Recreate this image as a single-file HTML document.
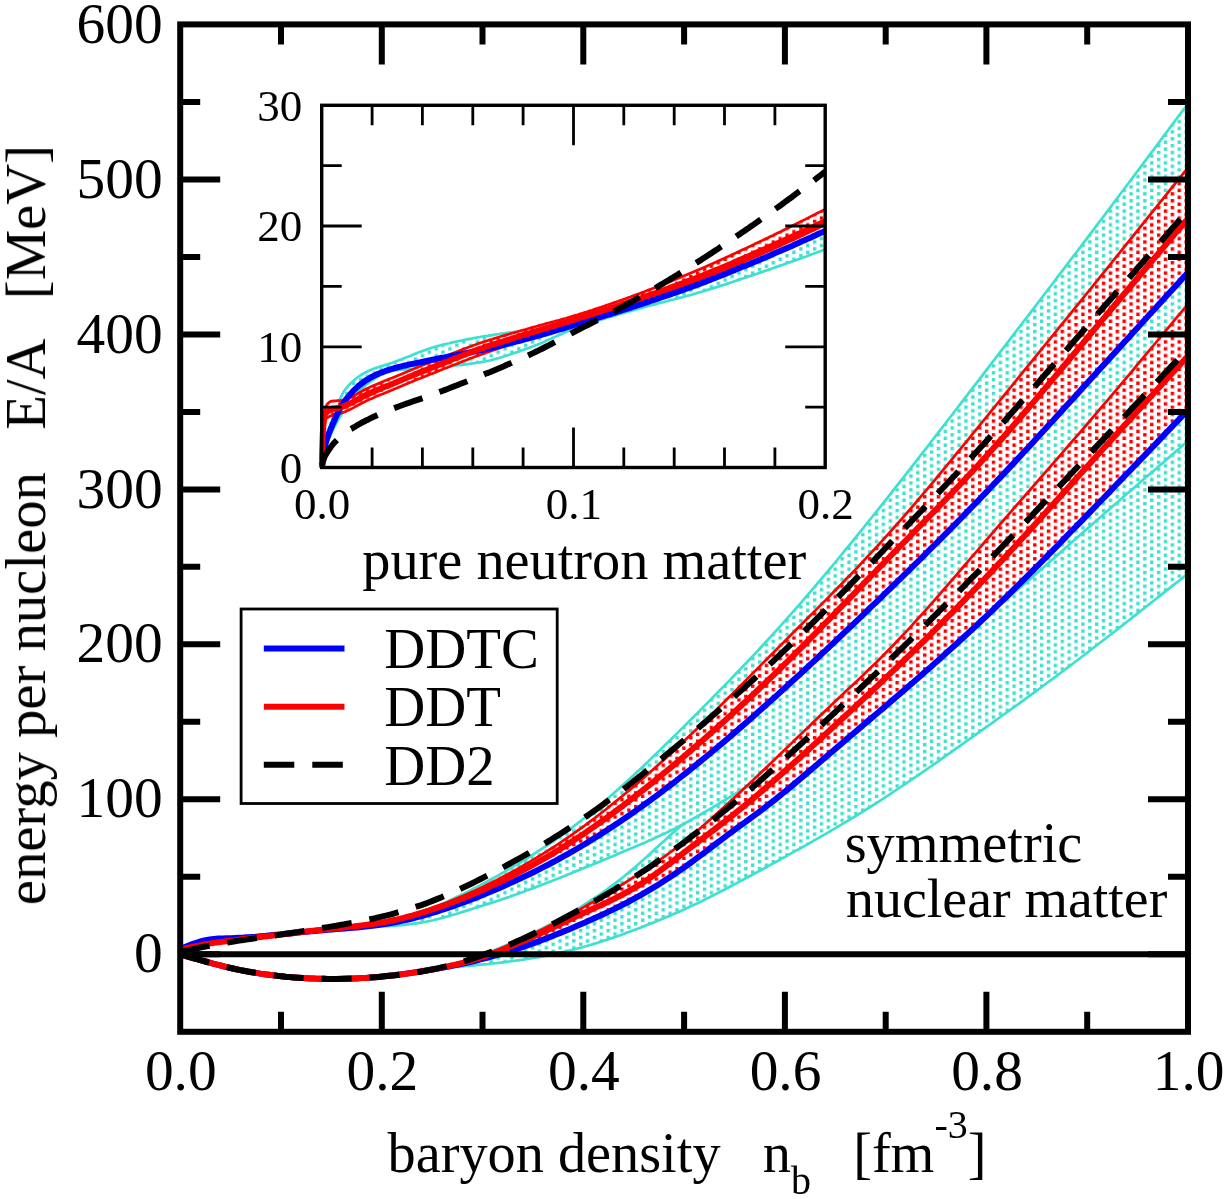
<!DOCTYPE html>
<html><head><meta charset="utf-8"><title>E/A vs baryon density</title>
<style>html,body{margin:0;padding:0;background:#fff}svg{display:block}text{white-space:pre}</style>
</head><body>
<svg width="1226" height="1199" viewBox="0 0 1226 1199">
<defs>
<pattern id="pt" patternUnits="userSpaceOnUse" x="1101.88" y="226.58" width="13.76" height="6.885"><rect x="0" y="0" width="3.44" height="3.44" fill="#40e0d0"/><rect x="6.88" y="3.44" width="3.44" height="3.44" fill="#40e0d0"/></pattern>
<pattern id="pr" patternUnits="userSpaceOnUse" x="1101.88" y="226.58" width="13.76" height="6.885"><rect x="0" y="0" width="3.44" height="3.44" fill="#ff0000"/><rect x="6.88" y="3.44" width="3.44" height="3.44" fill="#ff0000"/></pattern>
<clipPath id="cm"><rect x="180.2" y="24.4" width="1007.8" height="1007.4"/></clipPath>
<clipPath id="ci"><rect x="318.7" y="105.3" width="506.50000000000006" height="363.2"/></clipPath>
</defs>
<rect width="1226" height="1199" fill="#fff"/>
<g clip-path="url(#cm)" fill="none" stroke-linejoin="round">
<path d="M180.2,954.4 L184.4,955.6 L188.6,956.8 L192.9,958.0 L197.1,959.2 L201.3,960.4 L205.5,961.5 L209.7,962.7 L213.9,963.8 L218.2,964.9 L222.4,966.0 L226.6,967.1 L230.8,968.0 L235.0,969.0 L239.2,969.9 L243.5,970.7 L247.7,971.5 L251.9,972.2 L256.1,972.9 L260.3,973.6 L264.5,974.2 L268.8,974.8 L273.0,975.3 L277.2,975.8 L281.4,976.2 L285.6,976.7 L289.8,977.0 L294.1,977.4 L298.3,977.7 L302.5,978.0 L306.7,978.2 L310.9,978.4 L315.1,978.6 L319.4,978.7 L323.6,978.8 L327.8,978.9 L332.0,978.9 L336.2,978.9 L340.4,978.8 L344.7,978.7 L348.9,978.6 L353.1,978.5 L357.3,978.3 L361.5,978.0 L365.7,977.8 L370.0,977.5 L374.2,977.2 L378.4,976.9 L382.6,976.5 L386.8,976.1 L391.0,975.7 L395.3,975.3 L399.5,974.8 L403.7,974.3 L407.9,973.7 L412.1,973.1 L416.3,972.5 L420.6,971.8 L424.8,971.0 L429.0,970.2 L433.2,969.3 L437.4,968.3 L441.6,967.3 L445.9,966.2 L450.1,965.1 L454.3,963.8 L458.5,962.6 L462.7,961.3 L466.9,959.9 L471.2,958.5 L475.4,957.1 L479.6,955.6 L483.8,954.0 L488.0,952.5 L492.2,950.9 L496.5,949.2 L500.7,947.5 L504.9,945.8 L509.1,944.0 L513.3,942.2 L517.5,940.3 L521.8,938.4 L526.0,936.5 L530.2,934.5 L534.4,932.4 L538.6,930.3 L542.8,928.2 L547.1,926.0 L551.3,923.8 L555.5,921.5 L559.7,919.2 L563.9,916.8 L568.1,914.4 L572.4,911.9 L576.6,909.4 L580.8,906.8 L585.0,904.1 L589.2,901.4 L593.4,898.7 L597.7,895.9 L601.9,893.0 L606.1,890.0 L610.3,886.9 L614.5,883.8 L618.7,880.6 L623.0,877.3 L627.2,873.9 L631.4,870.4 L635.6,866.8 L639.8,863.0 L644.0,859.3 L648.3,855.4 L652.5,851.5 L656.7,847.6 L660.9,843.8 L665.1,839.9 L669.3,836.1 L673.6,832.3 L677.8,828.7 L682.0,825.1 L686.2,821.7 L690.4,818.3 L694.6,815.0 L698.9,811.7 L703.1,808.4 L707.3,805.2 L711.5,801.9 L715.7,798.6 L719.9,795.3 L724.2,791.9 L728.4,788.4 L732.6,784.9 L736.8,781.3 L741.0,777.7 L745.2,774.0 L749.5,770.3 L753.7,766.5 L757.9,762.7 L762.1,758.8 L766.3,754.9 L770.5,751.0 L774.8,747.0 L779.0,743.0 L783.2,739.0 L787.4,735.0 L791.6,731.0 L795.8,726.9 L800.1,722.8 L804.3,718.8 L808.5,714.7 L812.7,710.6 L816.9,706.5 L821.1,702.4 L825.4,698.3 L829.6,694.3 L833.8,690.2 L838.0,686.2 L842.2,682.1 L846.4,678.1 L850.7,674.1 L854.9,670.0 L859.1,666.0 L863.3,661.9 L867.5,657.9 L871.7,653.8 L876.0,649.6 L880.2,645.5 L884.4,641.3 L888.6,637.0 L892.8,632.7 L897.0,628.4 L901.3,624.0 L905.5,619.6 L909.7,615.2 L913.9,610.7 L918.1,606.2 L922.3,601.6 L926.6,597.0 L930.8,592.4 L935.0,587.8 L939.2,583.2 L943.4,578.5 L947.6,573.8 L951.9,569.1 L956.1,564.3 L960.3,559.6 L964.5,554.8 L968.7,550.1 L972.9,545.3 L977.2,540.5 L981.4,535.7 L985.6,531.0 L989.8,526.2 L994.0,521.4 L998.2,516.6 L1002.5,511.8 L1006.7,507.0 L1010.9,502.2 L1015.1,497.4 L1019.3,492.6 L1023.5,487.8 L1027.8,483.0 L1032.0,478.2 L1036.2,473.4 L1040.4,468.6 L1044.6,463.8 L1048.8,459.0 L1053.1,454.2 L1057.3,449.3 L1061.5,444.5 L1065.7,439.7 L1069.9,434.9 L1074.1,430.0 L1078.4,425.2 L1082.6,420.3 L1086.8,415.5 L1091.0,410.6 L1095.2,405.8 L1099.4,400.9 L1103.7,396.0 L1107.9,391.2 L1112.1,386.3 L1116.3,381.4 L1120.5,376.5 L1124.7,371.6 L1129.0,366.7 L1133.2,361.8 L1137.4,356.9 L1141.6,352.0 L1145.8,347.1 L1150.0,342.2 L1154.3,337.3 L1158.5,332.4 L1162.7,327.5 L1166.9,322.6 L1171.1,317.7 L1175.3,312.7 L1179.6,307.8 L1183.8,302.9 L1188.0,298.0 L1188.0,573.5 L1183.8,576.9 L1179.6,580.2 L1175.3,583.6 L1171.1,586.9 L1166.9,590.3 L1162.7,593.6 L1158.5,596.9 L1154.3,600.3 L1150.0,603.6 L1145.8,607.0 L1141.6,610.3 L1137.4,613.6 L1133.2,616.9 L1129.0,620.3 L1124.7,623.6 L1120.5,626.9 L1116.3,630.2 L1112.1,633.5 L1107.9,636.7 L1103.7,640.0 L1099.4,643.3 L1095.2,646.5 L1091.0,649.8 L1086.8,653.0 L1082.6,656.3 L1078.4,659.5 L1074.1,662.7 L1069.9,665.9 L1065.7,669.1 L1061.5,672.2 L1057.3,675.4 L1053.1,678.6 L1048.8,681.7 L1044.6,684.8 L1040.4,688.0 L1036.2,691.1 L1032.0,694.2 L1027.8,697.2 L1023.5,700.3 L1019.3,703.4 L1015.1,706.4 L1010.9,709.5 L1006.7,712.5 L1002.5,715.5 L998.2,718.5 L994.0,721.6 L989.8,724.6 L985.6,727.6 L981.4,730.6 L977.2,733.6 L972.9,736.7 L968.7,739.7 L964.5,742.7 L960.3,745.7 L956.1,748.7 L951.9,751.7 L947.6,754.7 L943.4,757.6 L939.2,760.6 L935.0,763.6 L930.8,766.5 L926.6,769.4 L922.3,772.4 L918.1,775.3 L913.9,778.2 L909.7,781.0 L905.5,783.9 L901.3,786.7 L897.0,789.5 L892.8,792.3 L888.6,795.1 L884.4,797.9 L880.2,800.6 L876.0,803.3 L871.7,806.0 L867.5,808.6 L863.3,811.3 L859.1,813.9 L854.9,816.5 L850.7,819.0 L846.4,821.6 L842.2,824.1 L838.0,826.6 L833.8,829.1 L829.6,831.6 L825.4,834.1 L821.1,836.5 L816.9,838.9 L812.7,841.4 L808.5,843.8 L804.3,846.1 L800.1,848.5 L795.8,850.9 L791.6,853.2 L787.4,855.6 L783.2,857.9 L779.0,860.3 L774.8,862.6 L770.5,864.9 L766.3,867.2 L762.1,869.5 L757.9,871.8 L753.7,874.1 L749.5,876.3 L745.2,878.6 L741.0,880.8 L736.8,883.1 L732.6,885.3 L728.4,887.5 L724.2,889.8 L719.9,892.0 L715.7,894.1 L711.5,896.3 L707.3,898.4 L703.1,900.5 L698.9,902.6 L694.6,904.6 L690.4,906.5 L686.2,908.5 L682.0,910.4 L677.8,912.3 L673.6,914.1 L669.3,915.9 L665.1,917.7 L660.9,919.5 L656.7,921.2 L652.5,922.9 L648.3,924.6 L644.0,926.2 L639.8,927.9 L635.6,929.5 L631.4,931.1 L627.2,932.6 L623.0,934.2 L618.7,935.7 L614.5,937.2 L610.3,938.6 L606.1,940.0 L601.9,941.4 L597.7,942.8 L593.4,944.1 L589.2,945.3 L585.0,946.5 L580.8,947.7 L576.6,948.8 L572.4,949.9 L568.1,950.9 L563.9,951.9 L559.7,952.9 L555.5,953.8 L551.3,954.7 L547.1,955.5 L542.8,956.3 L538.6,957.1 L534.4,957.8 L530.2,958.5 L526.0,959.2 L521.8,959.8 L517.5,960.4 L513.3,961.0 L509.1,961.5 L504.9,962.1 L500.7,962.6 L496.5,963.1 L492.2,963.5 L488.0,964.0 L483.8,964.4 L479.6,964.8 L475.4,965.2 L471.2,965.6 L466.9,965.9 L462.7,966.3 L458.5,966.7 L454.3,967.1 L450.1,967.5 L445.9,967.9 L441.6,968.4 L437.4,968.9 L433.2,969.4 L429.0,969.9 L424.8,970.5 L420.6,971.1 L416.3,971.7 L412.1,972.4 L407.9,973.0 L403.7,973.7 L399.5,974.3 L395.3,974.9 L391.0,975.5 L386.8,976.0 L382.6,976.5 L378.4,977.0 L374.2,977.3 L370.0,977.7 L365.7,978.0 L361.5,978.2 L357.3,978.5 L353.1,978.6 L348.9,978.8 L344.7,978.8 L340.4,978.9 L336.2,978.9 L332.0,978.9 L327.8,978.9 L323.6,978.8 L319.4,978.7 L315.1,978.5 L310.9,978.4 L306.7,978.2 L302.5,977.9 L298.3,977.7 L294.1,977.4 L289.8,977.0 L285.6,976.7 L281.4,976.2 L277.2,975.8 L273.0,975.3 L268.8,974.8 L264.5,974.2 L260.3,973.6 L256.1,973.0 L251.9,972.3 L247.7,971.5 L243.5,970.7 L239.2,969.9 L235.0,969.0 L230.8,968.0 L226.6,967.1 L222.4,966.0 L218.2,964.9 L213.9,963.8 L209.7,962.7 L205.5,961.5 L201.3,960.4 L197.1,959.2 L192.9,958.0 L188.6,956.8 L184.4,955.6 L180.2,954.4 Z" fill="url(#pt)"/>
<path d="M180.2,954.4 L184.4,955.6 L188.6,956.8 L192.9,958.0 L197.1,959.2 L201.3,960.4 L205.5,961.5 L209.7,962.7 L213.9,963.8 L218.2,964.9 L222.4,966.0 L226.6,967.1 L230.8,968.0 L235.0,969.0 L239.2,969.9 L243.5,970.7 L247.7,971.5 L251.9,972.2 L256.1,972.9 L260.3,973.6 L264.5,974.2 L268.8,974.8 L273.0,975.3 L277.2,975.8 L281.4,976.2 L285.6,976.7 L289.8,977.0 L294.1,977.4 L298.3,977.7 L302.5,978.0 L306.7,978.2 L310.9,978.4 L315.1,978.6 L319.4,978.7 L323.6,978.8 L327.8,978.9 L332.0,978.9 L336.2,978.9 L340.4,978.8 L344.7,978.7 L348.9,978.6 L353.1,978.5 L357.3,978.3 L361.5,978.0 L365.7,977.8 L370.0,977.5 L374.2,977.2 L378.4,976.9 L382.6,976.5 L386.8,976.1 L391.0,975.7 L395.3,975.3 L399.5,974.8 L403.7,974.3 L407.9,973.7 L412.1,973.1 L416.3,972.5 L420.6,971.8 L424.8,971.0 L429.0,970.2 L433.2,969.3 L437.4,968.3 L441.6,967.3 L445.9,966.2 L450.1,965.1 L454.3,963.8 L458.5,962.6 L462.7,961.3 L466.9,959.9 L471.2,958.5 L475.4,957.1 L479.6,955.6 L483.8,954.0 L488.0,952.5 L492.2,950.9 L496.5,949.2 L500.7,947.5 L504.9,945.8 L509.1,944.0 L513.3,942.2 L517.5,940.3 L521.8,938.4 L526.0,936.5 L530.2,934.5 L534.4,932.4 L538.6,930.3 L542.8,928.2 L547.1,926.0 L551.3,923.8 L555.5,921.5 L559.7,919.2 L563.9,916.8 L568.1,914.4 L572.4,911.9 L576.6,909.4 L580.8,906.8 L585.0,904.1 L589.2,901.4 L593.4,898.7 L597.7,895.9 L601.9,893.0 L606.1,890.0 L610.3,886.9 L614.5,883.8 L618.7,880.6 L623.0,877.3 L627.2,873.9 L631.4,870.4 L635.6,866.8 L639.8,863.0 L644.0,859.3 L648.3,855.4 L652.5,851.5 L656.7,847.6 L660.9,843.8 L665.1,839.9 L669.3,836.1 L673.6,832.3 L677.8,828.7 L682.0,825.1 L686.2,821.7 L690.4,818.3 L694.6,815.0 L698.9,811.7 L703.1,808.4 L707.3,805.2 L711.5,801.9 L715.7,798.6 L719.9,795.3 L724.2,791.9 L728.4,788.4 L732.6,784.9 L736.8,781.3 L741.0,777.7 L745.2,774.0 L749.5,770.3 L753.7,766.5 L757.9,762.7 L762.1,758.8 L766.3,754.9 L770.5,751.0 L774.8,747.0 L779.0,743.0 L783.2,739.0 L787.4,735.0 L791.6,731.0 L795.8,726.9 L800.1,722.8 L804.3,718.8 L808.5,714.7 L812.7,710.6 L816.9,706.5 L821.1,702.4 L825.4,698.3 L829.6,694.3 L833.8,690.2 L838.0,686.2 L842.2,682.1 L846.4,678.1 L850.7,674.1 L854.9,670.0 L859.1,666.0 L863.3,661.9 L867.5,657.9 L871.7,653.8 L876.0,649.6 L880.2,645.5 L884.4,641.3 L888.6,637.0 L892.8,632.7 L897.0,628.4 L901.3,624.0 L905.5,619.6 L909.7,615.2 L913.9,610.7 L918.1,606.2 L922.3,601.6 L926.6,597.0 L930.8,592.4 L935.0,587.8 L939.2,583.2 L943.4,578.5 L947.6,573.8 L951.9,569.1 L956.1,564.3 L960.3,559.6 L964.5,554.8 L968.7,550.1 L972.9,545.3 L977.2,540.5 L981.4,535.7 L985.6,531.0 L989.8,526.2 L994.0,521.4 L998.2,516.6 L1002.5,511.8 L1006.7,507.0 L1010.9,502.2 L1015.1,497.4 L1019.3,492.6 L1023.5,487.8 L1027.8,483.0 L1032.0,478.2 L1036.2,473.4 L1040.4,468.6 L1044.6,463.8 L1048.8,459.0 L1053.1,454.2 L1057.3,449.3 L1061.5,444.5 L1065.7,439.7 L1069.9,434.9 L1074.1,430.0 L1078.4,425.2 L1082.6,420.3 L1086.8,415.5 L1091.0,410.6 L1095.2,405.8 L1099.4,400.9 L1103.7,396.0 L1107.9,391.2 L1112.1,386.3 L1116.3,381.4 L1120.5,376.5 L1124.7,371.6 L1129.0,366.7 L1133.2,361.8 L1137.4,356.9 L1141.6,352.0 L1145.8,347.1 L1150.0,342.2 L1154.3,337.3 L1158.5,332.4 L1162.7,327.5 L1166.9,322.6 L1171.1,317.7 L1175.3,312.7 L1179.6,307.8 L1183.8,302.9 L1188.0,298.0" stroke="#40e0d0" stroke-width="2.7"/>
<path d="M180.2,954.4 L184.4,955.6 L188.6,956.8 L192.9,958.0 L197.1,959.2 L201.3,960.4 L205.5,961.5 L209.7,962.7 L213.9,963.8 L218.2,964.9 L222.4,966.0 L226.6,967.1 L230.8,968.0 L235.0,969.0 L239.2,969.9 L243.5,970.7 L247.7,971.5 L251.9,972.3 L256.1,973.0 L260.3,973.6 L264.5,974.2 L268.8,974.8 L273.0,975.3 L277.2,975.8 L281.4,976.2 L285.6,976.7 L289.8,977.0 L294.1,977.4 L298.3,977.7 L302.5,977.9 L306.7,978.2 L310.9,978.4 L315.1,978.5 L319.4,978.7 L323.6,978.8 L327.8,978.9 L332.0,978.9 L336.2,978.9 L340.4,978.9 L344.7,978.8 L348.9,978.8 L353.1,978.6 L357.3,978.5 L361.5,978.2 L365.7,978.0 L370.0,977.7 L374.2,977.3 L378.4,977.0 L382.6,976.5 L386.8,976.0 L391.0,975.5 L395.3,974.9 L399.5,974.3 L403.7,973.7 L407.9,973.0 L412.1,972.4 L416.3,971.7 L420.6,971.1 L424.8,970.5 L429.0,969.9 L433.2,969.4 L437.4,968.9 L441.6,968.4 L445.9,967.9 L450.1,967.5 L454.3,967.1 L458.5,966.7 L462.7,966.3 L466.9,965.9 L471.2,965.6 L475.4,965.2 L479.6,964.8 L483.8,964.4 L488.0,964.0 L492.2,963.5 L496.5,963.1 L500.7,962.6 L504.9,962.1 L509.1,961.5 L513.3,961.0 L517.5,960.4 L521.8,959.8 L526.0,959.2 L530.2,958.5 L534.4,957.8 L538.6,957.1 L542.8,956.3 L547.1,955.5 L551.3,954.7 L555.5,953.8 L559.7,952.9 L563.9,951.9 L568.1,950.9 L572.4,949.9 L576.6,948.8 L580.8,947.7 L585.0,946.5 L589.2,945.3 L593.4,944.1 L597.7,942.8 L601.9,941.4 L606.1,940.0 L610.3,938.6 L614.5,937.2 L618.7,935.7 L623.0,934.2 L627.2,932.6 L631.4,931.1 L635.6,929.5 L639.8,927.9 L644.0,926.2 L648.3,924.6 L652.5,922.9 L656.7,921.2 L660.9,919.5 L665.1,917.7 L669.3,915.9 L673.6,914.1 L677.8,912.3 L682.0,910.4 L686.2,908.5 L690.4,906.5 L694.6,904.6 L698.9,902.6 L703.1,900.5 L707.3,898.4 L711.5,896.3 L715.7,894.1 L719.9,892.0 L724.2,889.8 L728.4,887.5 L732.6,885.3 L736.8,883.1 L741.0,880.8 L745.2,878.6 L749.5,876.3 L753.7,874.1 L757.9,871.8 L762.1,869.5 L766.3,867.2 L770.5,864.9 L774.8,862.6 L779.0,860.3 L783.2,857.9 L787.4,855.6 L791.6,853.2 L795.8,850.9 L800.1,848.5 L804.3,846.1 L808.5,843.8 L812.7,841.4 L816.9,838.9 L821.1,836.5 L825.4,834.1 L829.6,831.6 L833.8,829.1 L838.0,826.6 L842.2,824.1 L846.4,821.6 L850.7,819.0 L854.9,816.5 L859.1,813.9 L863.3,811.3 L867.5,808.6 L871.7,806.0 L876.0,803.3 L880.2,800.6 L884.4,797.9 L888.6,795.1 L892.8,792.3 L897.0,789.5 L901.3,786.7 L905.5,783.9 L909.7,781.0 L913.9,778.2 L918.1,775.3 L922.3,772.4 L926.6,769.4 L930.8,766.5 L935.0,763.6 L939.2,760.6 L943.4,757.6 L947.6,754.7 L951.9,751.7 L956.1,748.7 L960.3,745.7 L964.5,742.7 L968.7,739.7 L972.9,736.7 L977.2,733.6 L981.4,730.6 L985.6,727.6 L989.8,724.6 L994.0,721.6 L998.2,718.5 L1002.5,715.5 L1006.7,712.5 L1010.9,709.5 L1015.1,706.4 L1019.3,703.4 L1023.5,700.3 L1027.8,697.2 L1032.0,694.2 L1036.2,691.1 L1040.4,688.0 L1044.6,684.8 L1048.8,681.7 L1053.1,678.6 L1057.3,675.4 L1061.5,672.2 L1065.7,669.1 L1069.9,665.9 L1074.1,662.7 L1078.4,659.5 L1082.6,656.3 L1086.8,653.0 L1091.0,649.8 L1095.2,646.5 L1099.4,643.3 L1103.7,640.0 L1107.9,636.7 L1112.1,633.5 L1116.3,630.2 L1120.5,626.9 L1124.7,623.6 L1129.0,620.3 L1133.2,616.9 L1137.4,613.6 L1141.6,610.3 L1145.8,607.0 L1150.0,603.6 L1154.3,600.3 L1158.5,596.9 L1162.7,593.6 L1166.9,590.3 L1171.1,586.9 L1175.3,583.6 L1179.6,580.2 L1183.8,576.9 L1188.0,573.5" stroke="#40e0d0" stroke-width="2.7"/>
<path d="M180.2,949.0 L184.4,947.2 L188.6,945.5 L192.9,943.9 L197.1,942.5 L201.3,941.2 L205.5,940.2 L209.7,939.4 L213.9,939.0 L218.2,938.6 L222.4,938.4 L226.6,938.3 L230.8,938.2 L235.0,938.0 L239.2,937.8 L243.5,937.6 L247.7,937.3 L251.9,937.0 L256.1,936.6 L260.3,936.3 L264.5,935.9 L268.8,935.5 L273.0,935.1 L277.2,934.7 L281.4,934.3 L285.6,933.8 L289.8,933.4 L294.1,933.0 L298.3,932.6 L302.5,932.2 L306.7,931.8 L310.9,931.4 L315.1,931.0 L319.4,930.6 L323.6,930.2 L327.8,929.8 L332.0,929.4 L336.2,929.0 L340.4,928.6 L344.7,928.2 L348.9,927.8 L353.1,927.3 L357.3,926.8 L361.5,926.3 L365.7,925.7 L370.0,925.1 L374.2,924.4 L378.4,923.6 L382.6,922.8 L386.8,922.0 L391.0,921.0 L395.3,920.0 L399.5,918.9 L403.7,917.7 L407.9,916.5 L412.1,915.2 L416.3,913.8 L420.6,912.3 L424.8,910.8 L429.0,909.2 L433.2,907.6 L437.4,905.9 L441.6,904.1 L445.9,902.2 L450.1,900.3 L454.3,898.3 L458.5,896.3 L462.7,894.2 L466.9,892.1 L471.2,890.0 L475.4,887.8 L479.6,885.6 L483.8,883.3 L488.0,881.0 L492.2,878.7 L496.5,876.4 L500.7,874.0 L504.9,871.6 L509.1,869.2 L513.3,866.7 L517.5,864.2 L521.8,861.6 L526.0,859.0 L530.2,856.4 L534.4,853.7 L538.6,850.9 L542.8,848.2 L547.1,845.3 L551.3,842.5 L555.5,839.5 L559.7,836.5 L563.9,833.5 L568.1,830.4 L572.4,827.3 L576.6,824.1 L580.8,820.8 L585.0,817.5 L589.2,814.1 L593.4,810.6 L597.7,807.1 L601.9,803.5 L606.1,799.9 L610.3,796.3 L614.5,792.6 L618.7,788.8 L623.0,785.0 L627.2,781.1 L631.4,777.3 L635.6,773.3 L639.8,769.4 L644.0,765.4 L648.3,761.4 L652.5,757.3 L656.7,753.3 L660.9,749.2 L665.1,745.0 L669.3,740.9 L673.6,736.7 L677.8,732.6 L682.0,728.4 L686.2,724.2 L690.4,720.0 L694.6,715.8 L698.9,711.6 L703.1,707.3 L707.3,703.1 L711.5,698.8 L715.7,694.5 L719.9,690.2 L724.2,685.9 L728.4,681.6 L732.6,677.2 L736.8,672.8 L741.0,668.4 L745.2,664.0 L749.5,659.5 L753.7,655.1 L757.9,650.6 L762.1,646.0 L766.3,641.5 L770.5,636.9 L774.8,632.2 L779.0,627.6 L783.2,622.9 L787.4,618.2 L791.6,613.4 L795.8,608.6 L800.1,603.8 L804.3,598.9 L808.5,594.0 L812.7,589.1 L816.9,584.2 L821.1,579.2 L825.4,574.2 L829.6,569.1 L833.8,564.1 L838.0,559.0 L842.2,553.9 L846.4,548.7 L850.7,543.6 L854.9,538.4 L859.1,533.2 L863.3,528.0 L867.5,522.7 L871.7,517.5 L876.0,512.2 L880.2,506.9 L884.4,501.6 L888.6,496.3 L892.8,490.9 L897.0,485.6 L901.3,480.2 L905.5,474.8 L909.7,469.4 L913.9,464.0 L918.1,458.6 L922.3,453.2 L926.6,447.8 L930.8,442.3 L935.0,436.9 L939.2,431.4 L943.4,426.0 L947.6,420.5 L951.9,415.0 L956.1,409.5 L960.3,404.1 L964.5,398.6 L968.7,393.1 L972.9,387.6 L977.2,382.1 L981.4,376.6 L985.6,371.1 L989.8,365.6 L994.0,360.1 L998.2,354.6 L1002.5,349.1 L1006.7,343.6 L1010.9,338.1 L1015.1,332.6 L1019.3,327.1 L1023.5,321.6 L1027.8,316.1 L1032.0,310.6 L1036.2,305.1 L1040.4,299.5 L1044.6,294.0 L1048.8,288.5 L1053.1,283.0 L1057.3,277.4 L1061.5,271.9 L1065.7,266.4 L1069.9,260.8 L1074.1,255.3 L1078.4,249.7 L1082.6,244.1 L1086.8,238.6 L1091.0,233.0 L1095.2,227.4 L1099.4,221.8 L1103.7,216.2 L1107.9,210.6 L1112.1,205.0 L1116.3,199.4 L1120.5,193.8 L1124.7,188.2 L1129.0,182.5 L1133.2,176.9 L1137.4,171.3 L1141.6,165.6 L1145.8,160.0 L1150.0,154.4 L1154.3,148.7 L1158.5,143.1 L1162.7,137.4 L1166.9,131.8 L1171.1,126.1 L1175.3,120.5 L1179.6,114.8 L1183.8,109.2 L1188.0,103.5 L1188.0,441.0 L1183.8,444.6 L1179.6,448.3 L1175.3,451.9 L1171.1,455.6 L1166.9,459.2 L1162.7,462.9 L1158.5,466.5 L1154.3,470.2 L1150.0,473.8 L1145.8,477.5 L1141.6,481.1 L1137.4,484.8 L1133.2,488.5 L1129.0,492.1 L1124.7,495.8 L1120.5,499.5 L1116.3,503.2 L1112.1,506.8 L1107.9,510.5 L1103.7,514.2 L1099.4,517.9 L1095.2,521.7 L1091.0,525.4 L1086.8,529.1 L1082.6,532.8 L1078.4,536.6 L1074.1,540.3 L1069.9,544.0 L1065.7,547.8 L1061.5,551.5 L1057.3,555.2 L1053.1,559.0 L1048.8,562.7 L1044.6,566.4 L1040.4,570.0 L1036.2,573.7 L1032.0,577.4 L1027.8,581.0 L1023.5,584.6 L1019.3,588.2 L1015.1,591.8 L1010.9,595.3 L1006.7,598.9 L1002.5,602.4 L998.2,605.9 L994.0,609.4 L989.8,612.9 L985.6,616.3 L981.4,619.8 L977.2,623.2 L972.9,626.6 L968.7,630.0 L964.5,633.3 L960.3,636.7 L956.1,640.0 L951.9,643.3 L947.6,646.6 L943.4,649.9 L939.2,653.2 L935.0,656.5 L930.8,659.7 L926.6,662.9 L922.3,666.1 L918.1,669.3 L913.9,672.5 L909.7,675.7 L905.5,678.8 L901.3,681.9 L897.0,685.0 L892.8,688.1 L888.6,691.2 L884.4,694.3 L880.2,697.4 L876.0,700.4 L871.7,703.4 L867.5,706.4 L863.3,709.4 L859.1,712.4 L854.9,715.4 L850.7,718.3 L846.4,721.2 L842.2,724.2 L838.0,727.1 L833.8,730.0 L829.6,732.8 L825.4,735.7 L821.1,738.6 L816.9,741.4 L812.7,744.2 L808.5,747.0 L804.3,749.8 L800.1,752.6 L795.8,755.4 L791.6,758.1 L787.4,760.9 L783.2,763.6 L779.0,766.3 L774.8,769.0 L770.5,771.7 L766.3,774.4 L762.1,777.1 L757.9,779.7 L753.7,782.4 L749.5,785.0 L745.2,787.6 L741.0,790.2 L736.8,792.8 L732.6,795.4 L728.4,797.9 L724.2,800.5 L719.9,803.0 L715.7,805.6 L711.5,808.1 L707.3,810.6 L703.1,813.0 L698.9,815.5 L694.6,817.9 L690.4,820.2 L686.2,822.6 L682.0,824.8 L677.8,827.1 L673.6,829.2 L669.3,831.3 L665.1,833.4 L660.9,835.3 L656.7,837.3 L652.5,839.2 L648.3,841.1 L644.0,842.9 L639.8,844.7 L635.6,846.5 L631.4,848.3 L627.2,850.1 L623.0,851.8 L618.7,853.6 L614.5,855.4 L610.3,857.2 L606.1,858.9 L601.9,860.7 L597.7,862.4 L593.4,864.2 L589.2,865.9 L585.0,867.6 L580.8,869.4 L576.6,871.1 L572.4,872.8 L568.1,874.5 L563.9,876.2 L559.7,877.9 L555.5,879.5 L551.3,881.2 L547.1,882.8 L542.8,884.5 L538.6,886.1 L534.4,887.7 L530.2,889.3 L526.0,890.8 L521.8,892.4 L517.5,893.9 L513.3,895.4 L509.1,896.9 L504.9,898.4 L500.7,899.8 L496.5,901.2 L492.2,902.6 L488.0,903.9 L483.8,905.3 L479.6,906.6 L475.4,907.9 L471.2,909.3 L466.9,910.6 L462.7,911.9 L458.5,913.2 L454.3,914.5 L450.1,915.7 L445.9,917.0 L441.6,918.1 L437.4,919.2 L433.2,920.3 L429.0,921.2 L424.8,922.0 L420.6,922.7 L416.3,923.4 L412.1,923.9 L407.9,924.4 L403.7,924.9 L399.5,925.3 L395.3,925.6 L391.0,925.9 L386.8,926.2 L382.6,926.5 L378.4,926.7 L374.2,926.9 L370.0,927.2 L365.7,927.4 L361.5,927.6 L357.3,927.9 L353.1,928.1 L348.9,928.3 L344.7,928.6 L340.4,928.9 L336.2,929.1 L332.0,929.5 L327.8,929.8 L323.6,930.1 L319.4,930.5 L315.1,930.9 L310.9,931.3 L306.7,931.7 L302.5,932.1 L298.3,932.5 L294.1,933.0 L289.8,933.4 L285.6,933.8 L281.4,934.3 L277.2,934.7 L273.0,935.1 L268.8,935.5 L264.5,935.9 L260.3,936.3 L256.1,936.7 L251.9,937.0 L247.7,937.3 L243.5,937.6 L239.2,937.8 L235.0,938.0 L230.8,938.2 L226.6,938.3 L222.4,938.4 L218.2,938.6 L213.9,938.9 L209.7,939.4 L205.5,940.2 L201.3,941.2 L197.1,942.5 L192.9,943.9 L188.6,945.5 L184.4,947.2 L180.2,949.0 Z" fill="#fff"/>
<path d="M180.2,949.0 L184.4,947.2 L188.6,945.5 L192.9,943.9 L197.1,942.5 L201.3,941.2 L205.5,940.2 L209.7,939.4 L213.9,939.0 L218.2,938.6 L222.4,938.4 L226.6,938.3 L230.8,938.2 L235.0,938.0 L239.2,937.8 L243.5,937.6 L247.7,937.3 L251.9,937.0 L256.1,936.6 L260.3,936.3 L264.5,935.9 L268.8,935.5 L273.0,935.1 L277.2,934.7 L281.4,934.3 L285.6,933.8 L289.8,933.4 L294.1,933.0 L298.3,932.6 L302.5,932.2 L306.7,931.8 L310.9,931.4 L315.1,931.0 L319.4,930.6 L323.6,930.2 L327.8,929.8 L332.0,929.4 L336.2,929.0 L340.4,928.6 L344.7,928.2 L348.9,927.8 L353.1,927.3 L357.3,926.8 L361.5,926.3 L365.7,925.7 L370.0,925.1 L374.2,924.4 L378.4,923.6 L382.6,922.8 L386.8,922.0 L391.0,921.0 L395.3,920.0 L399.5,918.9 L403.7,917.7 L407.9,916.5 L412.1,915.2 L416.3,913.8 L420.6,912.3 L424.8,910.8 L429.0,909.2 L433.2,907.6 L437.4,905.9 L441.6,904.1 L445.9,902.2 L450.1,900.3 L454.3,898.3 L458.5,896.3 L462.7,894.2 L466.9,892.1 L471.2,890.0 L475.4,887.8 L479.6,885.6 L483.8,883.3 L488.0,881.0 L492.2,878.7 L496.5,876.4 L500.7,874.0 L504.9,871.6 L509.1,869.2 L513.3,866.7 L517.5,864.2 L521.8,861.6 L526.0,859.0 L530.2,856.4 L534.4,853.7 L538.6,850.9 L542.8,848.2 L547.1,845.3 L551.3,842.5 L555.5,839.5 L559.7,836.5 L563.9,833.5 L568.1,830.4 L572.4,827.3 L576.6,824.1 L580.8,820.8 L585.0,817.5 L589.2,814.1 L593.4,810.6 L597.7,807.1 L601.9,803.5 L606.1,799.9 L610.3,796.3 L614.5,792.6 L618.7,788.8 L623.0,785.0 L627.2,781.1 L631.4,777.3 L635.6,773.3 L639.8,769.4 L644.0,765.4 L648.3,761.4 L652.5,757.3 L656.7,753.3 L660.9,749.2 L665.1,745.0 L669.3,740.9 L673.6,736.7 L677.8,732.6 L682.0,728.4 L686.2,724.2 L690.4,720.0 L694.6,715.8 L698.9,711.6 L703.1,707.3 L707.3,703.1 L711.5,698.8 L715.7,694.5 L719.9,690.2 L724.2,685.9 L728.4,681.6 L732.6,677.2 L736.8,672.8 L741.0,668.4 L745.2,664.0 L749.5,659.5 L753.7,655.1 L757.9,650.6 L762.1,646.0 L766.3,641.5 L770.5,636.9 L774.8,632.2 L779.0,627.6 L783.2,622.9 L787.4,618.2 L791.6,613.4 L795.8,608.6 L800.1,603.8 L804.3,598.9 L808.5,594.0 L812.7,589.1 L816.9,584.2 L821.1,579.2 L825.4,574.2 L829.6,569.1 L833.8,564.1 L838.0,559.0 L842.2,553.9 L846.4,548.7 L850.7,543.6 L854.9,538.4 L859.1,533.2 L863.3,528.0 L867.5,522.7 L871.7,517.5 L876.0,512.2 L880.2,506.9 L884.4,501.6 L888.6,496.3 L892.8,490.9 L897.0,485.6 L901.3,480.2 L905.5,474.8 L909.7,469.4 L913.9,464.0 L918.1,458.6 L922.3,453.2 L926.6,447.8 L930.8,442.3 L935.0,436.9 L939.2,431.4 L943.4,426.0 L947.6,420.5 L951.9,415.0 L956.1,409.5 L960.3,404.1 L964.5,398.6 L968.7,393.1 L972.9,387.6 L977.2,382.1 L981.4,376.6 L985.6,371.1 L989.8,365.6 L994.0,360.1 L998.2,354.6 L1002.5,349.1 L1006.7,343.6 L1010.9,338.1 L1015.1,332.6 L1019.3,327.1 L1023.5,321.6 L1027.8,316.1 L1032.0,310.6 L1036.2,305.1 L1040.4,299.5 L1044.6,294.0 L1048.8,288.5 L1053.1,283.0 L1057.3,277.4 L1061.5,271.9 L1065.7,266.4 L1069.9,260.8 L1074.1,255.3 L1078.4,249.7 L1082.6,244.1 L1086.8,238.6 L1091.0,233.0 L1095.2,227.4 L1099.4,221.8 L1103.7,216.2 L1107.9,210.6 L1112.1,205.0 L1116.3,199.4 L1120.5,193.8 L1124.7,188.2 L1129.0,182.5 L1133.2,176.9 L1137.4,171.3 L1141.6,165.6 L1145.8,160.0 L1150.0,154.4 L1154.3,148.7 L1158.5,143.1 L1162.7,137.4 L1166.9,131.8 L1171.1,126.1 L1175.3,120.5 L1179.6,114.8 L1183.8,109.2 L1188.0,103.5 L1188.0,441.0 L1183.8,444.6 L1179.6,448.3 L1175.3,451.9 L1171.1,455.6 L1166.9,459.2 L1162.7,462.9 L1158.5,466.5 L1154.3,470.2 L1150.0,473.8 L1145.8,477.5 L1141.6,481.1 L1137.4,484.8 L1133.2,488.5 L1129.0,492.1 L1124.7,495.8 L1120.5,499.5 L1116.3,503.2 L1112.1,506.8 L1107.9,510.5 L1103.7,514.2 L1099.4,517.9 L1095.2,521.7 L1091.0,525.4 L1086.8,529.1 L1082.6,532.8 L1078.4,536.6 L1074.1,540.3 L1069.9,544.0 L1065.7,547.8 L1061.5,551.5 L1057.3,555.2 L1053.1,559.0 L1048.8,562.7 L1044.6,566.4 L1040.4,570.0 L1036.2,573.7 L1032.0,577.4 L1027.8,581.0 L1023.5,584.6 L1019.3,588.2 L1015.1,591.8 L1010.9,595.3 L1006.7,598.9 L1002.5,602.4 L998.2,605.9 L994.0,609.4 L989.8,612.9 L985.6,616.3 L981.4,619.8 L977.2,623.2 L972.9,626.6 L968.7,630.0 L964.5,633.3 L960.3,636.7 L956.1,640.0 L951.9,643.3 L947.6,646.6 L943.4,649.9 L939.2,653.2 L935.0,656.5 L930.8,659.7 L926.6,662.9 L922.3,666.1 L918.1,669.3 L913.9,672.5 L909.7,675.7 L905.5,678.8 L901.3,681.9 L897.0,685.0 L892.8,688.1 L888.6,691.2 L884.4,694.3 L880.2,697.4 L876.0,700.4 L871.7,703.4 L867.5,706.4 L863.3,709.4 L859.1,712.4 L854.9,715.4 L850.7,718.3 L846.4,721.2 L842.2,724.2 L838.0,727.1 L833.8,730.0 L829.6,732.8 L825.4,735.7 L821.1,738.6 L816.9,741.4 L812.7,744.2 L808.5,747.0 L804.3,749.8 L800.1,752.6 L795.8,755.4 L791.6,758.1 L787.4,760.9 L783.2,763.6 L779.0,766.3 L774.8,769.0 L770.5,771.7 L766.3,774.4 L762.1,777.1 L757.9,779.7 L753.7,782.4 L749.5,785.0 L745.2,787.6 L741.0,790.2 L736.8,792.8 L732.6,795.4 L728.4,797.9 L724.2,800.5 L719.9,803.0 L715.7,805.6 L711.5,808.1 L707.3,810.6 L703.1,813.0 L698.9,815.5 L694.6,817.9 L690.4,820.2 L686.2,822.6 L682.0,824.8 L677.8,827.1 L673.6,829.2 L669.3,831.3 L665.1,833.4 L660.9,835.3 L656.7,837.3 L652.5,839.2 L648.3,841.1 L644.0,842.9 L639.8,844.7 L635.6,846.5 L631.4,848.3 L627.2,850.1 L623.0,851.8 L618.7,853.6 L614.5,855.4 L610.3,857.2 L606.1,858.9 L601.9,860.7 L597.7,862.4 L593.4,864.2 L589.2,865.9 L585.0,867.6 L580.8,869.4 L576.6,871.1 L572.4,872.8 L568.1,874.5 L563.9,876.2 L559.7,877.9 L555.5,879.5 L551.3,881.2 L547.1,882.8 L542.8,884.5 L538.6,886.1 L534.4,887.7 L530.2,889.3 L526.0,890.8 L521.8,892.4 L517.5,893.9 L513.3,895.4 L509.1,896.9 L504.9,898.4 L500.7,899.8 L496.5,901.2 L492.2,902.6 L488.0,903.9 L483.8,905.3 L479.6,906.6 L475.4,907.9 L471.2,909.3 L466.9,910.6 L462.7,911.9 L458.5,913.2 L454.3,914.5 L450.1,915.7 L445.9,917.0 L441.6,918.1 L437.4,919.2 L433.2,920.3 L429.0,921.2 L424.8,922.0 L420.6,922.7 L416.3,923.4 L412.1,923.9 L407.9,924.4 L403.7,924.9 L399.5,925.3 L395.3,925.6 L391.0,925.9 L386.8,926.2 L382.6,926.5 L378.4,926.7 L374.2,926.9 L370.0,927.2 L365.7,927.4 L361.5,927.6 L357.3,927.9 L353.1,928.1 L348.9,928.3 L344.7,928.6 L340.4,928.9 L336.2,929.1 L332.0,929.5 L327.8,929.8 L323.6,930.1 L319.4,930.5 L315.1,930.9 L310.9,931.3 L306.7,931.7 L302.5,932.1 L298.3,932.5 L294.1,933.0 L289.8,933.4 L285.6,933.8 L281.4,934.3 L277.2,934.7 L273.0,935.1 L268.8,935.5 L264.5,935.9 L260.3,936.3 L256.1,936.7 L251.9,937.0 L247.7,937.3 L243.5,937.6 L239.2,937.8 L235.0,938.0 L230.8,938.2 L226.6,938.3 L222.4,938.4 L218.2,938.6 L213.9,938.9 L209.7,939.4 L205.5,940.2 L201.3,941.2 L197.1,942.5 L192.9,943.9 L188.6,945.5 L184.4,947.2 L180.2,949.0 Z" fill="url(#pt)"/>
<path d="M180.2,949.0 L184.4,947.2 L188.6,945.5 L192.9,943.9 L197.1,942.5 L201.3,941.2 L205.5,940.2 L209.7,939.4 L213.9,939.0 L218.2,938.6 L222.4,938.4 L226.6,938.3 L230.8,938.2 L235.0,938.0 L239.2,937.8 L243.5,937.6 L247.7,937.3 L251.9,937.0 L256.1,936.6 L260.3,936.3 L264.5,935.9 L268.8,935.5 L273.0,935.1 L277.2,934.7 L281.4,934.3 L285.6,933.8 L289.8,933.4 L294.1,933.0 L298.3,932.6 L302.5,932.2 L306.7,931.8 L310.9,931.4 L315.1,931.0 L319.4,930.6 L323.6,930.2 L327.8,929.8 L332.0,929.4 L336.2,929.0 L340.4,928.6 L344.7,928.2 L348.9,927.8 L353.1,927.3 L357.3,926.8 L361.5,926.3 L365.7,925.7 L370.0,925.1 L374.2,924.4 L378.4,923.6 L382.6,922.8 L386.8,922.0 L391.0,921.0 L395.3,920.0 L399.5,918.9 L403.7,917.7 L407.9,916.5 L412.1,915.2 L416.3,913.8 L420.6,912.3 L424.8,910.8 L429.0,909.2 L433.2,907.6 L437.4,905.9 L441.6,904.1 L445.9,902.2 L450.1,900.3 L454.3,898.3 L458.5,896.3 L462.7,894.2 L466.9,892.1 L471.2,890.0 L475.4,887.8 L479.6,885.6 L483.8,883.3 L488.0,881.0 L492.2,878.7 L496.5,876.4 L500.7,874.0 L504.9,871.6 L509.1,869.2 L513.3,866.7 L517.5,864.2 L521.8,861.6 L526.0,859.0 L530.2,856.4 L534.4,853.7 L538.6,850.9 L542.8,848.2 L547.1,845.3 L551.3,842.5 L555.5,839.5 L559.7,836.5 L563.9,833.5 L568.1,830.4 L572.4,827.3 L576.6,824.1 L580.8,820.8 L585.0,817.5 L589.2,814.1 L593.4,810.6 L597.7,807.1 L601.9,803.5 L606.1,799.9 L610.3,796.3 L614.5,792.6 L618.7,788.8 L623.0,785.0 L627.2,781.1 L631.4,777.3 L635.6,773.3 L639.8,769.4 L644.0,765.4 L648.3,761.4 L652.5,757.3 L656.7,753.3 L660.9,749.2 L665.1,745.0 L669.3,740.9 L673.6,736.7 L677.8,732.6 L682.0,728.4 L686.2,724.2 L690.4,720.0 L694.6,715.8 L698.9,711.6 L703.1,707.3 L707.3,703.1 L711.5,698.8 L715.7,694.5 L719.9,690.2 L724.2,685.9 L728.4,681.6 L732.6,677.2 L736.8,672.8 L741.0,668.4 L745.2,664.0 L749.5,659.5 L753.7,655.1 L757.9,650.6 L762.1,646.0 L766.3,641.5 L770.5,636.9 L774.8,632.2 L779.0,627.6 L783.2,622.9 L787.4,618.2 L791.6,613.4 L795.8,608.6 L800.1,603.8 L804.3,598.9 L808.5,594.0 L812.7,589.1 L816.9,584.2 L821.1,579.2 L825.4,574.2 L829.6,569.1 L833.8,564.1 L838.0,559.0 L842.2,553.9 L846.4,548.7 L850.7,543.6 L854.9,538.4 L859.1,533.2 L863.3,528.0 L867.5,522.7 L871.7,517.5 L876.0,512.2 L880.2,506.9 L884.4,501.6 L888.6,496.3 L892.8,490.9 L897.0,485.6 L901.3,480.2 L905.5,474.8 L909.7,469.4 L913.9,464.0 L918.1,458.6 L922.3,453.2 L926.6,447.8 L930.8,442.3 L935.0,436.9 L939.2,431.4 L943.4,426.0 L947.6,420.5 L951.9,415.0 L956.1,409.5 L960.3,404.1 L964.5,398.6 L968.7,393.1 L972.9,387.6 L977.2,382.1 L981.4,376.6 L985.6,371.1 L989.8,365.6 L994.0,360.1 L998.2,354.6 L1002.5,349.1 L1006.7,343.6 L1010.9,338.1 L1015.1,332.6 L1019.3,327.1 L1023.5,321.6 L1027.8,316.1 L1032.0,310.6 L1036.2,305.1 L1040.4,299.5 L1044.6,294.0 L1048.8,288.5 L1053.1,283.0 L1057.3,277.4 L1061.5,271.9 L1065.7,266.4 L1069.9,260.8 L1074.1,255.3 L1078.4,249.7 L1082.6,244.1 L1086.8,238.6 L1091.0,233.0 L1095.2,227.4 L1099.4,221.8 L1103.7,216.2 L1107.9,210.6 L1112.1,205.0 L1116.3,199.4 L1120.5,193.8 L1124.7,188.2 L1129.0,182.5 L1133.2,176.9 L1137.4,171.3 L1141.6,165.6 L1145.8,160.0 L1150.0,154.4 L1154.3,148.7 L1158.5,143.1 L1162.7,137.4 L1166.9,131.8 L1171.1,126.1 L1175.3,120.5 L1179.6,114.8 L1183.8,109.2 L1188.0,103.5" stroke="#40e0d0" stroke-width="2.7"/>
<path d="M180.2,949.0 L184.4,947.2 L188.6,945.5 L192.9,943.9 L197.1,942.5 L201.3,941.2 L205.5,940.2 L209.7,939.4 L213.9,938.9 L218.2,938.6 L222.4,938.4 L226.6,938.3 L230.8,938.2 L235.0,938.0 L239.2,937.8 L243.5,937.6 L247.7,937.3 L251.9,937.0 L256.1,936.7 L260.3,936.3 L264.5,935.9 L268.8,935.5 L273.0,935.1 L277.2,934.7 L281.4,934.3 L285.6,933.8 L289.8,933.4 L294.1,933.0 L298.3,932.5 L302.5,932.1 L306.7,931.7 L310.9,931.3 L315.1,930.9 L319.4,930.5 L323.6,930.1 L327.8,929.8 L332.0,929.5 L336.2,929.1 L340.4,928.9 L344.7,928.6 L348.9,928.3 L353.1,928.1 L357.3,927.9 L361.5,927.6 L365.7,927.4 L370.0,927.2 L374.2,926.9 L378.4,926.7 L382.6,926.5 L386.8,926.2 L391.0,925.9 L395.3,925.6 L399.5,925.3 L403.7,924.9 L407.9,924.4 L412.1,923.9 L416.3,923.4 L420.6,922.7 L424.8,922.0 L429.0,921.2 L433.2,920.3 L437.4,919.2 L441.6,918.1 L445.9,917.0 L450.1,915.7 L454.3,914.5 L458.5,913.2 L462.7,911.9 L466.9,910.6 L471.2,909.3 L475.4,907.9 L479.6,906.6 L483.8,905.3 L488.0,903.9 L492.2,902.6 L496.5,901.2 L500.7,899.8 L504.9,898.4 L509.1,896.9 L513.3,895.4 L517.5,893.9 L521.8,892.4 L526.0,890.8 L530.2,889.3 L534.4,887.7 L538.6,886.1 L542.8,884.5 L547.1,882.8 L551.3,881.2 L555.5,879.5 L559.7,877.9 L563.9,876.2 L568.1,874.5 L572.4,872.8 L576.6,871.1 L580.8,869.4 L585.0,867.6 L589.2,865.9 L593.4,864.2 L597.7,862.4 L601.9,860.7 L606.1,858.9 L610.3,857.2 L614.5,855.4 L618.7,853.6 L623.0,851.8 L627.2,850.1 L631.4,848.3 L635.6,846.5 L639.8,844.7 L644.0,842.9 L648.3,841.1 L652.5,839.2 L656.7,837.3 L660.9,835.3 L665.1,833.4 L669.3,831.3 L673.6,829.2 L677.8,827.1 L682.0,824.8 L686.2,822.6 L690.4,820.2 L694.6,817.9 L698.9,815.5 L703.1,813.0 L707.3,810.6 L711.5,808.1 L715.7,805.6 L719.9,803.0 L724.2,800.5 L728.4,797.9 L732.6,795.4 L736.8,792.8 L741.0,790.2 L745.2,787.6 L749.5,785.0 L753.7,782.4 L757.9,779.7 L762.1,777.1 L766.3,774.4 L770.5,771.7 L774.8,769.0 L779.0,766.3 L783.2,763.6 L787.4,760.9 L791.6,758.1 L795.8,755.4 L800.1,752.6 L804.3,749.8 L808.5,747.0 L812.7,744.2 L816.9,741.4 L821.1,738.6 L825.4,735.7 L829.6,732.8 L833.8,730.0 L838.0,727.1 L842.2,724.2 L846.4,721.2 L850.7,718.3 L854.9,715.4 L859.1,712.4 L863.3,709.4 L867.5,706.4 L871.7,703.4 L876.0,700.4 L880.2,697.4 L884.4,694.3 L888.6,691.2 L892.8,688.1 L897.0,685.0 L901.3,681.9 L905.5,678.8 L909.7,675.7 L913.9,672.5 L918.1,669.3 L922.3,666.1 L926.6,662.9 L930.8,659.7 L935.0,656.5 L939.2,653.2 L943.4,649.9 L947.6,646.6 L951.9,643.3 L956.1,640.0 L960.3,636.7 L964.5,633.3 L968.7,630.0 L972.9,626.6 L977.2,623.2 L981.4,619.8 L985.6,616.3 L989.8,612.9 L994.0,609.4 L998.2,605.9 L1002.5,602.4 L1006.7,598.9 L1010.9,595.3 L1015.1,591.8 L1019.3,588.2 L1023.5,584.6 L1027.8,581.0 L1032.0,577.4 L1036.2,573.7 L1040.4,570.0 L1044.6,566.4 L1048.8,562.7 L1053.1,559.0 L1057.3,555.2 L1061.5,551.5 L1065.7,547.8 L1069.9,544.0 L1074.1,540.3 L1078.4,536.6 L1082.6,532.8 L1086.8,529.1 L1091.0,525.4 L1095.2,521.7 L1099.4,517.9 L1103.7,514.2 L1107.9,510.5 L1112.1,506.8 L1116.3,503.2 L1120.5,499.5 L1124.7,495.8 L1129.0,492.1 L1133.2,488.5 L1137.4,484.8 L1141.6,481.1 L1145.8,477.5 L1150.0,473.8 L1154.3,470.2 L1158.5,466.5 L1162.7,462.9 L1166.9,459.2 L1171.1,455.6 L1175.3,451.9 L1179.6,448.3 L1183.8,444.6 L1188.0,441.0" stroke="#40e0d0" stroke-width="2.7"/>
<path d="M180.2,949.5 L184.4,948.6 L188.6,947.6 L192.9,946.7 L197.1,945.9 L201.3,945.1 L205.5,944.3 L209.7,943.6 L213.9,942.9 L218.2,942.3 L222.4,941.7 L226.6,941.2 L230.8,940.7 L235.0,940.2 L239.2,939.6 L243.5,939.1 L247.7,938.6 L251.9,938.1 L256.1,937.6 L260.3,937.1 L264.5,936.6 L268.8,936.1 L273.0,935.6 L277.2,935.1 L281.4,934.5 L285.6,934.0 L289.8,933.5 L294.1,933.0 L298.3,932.5 L302.5,932.0 L306.7,931.5 L310.9,931.0 L315.1,930.5 L319.4,930.0 L323.6,929.5 L327.8,929.0 L332.0,928.5 L336.2,928.1 L340.4,927.6 L344.7,927.2 L348.9,926.7 L353.1,926.2 L357.3,925.7 L361.5,925.2 L365.7,924.6 L370.0,924.0 L374.2,923.3 L378.4,922.6 L382.6,921.8 L386.8,921.0 L391.0,920.1 L395.3,919.1 L399.5,918.0 L403.7,916.9 L407.9,915.8 L412.1,914.5 L416.3,913.3 L420.6,911.9 L424.8,910.5 L429.0,909.1 L433.2,907.6 L437.4,906.1 L441.6,904.5 L445.9,902.9 L450.1,901.2 L454.3,899.5 L458.5,897.8 L462.7,896.0 L466.9,894.2 L471.2,892.3 L475.4,890.4 L479.6,888.4 L483.8,886.4 L488.0,884.3 L492.2,882.3 L496.5,880.1 L500.7,878.0 L504.9,875.8 L509.1,873.5 L513.3,871.2 L517.5,868.9 L521.8,866.5 L526.0,864.0 L530.2,861.6 L534.4,859.1 L538.6,856.5 L542.8,853.9 L547.1,851.2 L551.3,848.5 L555.5,845.8 L559.7,843.0 L563.9,840.2 L568.1,837.3 L572.4,834.3 L576.6,831.4 L580.8,828.3 L585.0,825.3 L589.2,822.1 L593.4,819.0 L597.7,815.8 L601.9,812.5 L606.1,809.2 L610.3,805.8 L614.5,802.4 L618.7,799.0 L623.0,795.5 L627.2,792.0 L631.4,788.4 L635.6,784.9 L639.8,781.2 L644.0,777.5 L648.3,773.8 L652.5,770.1 L656.7,766.3 L660.9,762.5 L665.1,758.7 L669.3,754.8 L673.6,750.9 L677.8,747.0 L682.0,743.0 L686.2,739.0 L690.4,735.0 L694.6,730.9 L698.9,726.9 L703.1,722.8 L707.3,718.7 L711.5,714.5 L715.7,710.4 L719.9,706.2 L724.2,702.0 L728.4,697.8 L732.6,693.6 L736.8,689.4 L741.0,685.2 L745.2,680.9 L749.5,676.7 L753.7,672.4 L757.9,668.2 L762.1,663.9 L766.3,659.7 L770.5,655.4 L774.8,651.2 L779.0,646.9 L783.2,642.7 L787.4,638.5 L791.6,634.2 L795.8,630.0 L800.1,625.8 L804.3,621.6 L808.5,617.3 L812.7,613.1 L816.9,608.9 L821.1,604.6 L825.4,600.4 L829.6,596.1 L833.8,591.8 L838.0,587.5 L842.2,583.2 L846.4,578.8 L850.7,574.5 L854.9,570.1 L859.1,565.7 L863.3,561.2 L867.5,556.7 L871.7,552.2 L876.0,547.6 L880.2,543.0 L884.4,538.4 L888.6,533.7 L892.8,529.0 L897.0,524.2 L901.3,519.4 L905.5,514.6 L909.7,509.7 L913.9,504.8 L918.1,499.8 L922.3,494.9 L926.6,489.9 L930.8,484.8 L935.0,479.8 L939.2,474.7 L943.4,469.6 L947.6,464.5 L951.9,459.4 L956.1,454.2 L960.3,449.1 L964.5,443.9 L968.7,438.8 L972.9,433.6 L977.2,428.4 L981.4,423.2 L985.6,418.0 L989.8,412.9 L994.0,407.7 L998.2,402.5 L1002.5,397.3 L1006.7,392.1 L1010.9,387.0 L1015.1,381.8 L1019.3,376.6 L1023.5,371.4 L1027.8,366.2 L1032.0,361.1 L1036.2,355.9 L1040.4,350.7 L1044.6,345.5 L1048.8,340.3 L1053.1,335.1 L1057.3,329.9 L1061.5,324.7 L1065.7,319.6 L1069.9,314.4 L1074.1,309.2 L1078.4,303.9 L1082.6,298.7 L1086.8,293.5 L1091.0,288.3 L1095.2,283.1 L1099.4,277.9 L1103.7,272.6 L1107.9,267.4 L1112.1,262.2 L1116.3,256.9 L1120.5,251.7 L1124.7,246.4 L1129.0,241.2 L1133.2,235.9 L1137.4,230.7 L1141.6,225.4 L1145.8,220.2 L1150.0,214.9 L1154.3,209.6 L1158.5,204.4 L1162.7,199.1 L1166.9,193.8 L1171.1,188.6 L1175.3,183.3 L1179.6,178.0 L1183.8,172.8 L1188.0,167.5 L1188.0,272.5 L1183.8,277.1 L1179.6,281.7 L1175.3,286.4 L1171.1,291.0 L1166.9,295.6 L1162.7,300.2 L1158.5,304.8 L1154.3,309.5 L1150.0,314.1 L1145.8,318.7 L1141.6,323.3 L1137.4,327.9 L1133.2,332.6 L1129.0,337.2 L1124.7,341.8 L1120.5,346.4 L1116.3,351.1 L1112.1,355.7 L1107.9,360.3 L1103.7,364.9 L1099.4,369.6 L1095.2,374.2 L1091.0,378.8 L1086.8,383.5 L1082.6,388.1 L1078.4,392.7 L1074.1,397.4 L1069.9,402.0 L1065.7,406.6 L1061.5,411.2 L1057.3,415.8 L1053.1,420.5 L1048.8,425.1 L1044.6,429.7 L1040.4,434.3 L1036.2,438.8 L1032.0,443.4 L1027.8,448.0 L1023.5,452.5 L1019.3,457.1 L1015.1,461.6 L1010.9,466.1 L1006.7,470.6 L1002.5,475.1 L998.2,479.6 L994.0,484.0 L989.8,488.5 L985.6,492.9 L981.4,497.3 L977.2,501.7 L972.9,506.0 L968.7,510.4 L964.5,514.7 L960.3,519.0 L956.1,523.3 L951.9,527.6 L947.6,531.8 L943.4,536.1 L939.2,540.3 L935.0,544.5 L930.8,548.7 L926.6,552.9 L922.3,557.1 L918.1,561.3 L913.9,565.4 L909.7,569.6 L905.5,573.7 L901.3,577.8 L897.0,581.9 L892.8,586.0 L888.6,590.1 L884.4,594.2 L880.2,598.3 L876.0,602.4 L871.7,606.4 L867.5,610.5 L863.3,614.6 L859.1,618.6 L854.9,622.6 L850.7,626.6 L846.4,630.7 L842.2,634.7 L838.0,638.7 L833.8,642.6 L829.6,646.6 L825.4,650.6 L821.1,654.5 L816.9,658.5 L812.7,662.4 L808.5,666.3 L804.3,670.2 L800.1,674.1 L795.8,678.0 L791.6,681.8 L787.4,685.7 L783.2,689.5 L779.0,693.4 L774.8,697.2 L770.5,701.0 L766.3,704.8 L762.1,708.5 L757.9,712.3 L753.7,716.0 L749.5,719.7 L745.2,723.4 L741.0,727.1 L736.8,730.7 L732.6,734.4 L728.4,738.0 L724.2,741.6 L719.9,745.2 L715.7,748.7 L711.5,752.2 L707.3,755.7 L703.1,759.2 L698.9,762.6 L694.6,766.1 L690.4,769.5 L686.2,772.8 L682.0,776.2 L677.8,779.5 L673.6,782.8 L669.3,786.0 L665.1,789.2 L660.9,792.4 L656.7,795.6 L652.5,798.7 L648.3,801.8 L644.0,804.8 L639.8,807.9 L635.6,810.9 L631.4,813.8 L627.2,816.7 L623.0,819.6 L618.7,822.5 L614.5,825.3 L610.3,828.1 L606.1,830.8 L601.9,833.5 L597.7,836.2 L593.4,838.8 L589.2,841.4 L585.0,844.0 L580.8,846.5 L576.6,849.0 L572.4,851.4 L568.1,853.8 L563.9,856.2 L559.7,858.5 L555.5,860.8 L551.3,863.0 L547.1,865.3 L542.8,867.4 L538.6,869.6 L534.4,871.7 L530.2,873.8 L526.0,875.8 L521.8,877.8 L517.5,879.8 L513.3,881.7 L509.1,883.6 L504.9,885.5 L500.7,887.4 L496.5,889.2 L492.2,891.0 L488.0,892.8 L483.8,894.5 L479.6,896.2 L475.4,897.9 L471.2,899.5 L466.9,901.1 L462.7,902.7 L458.5,904.2 L454.3,905.8 L450.1,907.2 L445.9,908.6 L441.6,910.0 L437.4,911.4 L433.2,912.7 L429.0,913.9 L424.8,915.1 L420.6,916.3 L416.3,917.4 L412.1,918.5 L407.9,919.5 L403.7,920.4 L399.5,921.3 L395.3,922.2 L391.0,923.0 L386.8,923.7 L382.6,924.4 L378.4,925.0 L374.2,925.5 L370.0,926.1 L365.7,926.5 L361.5,927.0 L357.3,927.4 L353.1,927.7 L348.9,928.1 L344.7,928.4 L340.4,928.8 L336.2,929.1 L332.0,929.4 L327.8,929.8 L323.6,930.2 L319.4,930.5 L315.1,930.9 L310.9,931.3 L306.7,931.7 L302.5,932.1 L298.3,932.6 L294.1,933.0 L289.8,933.4 L285.6,933.8 L281.4,934.3 L277.2,934.7 L273.0,935.1 L268.8,935.5 L264.5,935.9 L260.3,936.3 L256.1,936.7 L251.9,937.0 L247.7,937.3 L243.5,937.6 L239.2,937.8 L235.0,938.0 L230.8,938.2 L226.6,938.3 L222.4,938.4 L218.2,938.6 L213.9,938.9 L209.7,939.4 L205.5,940.2 L201.3,941.2 L197.1,942.5 L192.9,943.9 L188.6,945.5 L184.4,947.2 L180.2,949.0 Z" fill="#fff"/>
<path d="M180.2,949.5 L184.4,948.6 L188.6,947.6 L192.9,946.7 L197.1,945.9 L201.3,945.1 L205.5,944.3 L209.7,943.6 L213.9,942.9 L218.2,942.3 L222.4,941.7 L226.6,941.2 L230.8,940.7 L235.0,940.2 L239.2,939.6 L243.5,939.1 L247.7,938.6 L251.9,938.1 L256.1,937.6 L260.3,937.1 L264.5,936.6 L268.8,936.1 L273.0,935.6 L277.2,935.1 L281.4,934.5 L285.6,934.0 L289.8,933.5 L294.1,933.0 L298.3,932.5 L302.5,932.0 L306.7,931.5 L310.9,931.0 L315.1,930.5 L319.4,930.0 L323.6,929.5 L327.8,929.0 L332.0,928.5 L336.2,928.1 L340.4,927.6 L344.7,927.2 L348.9,926.7 L353.1,926.2 L357.3,925.7 L361.5,925.2 L365.7,924.6 L370.0,924.0 L374.2,923.3 L378.4,922.6 L382.6,921.8 L386.8,921.0 L391.0,920.1 L395.3,919.1 L399.5,918.0 L403.7,916.9 L407.9,915.8 L412.1,914.5 L416.3,913.3 L420.6,911.9 L424.8,910.5 L429.0,909.1 L433.2,907.6 L437.4,906.1 L441.6,904.5 L445.9,902.9 L450.1,901.2 L454.3,899.5 L458.5,897.8 L462.7,896.0 L466.9,894.2 L471.2,892.3 L475.4,890.4 L479.6,888.4 L483.8,886.4 L488.0,884.3 L492.2,882.3 L496.5,880.1 L500.7,878.0 L504.9,875.8 L509.1,873.5 L513.3,871.2 L517.5,868.9 L521.8,866.5 L526.0,864.0 L530.2,861.6 L534.4,859.1 L538.6,856.5 L542.8,853.9 L547.1,851.2 L551.3,848.5 L555.5,845.8 L559.7,843.0 L563.9,840.2 L568.1,837.3 L572.4,834.3 L576.6,831.4 L580.8,828.3 L585.0,825.3 L589.2,822.1 L593.4,819.0 L597.7,815.8 L601.9,812.5 L606.1,809.2 L610.3,805.8 L614.5,802.4 L618.7,799.0 L623.0,795.5 L627.2,792.0 L631.4,788.4 L635.6,784.9 L639.8,781.2 L644.0,777.5 L648.3,773.8 L652.5,770.1 L656.7,766.3 L660.9,762.5 L665.1,758.7 L669.3,754.8 L673.6,750.9 L677.8,747.0 L682.0,743.0 L686.2,739.0 L690.4,735.0 L694.6,730.9 L698.9,726.9 L703.1,722.8 L707.3,718.7 L711.5,714.5 L715.7,710.4 L719.9,706.2 L724.2,702.0 L728.4,697.8 L732.6,693.6 L736.8,689.4 L741.0,685.2 L745.2,680.9 L749.5,676.7 L753.7,672.4 L757.9,668.2 L762.1,663.9 L766.3,659.7 L770.5,655.4 L774.8,651.2 L779.0,646.9 L783.2,642.7 L787.4,638.5 L791.6,634.2 L795.8,630.0 L800.1,625.8 L804.3,621.6 L808.5,617.3 L812.7,613.1 L816.9,608.9 L821.1,604.6 L825.4,600.4 L829.6,596.1 L833.8,591.8 L838.0,587.5 L842.2,583.2 L846.4,578.8 L850.7,574.5 L854.9,570.1 L859.1,565.7 L863.3,561.2 L867.5,556.7 L871.7,552.2 L876.0,547.6 L880.2,543.0 L884.4,538.4 L888.6,533.7 L892.8,529.0 L897.0,524.2 L901.3,519.4 L905.5,514.6 L909.7,509.7 L913.9,504.8 L918.1,499.8 L922.3,494.9 L926.6,489.9 L930.8,484.8 L935.0,479.8 L939.2,474.7 L943.4,469.6 L947.6,464.5 L951.9,459.4 L956.1,454.2 L960.3,449.1 L964.5,443.9 L968.7,438.8 L972.9,433.6 L977.2,428.4 L981.4,423.2 L985.6,418.0 L989.8,412.9 L994.0,407.7 L998.2,402.5 L1002.5,397.3 L1006.7,392.1 L1010.9,387.0 L1015.1,381.8 L1019.3,376.6 L1023.5,371.4 L1027.8,366.2 L1032.0,361.1 L1036.2,355.9 L1040.4,350.7 L1044.6,345.5 L1048.8,340.3 L1053.1,335.1 L1057.3,329.9 L1061.5,324.7 L1065.7,319.6 L1069.9,314.4 L1074.1,309.2 L1078.4,303.9 L1082.6,298.7 L1086.8,293.5 L1091.0,288.3 L1095.2,283.1 L1099.4,277.9 L1103.7,272.6 L1107.9,267.4 L1112.1,262.2 L1116.3,256.9 L1120.5,251.7 L1124.7,246.4 L1129.0,241.2 L1133.2,235.9 L1137.4,230.7 L1141.6,225.4 L1145.8,220.2 L1150.0,214.9 L1154.3,209.6 L1158.5,204.4 L1162.7,199.1 L1166.9,193.8 L1171.1,188.6 L1175.3,183.3 L1179.6,178.0 L1183.8,172.8 L1188.0,167.5 L1188.0,272.5 L1183.8,277.1 L1179.6,281.7 L1175.3,286.4 L1171.1,291.0 L1166.9,295.6 L1162.7,300.2 L1158.5,304.8 L1154.3,309.5 L1150.0,314.1 L1145.8,318.7 L1141.6,323.3 L1137.4,327.9 L1133.2,332.6 L1129.0,337.2 L1124.7,341.8 L1120.5,346.4 L1116.3,351.1 L1112.1,355.7 L1107.9,360.3 L1103.7,364.9 L1099.4,369.6 L1095.2,374.2 L1091.0,378.8 L1086.8,383.5 L1082.6,388.1 L1078.4,392.7 L1074.1,397.4 L1069.9,402.0 L1065.7,406.6 L1061.5,411.2 L1057.3,415.8 L1053.1,420.5 L1048.8,425.1 L1044.6,429.7 L1040.4,434.3 L1036.2,438.8 L1032.0,443.4 L1027.8,448.0 L1023.5,452.5 L1019.3,457.1 L1015.1,461.6 L1010.9,466.1 L1006.7,470.6 L1002.5,475.1 L998.2,479.6 L994.0,484.0 L989.8,488.5 L985.6,492.9 L981.4,497.3 L977.2,501.7 L972.9,506.0 L968.7,510.4 L964.5,514.7 L960.3,519.0 L956.1,523.3 L951.9,527.6 L947.6,531.8 L943.4,536.1 L939.2,540.3 L935.0,544.5 L930.8,548.7 L926.6,552.9 L922.3,557.1 L918.1,561.3 L913.9,565.4 L909.7,569.6 L905.5,573.7 L901.3,577.8 L897.0,581.9 L892.8,586.0 L888.6,590.1 L884.4,594.2 L880.2,598.3 L876.0,602.4 L871.7,606.4 L867.5,610.5 L863.3,614.6 L859.1,618.6 L854.9,622.6 L850.7,626.6 L846.4,630.7 L842.2,634.7 L838.0,638.7 L833.8,642.6 L829.6,646.6 L825.4,650.6 L821.1,654.5 L816.9,658.5 L812.7,662.4 L808.5,666.3 L804.3,670.2 L800.1,674.1 L795.8,678.0 L791.6,681.8 L787.4,685.7 L783.2,689.5 L779.0,693.4 L774.8,697.2 L770.5,701.0 L766.3,704.8 L762.1,708.5 L757.9,712.3 L753.7,716.0 L749.5,719.7 L745.2,723.4 L741.0,727.1 L736.8,730.7 L732.6,734.4 L728.4,738.0 L724.2,741.6 L719.9,745.2 L715.7,748.7 L711.5,752.2 L707.3,755.7 L703.1,759.2 L698.9,762.6 L694.6,766.1 L690.4,769.5 L686.2,772.8 L682.0,776.2 L677.8,779.5 L673.6,782.8 L669.3,786.0 L665.1,789.2 L660.9,792.4 L656.7,795.6 L652.5,798.7 L648.3,801.8 L644.0,804.8 L639.8,807.9 L635.6,810.9 L631.4,813.8 L627.2,816.7 L623.0,819.6 L618.7,822.5 L614.5,825.3 L610.3,828.1 L606.1,830.8 L601.9,833.5 L597.7,836.2 L593.4,838.8 L589.2,841.4 L585.0,844.0 L580.8,846.5 L576.6,849.0 L572.4,851.4 L568.1,853.8 L563.9,856.2 L559.7,858.5 L555.5,860.8 L551.3,863.0 L547.1,865.3 L542.8,867.4 L538.6,869.6 L534.4,871.7 L530.2,873.8 L526.0,875.8 L521.8,877.8 L517.5,879.8 L513.3,881.7 L509.1,883.6 L504.9,885.5 L500.7,887.4 L496.5,889.2 L492.2,891.0 L488.0,892.8 L483.8,894.5 L479.6,896.2 L475.4,897.9 L471.2,899.5 L466.9,901.1 L462.7,902.7 L458.5,904.2 L454.3,905.8 L450.1,907.2 L445.9,908.6 L441.6,910.0 L437.4,911.4 L433.2,912.7 L429.0,913.9 L424.8,915.1 L420.6,916.3 L416.3,917.4 L412.1,918.5 L407.9,919.5 L403.7,920.4 L399.5,921.3 L395.3,922.2 L391.0,923.0 L386.8,923.7 L382.6,924.4 L378.4,925.0 L374.2,925.5 L370.0,926.1 L365.7,926.5 L361.5,927.0 L357.3,927.4 L353.1,927.7 L348.9,928.1 L344.7,928.4 L340.4,928.8 L336.2,929.1 L332.0,929.4 L327.8,929.8 L323.6,930.2 L319.4,930.5 L315.1,930.9 L310.9,931.3 L306.7,931.7 L302.5,932.1 L298.3,932.6 L294.1,933.0 L289.8,933.4 L285.6,933.8 L281.4,934.3 L277.2,934.7 L273.0,935.1 L268.8,935.5 L264.5,935.9 L260.3,936.3 L256.1,936.7 L251.9,937.0 L247.7,937.3 L243.5,937.6 L239.2,937.8 L235.0,938.0 L230.8,938.2 L226.6,938.3 L222.4,938.4 L218.2,938.6 L213.9,938.9 L209.7,939.4 L205.5,940.2 L201.3,941.2 L197.1,942.5 L192.9,943.9 L188.6,945.5 L184.4,947.2 L180.2,949.0 Z" fill="url(#pr)"/>
<path d="M180.2,954.4 L184.4,955.6 L188.6,956.8 L192.9,958.0 L197.1,959.2 L201.3,960.4 L205.5,961.5 L209.7,962.7 L213.9,963.8 L218.2,964.9 L222.4,966.0 L226.6,967.1 L230.8,968.0 L235.0,969.0 L239.2,969.9 L243.5,970.7 L247.7,971.5 L251.9,972.2 L256.1,972.9 L260.3,973.6 L264.5,974.2 L268.8,974.8 L273.0,975.3 L277.2,975.8 L281.4,976.2 L285.6,976.7 L289.8,977.0 L294.1,977.4 L298.3,977.7 L302.5,978.0 L306.7,978.2 L310.9,978.4 L315.1,978.6 L319.4,978.7 L323.6,978.8 L327.8,978.9 L332.0,978.9 L336.2,978.9 L340.4,978.8 L344.7,978.8 L348.9,978.6 L353.1,978.5 L357.3,978.3 L361.5,978.1 L365.7,977.8 L370.0,977.5 L374.2,977.2 L378.4,976.9 L382.6,976.5 L386.8,976.1 L391.0,975.7 L395.3,975.2 L399.5,974.7 L403.7,974.2 L407.9,973.6 L412.1,973.0 L416.3,972.4 L420.6,971.7 L424.8,970.9 L429.0,970.1 L433.2,969.3 L437.4,968.4 L441.6,967.4 L445.9,966.4 L450.1,965.4 L454.3,964.3 L458.5,963.1 L462.7,961.9 L466.9,960.7 L471.2,959.3 L475.4,958.0 L479.6,956.5 L483.8,955.0 L488.0,953.5 L492.2,951.9 L496.5,950.3 L500.7,948.6 L504.9,946.8 L509.1,945.0 L513.3,943.2 L517.5,941.3 L521.8,939.4 L526.0,937.4 L530.2,935.4 L534.4,933.4 L538.6,931.3 L542.8,929.2 L547.1,927.0 L551.3,924.9 L555.5,922.6 L559.7,920.4 L563.9,918.1 L568.1,915.8 L572.4,913.5 L576.6,911.2 L580.8,908.8 L585.0,906.4 L589.2,904.0 L593.4,901.6 L597.7,899.2 L601.9,896.7 L606.1,894.2 L610.3,891.7 L614.5,889.2 L618.7,886.6 L623.0,884.0 L627.2,881.4 L631.4,878.7 L635.6,876.0 L639.8,873.3 L644.0,870.6 L648.3,867.8 L652.5,864.9 L656.7,862.0 L660.9,859.1 L665.1,856.1 L669.3,853.0 L673.6,849.8 L677.8,846.6 L682.0,843.3 L686.2,839.9 L690.4,836.4 L694.6,832.9 L698.9,829.4 L703.1,825.7 L707.3,822.1 L711.5,818.4 L715.7,814.6 L719.9,810.8 L724.2,807.0 L728.4,803.2 L732.6,799.3 L736.8,795.4 L741.0,791.4 L745.2,787.5 L749.5,783.5 L753.7,779.5 L757.9,775.5 L762.1,771.5 L766.3,767.5 L770.5,763.4 L774.8,759.4 L779.0,755.3 L783.2,751.3 L787.4,747.2 L791.6,743.1 L795.8,739.1 L800.1,735.0 L804.3,730.9 L808.5,726.9 L812.7,722.8 L816.9,718.8 L821.1,714.7 L825.4,710.7 L829.6,706.7 L833.8,702.7 L838.0,698.7 L842.2,694.8 L846.4,690.8 L850.7,686.8 L854.9,682.9 L859.1,678.9 L863.3,674.9 L867.5,670.8 L871.7,666.8 L876.0,662.7 L880.2,658.5 L884.4,654.3 L888.6,650.0 L892.8,645.7 L897.0,641.3 L901.3,636.8 L905.5,632.3 L909.7,627.8 L913.9,623.2 L918.1,618.5 L922.3,613.8 L926.6,609.1 L930.8,604.4 L935.0,599.6 L939.2,594.8 L943.4,589.9 L947.6,585.1 L951.9,580.2 L956.1,575.3 L960.3,570.4 L964.5,565.5 L968.7,560.6 L972.9,555.7 L977.2,550.8 L981.4,545.9 L985.6,541.0 L989.8,536.1 L994.0,531.2 L998.2,526.3 L1002.5,521.5 L1006.7,516.6 L1010.9,511.8 L1015.1,506.9 L1019.3,502.1 L1023.5,497.3 L1027.8,492.5 L1032.0,487.6 L1036.2,482.8 L1040.4,478.0 L1044.6,473.1 L1048.8,468.3 L1053.1,463.5 L1057.3,458.6 L1061.5,453.8 L1065.7,448.9 L1069.9,444.0 L1074.1,439.2 L1078.4,434.3 L1082.6,429.4 L1086.8,424.5 L1091.0,419.6 L1095.2,414.6 L1099.4,409.7 L1103.7,404.7 L1107.9,399.8 L1112.1,394.8 L1116.3,389.8 L1120.5,384.8 L1124.7,379.8 L1129.0,374.8 L1133.2,369.8 L1137.4,364.7 L1141.6,359.7 L1145.8,354.6 L1150.0,349.6 L1154.3,344.5 L1158.5,339.5 L1162.7,334.4 L1166.9,329.4 L1171.1,324.3 L1175.3,319.2 L1179.6,314.1 L1183.8,309.1 L1188.0,304.0 L1188.0,410.0 L1183.8,414.4 L1179.6,418.8 L1175.3,423.2 L1171.1,427.6 L1166.9,432.0 L1162.7,436.4 L1158.5,440.9 L1154.3,445.3 L1150.0,449.7 L1145.8,454.1 L1141.6,458.5 L1137.4,462.9 L1133.2,467.3 L1129.0,471.7 L1124.7,476.0 L1120.5,480.4 L1116.3,484.8 L1112.1,489.2 L1107.9,493.6 L1103.7,498.0 L1099.4,502.3 L1095.2,506.7 L1091.0,511.1 L1086.8,515.4 L1082.6,519.8 L1078.4,524.1 L1074.1,528.5 L1069.9,532.8 L1065.7,537.2 L1061.5,541.5 L1057.3,545.8 L1053.1,550.1 L1048.8,554.4 L1044.6,558.7 L1040.4,563.0 L1036.2,567.2 L1032.0,571.4 L1027.8,575.7 L1023.5,579.9 L1019.3,584.1 L1015.1,588.2 L1010.9,592.4 L1006.7,596.5 L1002.5,600.6 L998.2,604.7 L994.0,608.8 L989.8,612.8 L985.6,616.8 L981.4,620.8 L977.2,624.7 L972.9,628.7 L968.7,632.6 L964.5,636.5 L960.3,640.3 L956.1,644.2 L951.9,648.0 L947.6,651.8 L943.4,655.6 L939.2,659.4 L935.0,663.1 L930.8,666.9 L926.6,670.6 L922.3,674.3 L918.1,678.0 L913.9,681.7 L909.7,685.3 L905.5,689.0 L901.3,692.6 L897.0,696.2 L892.8,699.9 L888.6,703.5 L884.4,707.1 L880.2,710.7 L876.0,714.3 L871.7,717.9 L867.5,721.4 L863.3,725.0 L859.1,728.6 L854.9,732.2 L850.7,735.8 L846.4,739.4 L842.2,743.0 L838.0,746.6 L833.8,750.2 L829.6,753.8 L825.4,757.4 L821.1,761.0 L816.9,764.7 L812.7,768.3 L808.5,771.9 L804.3,775.4 L800.1,779.0 L795.8,782.6 L791.6,786.1 L787.4,789.6 L783.2,793.0 L779.0,796.4 L774.8,799.8 L770.5,803.1 L766.3,806.4 L762.1,809.6 L757.9,812.8 L753.7,815.9 L749.5,819.0 L745.2,822.1 L741.0,825.1 L736.8,828.2 L732.6,831.3 L728.4,834.4 L724.2,837.6 L719.9,840.8 L715.7,844.0 L711.5,847.2 L707.3,850.4 L703.1,853.6 L698.9,856.7 L694.6,859.9 L690.4,863.0 L686.2,866.0 L682.0,869.0 L677.8,871.9 L673.6,874.8 L669.3,877.6 L665.1,880.3 L660.9,883.0 L656.7,885.7 L652.5,888.2 L648.3,890.7 L644.0,893.2 L639.8,895.6 L635.6,897.9 L631.4,900.2 L627.2,902.5 L623.0,904.6 L618.7,906.8 L614.5,908.9 L610.3,910.9 L606.1,912.9 L601.9,914.9 L597.7,916.8 L593.4,918.7 L589.2,920.6 L585.0,922.5 L580.8,924.3 L576.6,926.1 L572.4,927.9 L568.1,929.7 L563.9,931.4 L559.7,933.1 L555.5,934.8 L551.3,936.5 L547.1,938.1 L542.8,939.7 L538.6,941.3 L534.4,942.8 L530.2,944.3 L526.0,945.8 L521.8,947.3 L517.5,948.7 L513.3,950.1 L509.1,951.4 L504.9,952.7 L500.7,954.0 L496.5,955.2 L492.2,956.4 L488.0,957.6 L483.8,958.7 L479.6,959.7 L475.4,960.8 L471.2,961.8 L466.9,962.7 L462.7,963.6 L458.5,964.5 L454.3,965.4 L450.1,966.2 L445.9,967.0 L441.6,967.8 L437.4,968.6 L433.2,969.3 L429.0,970.0 L424.8,970.8 L420.6,971.4 L416.3,972.1 L412.1,972.8 L407.9,973.4 L403.7,974.0 L399.5,974.6 L395.3,975.1 L391.0,975.6 L386.8,976.1 L382.6,976.5 L378.4,976.9 L374.2,977.3 L370.0,977.6 L365.7,977.9 L361.5,978.1 L357.3,978.4 L353.1,978.5 L348.9,978.7 L344.7,978.8 L340.4,978.9 L336.2,978.9 L332.0,978.9 L327.8,978.9 L323.6,978.8 L319.4,978.7 L315.1,978.6 L310.9,978.4 L306.7,978.2 L302.5,978.0 L298.3,977.7 L294.1,977.4 L289.8,977.0 L285.6,976.7 L281.4,976.2 L277.2,975.8 L273.0,975.3 L268.8,974.8 L264.5,974.2 L260.3,973.6 L256.1,972.9 L251.9,972.3 L247.7,971.5 L243.5,970.7 L239.2,969.9 L235.0,969.0 L230.8,968.0 L226.6,967.1 L222.4,966.0 L218.2,964.9 L213.9,963.8 L209.7,962.7 L205.5,961.5 L201.3,960.4 L197.1,959.2 L192.9,958.0 L188.6,956.8 L184.4,955.6 L180.2,954.4 Z" fill="#fff"/>
<path d="M180.2,954.4 L184.4,955.6 L188.6,956.8 L192.9,958.0 L197.1,959.2 L201.3,960.4 L205.5,961.5 L209.7,962.7 L213.9,963.8 L218.2,964.9 L222.4,966.0 L226.6,967.1 L230.8,968.0 L235.0,969.0 L239.2,969.9 L243.5,970.7 L247.7,971.5 L251.9,972.2 L256.1,972.9 L260.3,973.6 L264.5,974.2 L268.8,974.8 L273.0,975.3 L277.2,975.8 L281.4,976.2 L285.6,976.7 L289.8,977.0 L294.1,977.4 L298.3,977.7 L302.5,978.0 L306.7,978.2 L310.9,978.4 L315.1,978.6 L319.4,978.7 L323.6,978.8 L327.8,978.9 L332.0,978.9 L336.2,978.9 L340.4,978.8 L344.7,978.8 L348.9,978.6 L353.1,978.5 L357.3,978.3 L361.5,978.1 L365.7,977.8 L370.0,977.5 L374.2,977.2 L378.4,976.9 L382.6,976.5 L386.8,976.1 L391.0,975.7 L395.3,975.2 L399.5,974.7 L403.7,974.2 L407.9,973.6 L412.1,973.0 L416.3,972.4 L420.6,971.7 L424.8,970.9 L429.0,970.1 L433.2,969.3 L437.4,968.4 L441.6,967.4 L445.9,966.4 L450.1,965.4 L454.3,964.3 L458.5,963.1 L462.7,961.9 L466.9,960.7 L471.2,959.3 L475.4,958.0 L479.6,956.5 L483.8,955.0 L488.0,953.5 L492.2,951.9 L496.5,950.3 L500.7,948.6 L504.9,946.8 L509.1,945.0 L513.3,943.2 L517.5,941.3 L521.8,939.4 L526.0,937.4 L530.2,935.4 L534.4,933.4 L538.6,931.3 L542.8,929.2 L547.1,927.0 L551.3,924.9 L555.5,922.6 L559.7,920.4 L563.9,918.1 L568.1,915.8 L572.4,913.5 L576.6,911.2 L580.8,908.8 L585.0,906.4 L589.2,904.0 L593.4,901.6 L597.7,899.2 L601.9,896.7 L606.1,894.2 L610.3,891.7 L614.5,889.2 L618.7,886.6 L623.0,884.0 L627.2,881.4 L631.4,878.7 L635.6,876.0 L639.8,873.3 L644.0,870.6 L648.3,867.8 L652.5,864.9 L656.7,862.0 L660.9,859.1 L665.1,856.1 L669.3,853.0 L673.6,849.8 L677.8,846.6 L682.0,843.3 L686.2,839.9 L690.4,836.4 L694.6,832.9 L698.9,829.4 L703.1,825.7 L707.3,822.1 L711.5,818.4 L715.7,814.6 L719.9,810.8 L724.2,807.0 L728.4,803.2 L732.6,799.3 L736.8,795.4 L741.0,791.4 L745.2,787.5 L749.5,783.5 L753.7,779.5 L757.9,775.5 L762.1,771.5 L766.3,767.5 L770.5,763.4 L774.8,759.4 L779.0,755.3 L783.2,751.3 L787.4,747.2 L791.6,743.1 L795.8,739.1 L800.1,735.0 L804.3,730.9 L808.5,726.9 L812.7,722.8 L816.9,718.8 L821.1,714.7 L825.4,710.7 L829.6,706.7 L833.8,702.7 L838.0,698.7 L842.2,694.8 L846.4,690.8 L850.7,686.8 L854.9,682.9 L859.1,678.9 L863.3,674.9 L867.5,670.8 L871.7,666.8 L876.0,662.7 L880.2,658.5 L884.4,654.3 L888.6,650.0 L892.8,645.7 L897.0,641.3 L901.3,636.8 L905.5,632.3 L909.7,627.8 L913.9,623.2 L918.1,618.5 L922.3,613.8 L926.6,609.1 L930.8,604.4 L935.0,599.6 L939.2,594.8 L943.4,589.9 L947.6,585.1 L951.9,580.2 L956.1,575.3 L960.3,570.4 L964.5,565.5 L968.7,560.6 L972.9,555.7 L977.2,550.8 L981.4,545.9 L985.6,541.0 L989.8,536.1 L994.0,531.2 L998.2,526.3 L1002.5,521.5 L1006.7,516.6 L1010.9,511.8 L1015.1,506.9 L1019.3,502.1 L1023.5,497.3 L1027.8,492.5 L1032.0,487.6 L1036.2,482.8 L1040.4,478.0 L1044.6,473.1 L1048.8,468.3 L1053.1,463.5 L1057.3,458.6 L1061.5,453.8 L1065.7,448.9 L1069.9,444.0 L1074.1,439.2 L1078.4,434.3 L1082.6,429.4 L1086.8,424.5 L1091.0,419.6 L1095.2,414.6 L1099.4,409.7 L1103.7,404.7 L1107.9,399.8 L1112.1,394.8 L1116.3,389.8 L1120.5,384.8 L1124.7,379.8 L1129.0,374.8 L1133.2,369.8 L1137.4,364.7 L1141.6,359.7 L1145.8,354.6 L1150.0,349.6 L1154.3,344.5 L1158.5,339.5 L1162.7,334.4 L1166.9,329.4 L1171.1,324.3 L1175.3,319.2 L1179.6,314.1 L1183.8,309.1 L1188.0,304.0 L1188.0,410.0 L1183.8,414.4 L1179.6,418.8 L1175.3,423.2 L1171.1,427.6 L1166.9,432.0 L1162.7,436.4 L1158.5,440.9 L1154.3,445.3 L1150.0,449.7 L1145.8,454.1 L1141.6,458.5 L1137.4,462.9 L1133.2,467.3 L1129.0,471.7 L1124.7,476.0 L1120.5,480.4 L1116.3,484.8 L1112.1,489.2 L1107.9,493.6 L1103.7,498.0 L1099.4,502.3 L1095.2,506.7 L1091.0,511.1 L1086.8,515.4 L1082.6,519.8 L1078.4,524.1 L1074.1,528.5 L1069.9,532.8 L1065.7,537.2 L1061.5,541.5 L1057.3,545.8 L1053.1,550.1 L1048.8,554.4 L1044.6,558.7 L1040.4,563.0 L1036.2,567.2 L1032.0,571.4 L1027.8,575.7 L1023.5,579.9 L1019.3,584.1 L1015.1,588.2 L1010.9,592.4 L1006.7,596.5 L1002.5,600.6 L998.2,604.7 L994.0,608.8 L989.8,612.8 L985.6,616.8 L981.4,620.8 L977.2,624.7 L972.9,628.7 L968.7,632.6 L964.5,636.5 L960.3,640.3 L956.1,644.2 L951.9,648.0 L947.6,651.8 L943.4,655.6 L939.2,659.4 L935.0,663.1 L930.8,666.9 L926.6,670.6 L922.3,674.3 L918.1,678.0 L913.9,681.7 L909.7,685.3 L905.5,689.0 L901.3,692.6 L897.0,696.2 L892.8,699.9 L888.6,703.5 L884.4,707.1 L880.2,710.7 L876.0,714.3 L871.7,717.9 L867.5,721.4 L863.3,725.0 L859.1,728.6 L854.9,732.2 L850.7,735.8 L846.4,739.4 L842.2,743.0 L838.0,746.6 L833.8,750.2 L829.6,753.8 L825.4,757.4 L821.1,761.0 L816.9,764.7 L812.7,768.3 L808.5,771.9 L804.3,775.4 L800.1,779.0 L795.8,782.6 L791.6,786.1 L787.4,789.6 L783.2,793.0 L779.0,796.4 L774.8,799.8 L770.5,803.1 L766.3,806.4 L762.1,809.6 L757.9,812.8 L753.7,815.9 L749.5,819.0 L745.2,822.1 L741.0,825.1 L736.8,828.2 L732.6,831.3 L728.4,834.4 L724.2,837.6 L719.9,840.8 L715.7,844.0 L711.5,847.2 L707.3,850.4 L703.1,853.6 L698.9,856.7 L694.6,859.9 L690.4,863.0 L686.2,866.0 L682.0,869.0 L677.8,871.9 L673.6,874.8 L669.3,877.6 L665.1,880.3 L660.9,883.0 L656.7,885.7 L652.5,888.2 L648.3,890.7 L644.0,893.2 L639.8,895.6 L635.6,897.9 L631.4,900.2 L627.2,902.5 L623.0,904.6 L618.7,906.8 L614.5,908.9 L610.3,910.9 L606.1,912.9 L601.9,914.9 L597.7,916.8 L593.4,918.7 L589.2,920.6 L585.0,922.5 L580.8,924.3 L576.6,926.1 L572.4,927.9 L568.1,929.7 L563.9,931.4 L559.7,933.1 L555.5,934.8 L551.3,936.5 L547.1,938.1 L542.8,939.7 L538.6,941.3 L534.4,942.8 L530.2,944.3 L526.0,945.8 L521.8,947.3 L517.5,948.7 L513.3,950.1 L509.1,951.4 L504.9,952.7 L500.7,954.0 L496.5,955.2 L492.2,956.4 L488.0,957.6 L483.8,958.7 L479.6,959.7 L475.4,960.8 L471.2,961.8 L466.9,962.7 L462.7,963.6 L458.5,964.5 L454.3,965.4 L450.1,966.2 L445.9,967.0 L441.6,967.8 L437.4,968.6 L433.2,969.3 L429.0,970.0 L424.8,970.8 L420.6,971.4 L416.3,972.1 L412.1,972.8 L407.9,973.4 L403.7,974.0 L399.5,974.6 L395.3,975.1 L391.0,975.6 L386.8,976.1 L382.6,976.5 L378.4,976.9 L374.2,977.3 L370.0,977.6 L365.7,977.9 L361.5,978.1 L357.3,978.4 L353.1,978.5 L348.9,978.7 L344.7,978.8 L340.4,978.9 L336.2,978.9 L332.0,978.9 L327.8,978.9 L323.6,978.8 L319.4,978.7 L315.1,978.6 L310.9,978.4 L306.7,978.2 L302.5,978.0 L298.3,977.7 L294.1,977.4 L289.8,977.0 L285.6,976.7 L281.4,976.2 L277.2,975.8 L273.0,975.3 L268.8,974.8 L264.5,974.2 L260.3,973.6 L256.1,972.9 L251.9,972.3 L247.7,971.5 L243.5,970.7 L239.2,969.9 L235.0,969.0 L230.8,968.0 L226.6,967.1 L222.4,966.0 L218.2,964.9 L213.9,963.8 L209.7,962.7 L205.5,961.5 L201.3,960.4 L197.1,959.2 L192.9,958.0 L188.6,956.8 L184.4,955.6 L180.2,954.4 Z" fill="url(#pr)"/>
<path d="M180.2,949.5 L184.4,948.6 L188.6,947.6 L192.9,946.7 L197.1,945.9 L201.3,945.1 L205.5,944.3 L209.7,943.6 L213.9,942.9 L218.2,942.3 L222.4,941.7 L226.6,941.2 L230.8,940.7 L235.0,940.2 L239.2,939.6 L243.5,939.1 L247.7,938.6 L251.9,938.1 L256.1,937.6 L260.3,937.1 L264.5,936.6 L268.8,936.1 L273.0,935.6 L277.2,935.1 L281.4,934.5 L285.6,934.0 L289.8,933.5 L294.1,933.0 L298.3,932.5 L302.5,932.0 L306.7,931.5 L310.9,931.0 L315.1,930.5 L319.4,930.0 L323.6,929.5 L327.8,929.0 L332.0,928.5 L336.2,928.1 L340.4,927.6 L344.7,927.2 L348.9,926.7 L353.1,926.2 L357.3,925.7 L361.5,925.2 L365.7,924.6 L370.0,924.0 L374.2,923.3 L378.4,922.6 L382.6,921.8 L386.8,921.0 L391.0,920.1 L395.3,919.1 L399.5,918.0 L403.7,916.9 L407.9,915.8 L412.1,914.5 L416.3,913.3 L420.6,911.9 L424.8,910.5 L429.0,909.1 L433.2,907.6 L437.4,906.1 L441.6,904.5 L445.9,902.9 L450.1,901.2 L454.3,899.5 L458.5,897.8 L462.7,896.0 L466.9,894.2 L471.2,892.3 L475.4,890.4 L479.6,888.4 L483.8,886.4 L488.0,884.3 L492.2,882.3 L496.5,880.1 L500.7,878.0 L504.9,875.8 L509.1,873.5 L513.3,871.2 L517.5,868.9 L521.8,866.5 L526.0,864.0 L530.2,861.6 L534.4,859.1 L538.6,856.5 L542.8,853.9 L547.1,851.2 L551.3,848.5 L555.5,845.8 L559.7,843.0 L563.9,840.2 L568.1,837.3 L572.4,834.3 L576.6,831.4 L580.8,828.3 L585.0,825.3 L589.2,822.1 L593.4,819.0 L597.7,815.8 L601.9,812.5 L606.1,809.2 L610.3,805.8 L614.5,802.4 L618.7,799.0 L623.0,795.5 L627.2,792.0 L631.4,788.4 L635.6,784.9 L639.8,781.2 L644.0,777.5 L648.3,773.8 L652.5,770.1 L656.7,766.3 L660.9,762.5 L665.1,758.7 L669.3,754.8 L673.6,750.9 L677.8,747.0 L682.0,743.0 L686.2,739.0 L690.4,735.0 L694.6,730.9 L698.9,726.9 L703.1,722.8 L707.3,718.7 L711.5,714.5 L715.7,710.4 L719.9,706.2 L724.2,702.0 L728.4,697.8 L732.6,693.6 L736.8,689.4 L741.0,685.2 L745.2,680.9 L749.5,676.7 L753.7,672.4 L757.9,668.2 L762.1,663.9 L766.3,659.7 L770.5,655.4 L774.8,651.2 L779.0,646.9 L783.2,642.7 L787.4,638.5 L791.6,634.2 L795.8,630.0 L800.1,625.8 L804.3,621.6 L808.5,617.3 L812.7,613.1 L816.9,608.9 L821.1,604.6 L825.4,600.4 L829.6,596.1 L833.8,591.8 L838.0,587.5 L842.2,583.2 L846.4,578.8 L850.7,574.5 L854.9,570.1 L859.1,565.7 L863.3,561.2 L867.5,556.7 L871.7,552.2 L876.0,547.6 L880.2,543.0 L884.4,538.4 L888.6,533.7 L892.8,529.0 L897.0,524.2 L901.3,519.4 L905.5,514.6 L909.7,509.7 L913.9,504.8 L918.1,499.8 L922.3,494.9 L926.6,489.9 L930.8,484.8 L935.0,479.8 L939.2,474.7 L943.4,469.6 L947.6,464.5 L951.9,459.4 L956.1,454.2 L960.3,449.1 L964.5,443.9 L968.7,438.8 L972.9,433.6 L977.2,428.4 L981.4,423.2 L985.6,418.0 L989.8,412.9 L994.0,407.7 L998.2,402.5 L1002.5,397.3 L1006.7,392.1 L1010.9,387.0 L1015.1,381.8 L1019.3,376.6 L1023.5,371.4 L1027.8,366.2 L1032.0,361.1 L1036.2,355.9 L1040.4,350.7 L1044.6,345.5 L1048.8,340.3 L1053.1,335.1 L1057.3,329.9 L1061.5,324.7 L1065.7,319.6 L1069.9,314.4 L1074.1,309.2 L1078.4,303.9 L1082.6,298.7 L1086.8,293.5 L1091.0,288.3 L1095.2,283.1 L1099.4,277.9 L1103.7,272.6 L1107.9,267.4 L1112.1,262.2 L1116.3,256.9 L1120.5,251.7 L1124.7,246.4 L1129.0,241.2 L1133.2,235.9 L1137.4,230.7 L1141.6,225.4 L1145.8,220.2 L1150.0,214.9 L1154.3,209.6 L1158.5,204.4 L1162.7,199.1 L1166.9,193.8 L1171.1,188.6 L1175.3,183.3 L1179.6,178.0 L1183.8,172.8 L1188.0,167.5" stroke="#ff0000" stroke-width="2.7"/>
<path d="M180.2,954.4 L184.4,955.6 L188.6,956.8 L192.9,958.0 L197.1,959.2 L201.3,960.4 L205.5,961.5 L209.7,962.7 L213.9,963.8 L218.2,964.9 L222.4,966.0 L226.6,967.1 L230.8,968.0 L235.0,969.0 L239.2,969.9 L243.5,970.7 L247.7,971.5 L251.9,972.2 L256.1,972.9 L260.3,973.6 L264.5,974.2 L268.8,974.8 L273.0,975.3 L277.2,975.8 L281.4,976.2 L285.6,976.7 L289.8,977.0 L294.1,977.4 L298.3,977.7 L302.5,978.0 L306.7,978.2 L310.9,978.4 L315.1,978.6 L319.4,978.7 L323.6,978.8 L327.8,978.9 L332.0,978.9 L336.2,978.9 L340.4,978.8 L344.7,978.8 L348.9,978.6 L353.1,978.5 L357.3,978.3 L361.5,978.1 L365.7,977.8 L370.0,977.5 L374.2,977.2 L378.4,976.9 L382.6,976.5 L386.8,976.1 L391.0,975.7 L395.3,975.2 L399.5,974.7 L403.7,974.2 L407.9,973.6 L412.1,973.0 L416.3,972.4 L420.6,971.7 L424.8,970.9 L429.0,970.1 L433.2,969.3 L437.4,968.4 L441.6,967.4 L445.9,966.4 L450.1,965.4 L454.3,964.3 L458.5,963.1 L462.7,961.9 L466.9,960.7 L471.2,959.3 L475.4,958.0 L479.6,956.5 L483.8,955.0 L488.0,953.5 L492.2,951.9 L496.5,950.3 L500.7,948.6 L504.9,946.8 L509.1,945.0 L513.3,943.2 L517.5,941.3 L521.8,939.4 L526.0,937.4 L530.2,935.4 L534.4,933.4 L538.6,931.3 L542.8,929.2 L547.1,927.0 L551.3,924.9 L555.5,922.6 L559.7,920.4 L563.9,918.1 L568.1,915.8 L572.4,913.5 L576.6,911.2 L580.8,908.8 L585.0,906.4 L589.2,904.0 L593.4,901.6 L597.7,899.2 L601.9,896.7 L606.1,894.2 L610.3,891.7 L614.5,889.2 L618.7,886.6 L623.0,884.0 L627.2,881.4 L631.4,878.7 L635.6,876.0 L639.8,873.3 L644.0,870.6 L648.3,867.8 L652.5,864.9 L656.7,862.0 L660.9,859.1 L665.1,856.1 L669.3,853.0 L673.6,849.8 L677.8,846.6 L682.0,843.3 L686.2,839.9 L690.4,836.4 L694.6,832.9 L698.9,829.4 L703.1,825.7 L707.3,822.1 L711.5,818.4 L715.7,814.6 L719.9,810.8 L724.2,807.0 L728.4,803.2 L732.6,799.3 L736.8,795.4 L741.0,791.4 L745.2,787.5 L749.5,783.5 L753.7,779.5 L757.9,775.5 L762.1,771.5 L766.3,767.5 L770.5,763.4 L774.8,759.4 L779.0,755.3 L783.2,751.3 L787.4,747.2 L791.6,743.1 L795.8,739.1 L800.1,735.0 L804.3,730.9 L808.5,726.9 L812.7,722.8 L816.9,718.8 L821.1,714.7 L825.4,710.7 L829.6,706.7 L833.8,702.7 L838.0,698.7 L842.2,694.8 L846.4,690.8 L850.7,686.8 L854.9,682.9 L859.1,678.9 L863.3,674.9 L867.5,670.8 L871.7,666.8 L876.0,662.7 L880.2,658.5 L884.4,654.3 L888.6,650.0 L892.8,645.7 L897.0,641.3 L901.3,636.8 L905.5,632.3 L909.7,627.8 L913.9,623.2 L918.1,618.5 L922.3,613.8 L926.6,609.1 L930.8,604.4 L935.0,599.6 L939.2,594.8 L943.4,589.9 L947.6,585.1 L951.9,580.2 L956.1,575.3 L960.3,570.4 L964.5,565.5 L968.7,560.6 L972.9,555.7 L977.2,550.8 L981.4,545.9 L985.6,541.0 L989.8,536.1 L994.0,531.2 L998.2,526.3 L1002.5,521.5 L1006.7,516.6 L1010.9,511.8 L1015.1,506.9 L1019.3,502.1 L1023.5,497.3 L1027.8,492.5 L1032.0,487.6 L1036.2,482.8 L1040.4,478.0 L1044.6,473.1 L1048.8,468.3 L1053.1,463.5 L1057.3,458.6 L1061.5,453.8 L1065.7,448.9 L1069.9,444.0 L1074.1,439.2 L1078.4,434.3 L1082.6,429.4 L1086.8,424.5 L1091.0,419.6 L1095.2,414.6 L1099.4,409.7 L1103.7,404.7 L1107.9,399.8 L1112.1,394.8 L1116.3,389.8 L1120.5,384.8 L1124.7,379.8 L1129.0,374.8 L1133.2,369.8 L1137.4,364.7 L1141.6,359.7 L1145.8,354.6 L1150.0,349.6 L1154.3,344.5 L1158.5,339.5 L1162.7,334.4 L1166.9,329.4 L1171.1,324.3 L1175.3,319.2 L1179.6,314.1 L1183.8,309.1 L1188.0,304.0" stroke="#ff0000" stroke-width="2.7"/>
<path d="M180.2,949.0 L184.4,947.2 L188.6,945.5 L192.9,943.9 L197.1,942.5 L201.3,941.2 L205.5,940.2 L209.7,939.4 L213.9,938.9 L218.2,938.6 L222.4,938.4 L226.6,938.3 L230.8,938.2 L235.0,938.0 L239.2,937.8 L243.5,937.6 L247.7,937.3 L251.9,937.0 L256.1,936.7 L260.3,936.3 L264.5,935.9 L268.8,935.5 L273.0,935.1 L277.2,934.7 L281.4,934.3 L285.6,933.8 L289.8,933.4 L294.1,933.0 L298.3,932.6 L302.5,932.1 L306.7,931.7 L310.9,931.3 L315.1,930.9 L319.4,930.5 L323.6,930.2 L327.8,929.8 L332.0,929.4 L336.2,929.1 L340.4,928.8 L344.7,928.4 L348.9,928.1 L353.1,927.7 L357.3,927.4 L361.5,927.0 L365.7,926.5 L370.0,926.1 L374.2,925.5 L378.4,925.0 L382.6,924.4 L386.8,923.7 L391.0,923.0 L395.3,922.2 L399.5,921.3 L403.7,920.4 L407.9,919.5 L412.1,918.5 L416.3,917.4 L420.6,916.3 L424.8,915.1 L429.0,913.9 L433.2,912.7 L437.4,911.4 L441.6,910.0 L445.9,908.6 L450.1,907.2 L454.3,905.8 L458.5,904.2 L462.7,902.7 L466.9,901.1 L471.2,899.5 L475.4,897.9 L479.6,896.2 L483.8,894.5 L488.0,892.8 L492.2,891.0 L496.5,889.2 L500.7,887.4 L504.9,885.5 L509.1,883.6 L513.3,881.7 L517.5,879.8 L521.8,877.8 L526.0,875.8 L530.2,873.8 L534.4,871.7 L538.6,869.6 L542.8,867.4 L547.1,865.3 L551.3,863.0 L555.5,860.8 L559.7,858.5 L563.9,856.2 L568.1,853.8 L572.4,851.4 L576.6,849.0 L580.8,846.5 L585.0,844.0 L589.2,841.4 L593.4,838.8 L597.7,836.2 L601.9,833.5 L606.1,830.8 L610.3,828.1 L614.5,825.3 L618.7,822.5 L623.0,819.6 L627.2,816.7 L631.4,813.8 L635.6,810.9 L639.8,807.9 L644.0,804.8 L648.3,801.8 L652.5,798.7 L656.7,795.6 L660.9,792.4 L665.1,789.2 L669.3,786.0 L673.6,782.8 L677.8,779.5 L682.0,776.2 L686.2,772.8 L690.4,769.5 L694.6,766.1 L698.9,762.6 L703.1,759.2 L707.3,755.7 L711.5,752.2 L715.7,748.7 L719.9,745.2 L724.2,741.6 L728.4,738.0 L732.6,734.4 L736.8,730.7 L741.0,727.1 L745.2,723.4 L749.5,719.7 L753.7,716.0 L757.9,712.3 L762.1,708.5 L766.3,704.8 L770.5,701.0 L774.8,697.2 L779.0,693.4 L783.2,689.5 L787.4,685.7 L791.6,681.8 L795.8,678.0 L800.1,674.1 L804.3,670.2 L808.5,666.3 L812.7,662.4 L816.9,658.5 L821.1,654.5 L825.4,650.6 L829.6,646.6 L833.8,642.6 L838.0,638.7 L842.2,634.7 L846.4,630.7 L850.7,626.6 L854.9,622.6 L859.1,618.6 L863.3,614.6 L867.5,610.5 L871.7,606.4 L876.0,602.4 L880.2,598.3 L884.4,594.2 L888.6,590.1 L892.8,586.0 L897.0,581.9 L901.3,577.8 L905.5,573.7 L909.7,569.6 L913.9,565.4 L918.1,561.3 L922.3,557.1 L926.6,552.9 L930.8,548.7 L935.0,544.5 L939.2,540.3 L943.4,536.1 L947.6,531.8 L951.9,527.6 L956.1,523.3 L960.3,519.0 L964.5,514.7 L968.7,510.4 L972.9,506.0 L977.2,501.7 L981.4,497.3 L985.6,492.9 L989.8,488.5 L994.0,484.0 L998.2,479.6 L1002.5,475.1 L1006.7,470.6 L1010.9,466.1 L1015.1,461.6 L1019.3,457.1 L1023.5,452.5 L1027.8,448.0 L1032.0,443.4 L1036.2,438.8 L1040.4,434.3 L1044.6,429.7 L1048.8,425.1 L1053.1,420.5 L1057.3,415.8 L1061.5,411.2 L1065.7,406.6 L1069.9,402.0 L1074.1,397.4 L1078.4,392.7 L1082.6,388.1 L1086.8,383.5 L1091.0,378.8 L1095.2,374.2 L1099.4,369.6 L1103.7,364.9 L1107.9,360.3 L1112.1,355.7 L1116.3,351.1 L1120.5,346.4 L1124.7,341.8 L1129.0,337.2 L1133.2,332.6 L1137.4,327.9 L1141.6,323.3 L1145.8,318.7 L1150.0,314.1 L1154.3,309.5 L1158.5,304.8 L1162.7,300.2 L1166.9,295.6 L1171.1,291.0 L1175.3,286.4 L1179.6,281.7 L1183.8,277.1 L1188.0,272.5" stroke="#0000ff" stroke-width="6"/>
<path d="M180.2,954.4 L184.4,955.6 L188.6,956.8 L192.9,958.0 L197.1,959.2 L201.3,960.4 L205.5,961.5 L209.7,962.7 L213.9,963.8 L218.2,964.9 L222.4,966.0 L226.6,967.1 L230.8,968.0 L235.0,969.0 L239.2,969.9 L243.5,970.7 L247.7,971.5 L251.9,972.3 L256.1,972.9 L260.3,973.6 L264.5,974.2 L268.8,974.8 L273.0,975.3 L277.2,975.8 L281.4,976.2 L285.6,976.7 L289.8,977.0 L294.1,977.4 L298.3,977.7 L302.5,978.0 L306.7,978.2 L310.9,978.4 L315.1,978.6 L319.4,978.7 L323.6,978.8 L327.8,978.9 L332.0,978.9 L336.2,978.9 L340.4,978.9 L344.7,978.8 L348.9,978.7 L353.1,978.5 L357.3,978.4 L361.5,978.1 L365.7,977.9 L370.0,977.6 L374.2,977.3 L378.4,976.9 L382.6,976.5 L386.8,976.1 L391.0,975.6 L395.3,975.1 L399.5,974.6 L403.7,974.0 L407.9,973.4 L412.1,972.8 L416.3,972.1 L420.6,971.4 L424.8,970.8 L429.0,970.0 L433.2,969.3 L437.4,968.6 L441.6,967.8 L445.9,967.0 L450.1,966.2 L454.3,965.4 L458.5,964.5 L462.7,963.6 L466.9,962.7 L471.2,961.8 L475.4,960.8 L479.6,959.7 L483.8,958.7 L488.0,957.6 L492.2,956.4 L496.5,955.2 L500.7,954.0 L504.9,952.7 L509.1,951.4 L513.3,950.1 L517.5,948.7 L521.8,947.3 L526.0,945.8 L530.2,944.3 L534.4,942.8 L538.6,941.3 L542.8,939.7 L547.1,938.1 L551.3,936.5 L555.5,934.8 L559.7,933.1 L563.9,931.4 L568.1,929.7 L572.4,927.9 L576.6,926.1 L580.8,924.3 L585.0,922.5 L589.2,920.6 L593.4,918.7 L597.7,916.8 L601.9,914.9 L606.1,912.9 L610.3,910.9 L614.5,908.9 L618.7,906.8 L623.0,904.6 L627.2,902.5 L631.4,900.2 L635.6,897.9 L639.8,895.6 L644.0,893.2 L648.3,890.7 L652.5,888.2 L656.7,885.7 L660.9,883.0 L665.1,880.3 L669.3,877.6 L673.6,874.8 L677.8,871.9 L682.0,869.0 L686.2,866.0 L690.4,863.0 L694.6,859.9 L698.9,856.7 L703.1,853.6 L707.3,850.4 L711.5,847.2 L715.7,844.0 L719.9,840.8 L724.2,837.6 L728.4,834.4 L732.6,831.3 L736.8,828.2 L741.0,825.1 L745.2,822.1 L749.5,819.0 L753.7,815.9 L757.9,812.8 L762.1,809.6 L766.3,806.4 L770.5,803.1 L774.8,799.8 L779.0,796.4 L783.2,793.0 L787.4,789.6 L791.6,786.1 L795.8,782.6 L800.1,779.0 L804.3,775.4 L808.5,771.9 L812.7,768.3 L816.9,764.7 L821.1,761.0 L825.4,757.4 L829.6,753.8 L833.8,750.2 L838.0,746.6 L842.2,743.0 L846.4,739.4 L850.7,735.8 L854.9,732.2 L859.1,728.6 L863.3,725.0 L867.5,721.4 L871.7,717.9 L876.0,714.3 L880.2,710.7 L884.4,707.1 L888.6,703.5 L892.8,699.9 L897.0,696.2 L901.3,692.6 L905.5,689.0 L909.7,685.3 L913.9,681.7 L918.1,678.0 L922.3,674.3 L926.6,670.6 L930.8,666.9 L935.0,663.1 L939.2,659.4 L943.4,655.6 L947.6,651.8 L951.9,648.0 L956.1,644.2 L960.3,640.3 L964.5,636.5 L968.7,632.6 L972.9,628.7 L977.2,624.7 L981.4,620.8 L985.6,616.8 L989.8,612.8 L994.0,608.8 L998.2,604.7 L1002.5,600.6 L1006.7,596.5 L1010.9,592.4 L1015.1,588.2 L1019.3,584.1 L1023.5,579.9 L1027.8,575.7 L1032.0,571.4 L1036.2,567.2 L1040.4,563.0 L1044.6,558.7 L1048.8,554.4 L1053.1,550.1 L1057.3,545.8 L1061.5,541.5 L1065.7,537.2 L1069.9,532.8 L1074.1,528.5 L1078.4,524.1 L1082.6,519.8 L1086.8,515.4 L1091.0,511.1 L1095.2,506.7 L1099.4,502.3 L1103.7,498.0 L1107.9,493.6 L1112.1,489.2 L1116.3,484.8 L1120.5,480.4 L1124.7,476.0 L1129.0,471.7 L1133.2,467.3 L1137.4,462.9 L1141.6,458.5 L1145.8,454.1 L1150.0,449.7 L1154.3,445.3 L1158.5,440.9 L1162.7,436.4 L1166.9,432.0 L1171.1,427.6 L1175.3,423.2 L1179.6,418.8 L1183.8,414.4 L1188.0,410.0" stroke="#0000ff" stroke-width="6"/>
<path d="M180.2,949.5 L184.4,948.6 L188.6,947.6 L192.9,946.7 L197.1,945.9 L201.3,945.1 L205.5,944.3 L209.7,943.6 L213.9,942.9 L218.2,942.3 L222.4,941.7 L226.6,941.2 L230.8,940.7 L235.0,940.2 L239.2,939.6 L243.5,939.1 L247.7,938.6 L251.9,938.1 L256.1,937.6 L260.3,937.1 L264.5,936.6 L268.8,936.1 L273.0,935.6 L277.2,935.1 L281.4,934.5 L285.6,934.0 L289.8,933.5 L294.1,933.0 L298.3,932.5 L302.5,931.9 L306.7,931.4 L310.9,930.9 L315.1,930.4 L319.4,929.9 L323.6,929.4 L327.8,929.0 L332.0,928.5 L336.2,928.1 L340.4,927.7 L344.7,927.2 L348.9,926.8 L353.1,926.4 L357.3,925.9 L361.5,925.4 L365.7,924.9 L370.0,924.3 L374.2,923.7 L378.4,923.1 L382.6,922.4 L386.8,921.6 L391.0,920.7 L395.3,919.8 L399.5,918.8 L403.7,917.8 L407.9,916.7 L412.1,915.6 L416.3,914.4 L420.6,913.1 L424.8,911.9 L429.0,910.5 L433.2,909.2 L437.4,907.7 L441.6,906.3 L445.9,904.8 L450.1,903.2 L454.3,901.6 L458.5,900.0 L462.7,898.4 L466.9,896.6 L471.2,894.9 L475.4,893.1 L479.6,891.3 L483.8,889.4 L488.0,887.5 L492.2,885.6 L496.5,883.6 L500.7,881.6 L504.9,879.5 L509.1,877.5 L513.3,875.3 L517.5,873.1 L521.8,870.9 L526.0,868.7 L530.2,866.4 L534.4,864.1 L538.6,861.7 L542.8,859.3 L547.1,856.8 L551.3,854.3 L555.5,851.8 L559.7,849.2 L563.9,846.6 L568.1,843.9 L572.4,841.2 L576.6,838.5 L580.8,835.7 L585.0,832.9 L589.2,830.0 L593.4,827.1 L597.7,824.1 L601.9,821.1 L606.1,818.1 L610.3,815.1 L614.5,812.0 L618.7,808.8 L623.0,805.7 L627.2,802.4 L631.4,799.2 L635.6,795.9 L639.8,792.6 L644.0,789.3 L648.3,785.9 L652.5,782.6 L656.7,779.1 L660.9,775.7 L665.1,772.2 L669.3,768.7 L673.6,765.2 L677.8,761.7 L682.0,758.1 L686.2,754.5 L690.4,750.9 L694.6,747.3 L698.9,743.6 L703.1,739.9 L707.3,736.2 L711.5,732.5 L715.7,728.8 L719.9,725.0 L724.2,721.2 L728.4,717.4 L732.6,713.6 L736.8,709.7 L741.0,705.8 L745.2,701.9 L749.5,698.0 L753.7,694.0 L757.9,690.0 L762.1,686.0 L766.3,682.0 L770.5,678.0 L774.8,673.9 L779.0,669.8 L783.2,665.7 L787.4,661.5 L791.6,657.3 L795.8,653.1 L800.1,648.9 L804.3,644.7 L808.5,640.4 L812.7,636.1 L816.9,631.8 L821.1,627.5 L825.4,623.2 L829.6,618.9 L833.8,614.5 L838.0,610.2 L842.2,605.8 L846.4,601.5 L850.7,597.1 L854.9,592.8 L859.1,588.4 L863.3,584.0 L867.5,579.7 L871.7,575.3 L876.0,571.0 L880.2,566.6 L884.4,562.3 L888.6,558.0 L892.8,553.7 L897.0,549.4 L901.3,545.0 L905.5,540.8 L909.7,536.5 L913.9,532.2 L918.1,527.9 L922.3,523.5 L926.6,519.2 L930.8,514.9 L935.0,510.6 L939.2,506.2 L943.4,501.9 L947.6,497.5 L951.9,493.1 L956.1,488.7 L960.3,484.2 L964.5,479.7 L968.7,475.2 L972.9,470.7 L977.2,466.2 L981.4,461.6 L985.6,456.9 L989.8,452.3 L994.0,447.6 L998.2,442.8 L1002.5,438.1 L1006.7,433.2 L1010.9,428.4 L1015.1,423.6 L1019.3,418.7 L1023.5,413.8 L1027.8,408.8 L1032.0,403.9 L1036.2,398.9 L1040.4,393.9 L1044.6,388.9 L1048.8,383.9 L1053.1,378.9 L1057.3,373.8 L1061.5,368.8 L1065.7,363.8 L1069.9,358.7 L1074.1,353.7 L1078.4,348.6 L1082.6,343.6 L1086.8,338.5 L1091.0,333.5 L1095.2,328.4 L1099.4,323.4 L1103.7,318.4 L1107.9,313.3 L1112.1,308.3 L1116.3,303.3 L1120.5,298.3 L1124.7,293.3 L1129.0,288.3 L1133.2,283.3 L1137.4,278.3 L1141.6,273.3 L1145.8,268.3 L1150.0,263.3 L1154.3,258.3 L1158.5,253.4 L1162.7,248.4 L1166.9,243.4 L1171.1,238.4 L1175.3,233.4 L1179.6,228.5 L1183.8,223.5 L1188.0,218.5" stroke="#ff0000" stroke-width="6"/>
<path d="M180.2,954.4 L184.4,955.6 L188.6,956.8 L192.9,958.0 L197.1,959.2 L201.3,960.4 L205.5,961.5 L209.7,962.7 L213.9,963.8 L218.2,964.9 L222.4,966.0 L226.6,967.1 L230.8,968.0 L235.0,969.0 L239.2,969.9 L243.5,970.7 L247.7,971.5 L251.9,972.2 L256.1,972.9 L260.3,973.6 L264.5,974.2 L268.8,974.8 L273.0,975.3 L277.2,975.8 L281.4,976.2 L285.6,976.7 L289.8,977.0 L294.1,977.4 L298.3,977.7 L302.5,978.0 L306.7,978.2 L310.9,978.4 L315.1,978.6 L319.4,978.7 L323.6,978.8 L327.8,978.9 L332.0,978.9 L336.2,978.9 L340.4,978.9 L344.7,978.8 L348.9,978.7 L353.1,978.5 L357.3,978.3 L361.5,978.1 L365.7,977.9 L370.0,977.6 L374.2,977.3 L378.4,976.9 L382.6,976.5 L386.8,976.1 L391.0,975.6 L395.3,975.2 L399.5,974.6 L403.7,974.1 L407.9,973.5 L412.1,972.9 L416.3,972.2 L420.6,971.5 L424.8,970.8 L429.0,970.1 L433.2,969.3 L437.4,968.5 L441.6,967.6 L445.9,966.8 L450.1,965.8 L454.3,964.9 L458.5,963.8 L462.7,962.8 L466.9,961.7 L471.2,960.5 L475.4,959.2 L479.6,957.9 L483.8,956.6 L488.0,955.2 L492.2,953.7 L496.5,952.1 L500.7,950.5 L504.9,948.9 L509.1,947.1 L513.3,945.4 L517.5,943.6 L521.8,941.8 L526.0,939.9 L530.2,938.0 L534.4,936.1 L538.6,934.2 L542.8,932.2 L547.1,930.3 L551.3,928.3 L555.5,926.3 L559.7,924.3 L563.9,922.3 L568.1,920.3 L572.4,918.3 L576.6,916.3 L580.8,914.4 L585.0,912.4 L589.2,910.5 L593.4,908.6 L597.7,906.6 L601.9,904.7 L606.1,902.7 L610.3,900.7 L614.5,898.6 L618.7,896.5 L623.0,894.3 L627.2,892.0 L631.4,889.7 L635.6,887.2 L639.8,884.6 L644.0,881.9 L648.3,879.1 L652.5,876.2 L656.7,873.2 L660.9,870.1 L665.1,867.0 L669.3,863.8 L673.6,860.6 L677.8,857.3 L682.0,854.1 L686.2,850.9 L690.4,847.7 L694.6,844.5 L698.9,841.3 L703.1,838.1 L707.3,834.9 L711.5,831.7 L715.7,828.5 L719.9,825.2 L724.2,822.0 L728.4,818.7 L732.6,815.3 L736.8,811.9 L741.0,808.5 L745.2,805.1 L749.5,801.6 L753.7,798.1 L757.9,794.5 L762.1,790.9 L766.3,787.3 L770.5,783.6 L774.8,780.0 L779.0,776.3 L783.2,772.5 L787.4,768.8 L791.6,765.0 L795.8,761.2 L800.1,757.4 L804.3,753.6 L808.5,749.7 L812.7,745.9 L816.9,742.0 L821.1,738.2 L825.4,734.3 L829.6,730.4 L833.8,726.5 L838.0,722.6 L842.2,718.7 L846.4,714.8 L850.7,710.9 L854.9,706.9 L859.1,703.0 L863.3,699.1 L867.5,695.1 L871.7,691.2 L876.0,687.2 L880.2,683.2 L884.4,679.2 L888.6,675.2 L892.8,671.2 L897.0,667.1 L901.3,663.0 L905.5,659.0 L909.7,654.9 L913.9,650.8 L918.1,646.6 L922.3,642.5 L926.6,638.3 L930.8,634.1 L935.0,629.9 L939.2,625.7 L943.4,621.4 L947.6,617.2 L951.9,612.9 L956.1,608.6 L960.3,604.3 L964.5,599.9 L968.7,595.6 L972.9,591.2 L977.2,586.8 L981.4,582.3 L985.6,577.9 L989.8,573.4 L994.0,568.9 L998.2,564.4 L1002.5,559.9 L1006.7,555.3 L1010.9,550.8 L1015.1,546.2 L1019.3,541.6 L1023.5,537.0 L1027.8,532.3 L1032.0,527.7 L1036.2,523.0 L1040.4,518.4 L1044.6,513.7 L1048.8,509.1 L1053.1,504.4 L1057.3,499.7 L1061.5,495.0 L1065.7,490.4 L1069.9,485.7 L1074.1,481.0 L1078.4,476.3 L1082.6,471.6 L1086.8,467.0 L1091.0,462.3 L1095.2,457.6 L1099.4,453.0 L1103.7,448.3 L1107.9,443.7 L1112.1,439.0 L1116.3,434.4 L1120.5,429.8 L1124.7,425.1 L1129.0,420.5 L1133.2,415.9 L1137.4,411.3 L1141.6,406.7 L1145.8,402.0 L1150.0,397.4 L1154.3,392.8 L1158.5,388.2 L1162.7,383.6 L1166.9,379.0 L1171.1,374.4 L1175.3,369.8 L1179.6,365.2 L1183.8,360.6 L1188.0,356.0" stroke="#ff0000" stroke-width="6"/>
<path d="M180.2,952.0 L184.4,951.0 L188.6,950.1 L192.9,949.2 L197.1,948.2 L201.3,947.3 L205.5,946.5 L209.7,945.7 L213.9,944.9 L218.2,944.1 L222.4,943.4 L226.6,942.7 L230.8,942.0 L235.0,941.3 L239.2,940.6 L243.5,940.0 L247.7,939.4 L251.9,938.7 L256.1,938.1 L260.3,937.5 L264.5,936.9 L268.8,936.3 L273.0,935.7 L277.2,935.1 L281.4,934.4 L285.6,933.8 L289.8,933.2 L294.1,932.5 L298.3,931.9 L302.5,931.2 L306.7,930.6 L310.9,929.9 L315.1,929.2 L319.4,928.5 L323.6,927.8 L327.8,927.1 L332.0,926.4 L336.2,925.7 L340.4,924.9 L344.7,924.2 L348.9,923.4 L353.1,922.7 L357.3,921.9 L361.5,921.0 L365.7,920.2 L370.0,919.3 L374.2,918.4 L378.4,917.4 L382.6,916.4 L386.8,915.4 L391.0,914.3 L395.3,913.1 L399.5,911.9 L403.7,910.7 L407.9,909.4 L412.1,908.1 L416.3,906.7 L420.6,905.3 L424.8,903.8 L429.0,902.2 L433.2,900.6 L437.4,898.9 L441.6,897.2 L445.9,895.4 L450.1,893.5 L454.3,891.7 L458.5,889.7 L462.7,887.7 L466.9,885.7 L471.2,883.7 L475.4,881.6 L479.6,879.5 L483.8,877.4 L488.0,875.2 L492.2,873.0 L496.5,870.8 L500.7,868.6 L504.9,866.3 L509.1,864.0 L513.3,861.7 L517.5,859.4 L521.8,857.0 L526.0,854.6 L530.2,852.1 L534.4,849.7 L538.6,847.2 L542.8,844.6 L547.1,842.1 L551.3,839.5 L555.5,836.8 L559.7,834.2 L563.9,831.5 L568.1,828.7 L572.4,825.9 L576.6,823.1 L580.8,820.2 L585.0,817.3 L589.2,814.4 L593.4,811.4 L597.7,808.4 L601.9,805.3 L606.1,802.2 L610.3,799.1 L614.5,795.9 L618.7,792.7 L623.0,789.5 L627.2,786.3 L631.4,783.0 L635.6,779.7 L639.8,776.3 L644.0,773.0 L648.3,769.6 L652.5,766.2 L656.7,762.7 L660.9,759.3 L665.1,755.8 L669.3,752.3 L673.6,748.8 L677.8,745.3 L682.0,741.8 L686.2,738.2 L690.4,734.7 L694.6,731.1 L698.9,727.5 L703.1,723.9 L707.3,720.3 L711.5,716.6 L715.7,713.0 L719.9,709.3 L724.2,705.6 L728.4,701.9 L732.6,698.2 L736.8,694.4 L741.0,690.6 L745.2,686.8 L749.5,683.0 L753.7,679.2 L757.9,675.3 L762.1,671.4 L766.3,667.5 L770.5,663.6 L774.8,659.6 L779.0,655.6 L783.2,651.6 L787.4,647.6 L791.6,643.5 L795.8,639.4 L800.1,635.3 L804.3,631.1 L808.5,627.0 L812.7,622.8 L816.9,618.6 L821.1,614.3 L825.4,610.1 L829.6,605.8 L833.8,601.5 L838.0,597.2 L842.2,592.9 L846.4,588.6 L850.7,584.3 L854.9,579.9 L859.1,575.6 L863.3,571.2 L867.5,566.8 L871.7,562.5 L876.0,558.1 L880.2,553.7 L884.4,549.3 L888.6,544.9 L892.8,540.5 L897.0,536.2 L901.3,531.8 L905.5,527.4 L909.7,523.0 L913.9,518.6 L918.1,514.2 L922.3,509.7 L926.6,505.3 L930.8,500.9 L935.0,496.4 L939.2,492.0 L943.4,487.5 L947.6,483.0 L951.9,478.5 L956.1,474.0 L960.3,469.5 L964.5,464.9 L968.7,460.4 L972.9,455.8 L977.2,451.2 L981.4,446.6 L985.6,441.9 L989.8,437.3 L994.0,432.6 L998.2,427.9 L1002.5,423.2 L1006.7,418.4 L1010.9,413.7 L1015.1,408.9 L1019.3,404.1 L1023.5,399.3 L1027.8,394.5 L1032.0,389.7 L1036.2,384.9 L1040.4,380.0 L1044.6,375.2 L1048.8,370.3 L1053.1,365.5 L1057.3,360.6 L1061.5,355.7 L1065.7,350.8 L1069.9,346.0 L1074.1,341.1 L1078.4,336.2 L1082.6,331.4 L1086.8,326.5 L1091.0,321.6 L1095.2,316.8 L1099.4,311.9 L1103.7,307.1 L1107.9,302.2 L1112.1,297.4 L1116.3,292.5 L1120.5,287.7 L1124.7,282.8 L1129.0,278.0 L1133.2,273.2 L1137.4,268.3 L1141.6,263.5 L1145.8,258.7 L1150.0,253.9 L1154.3,249.0 L1158.5,244.2 L1162.7,239.4 L1166.9,234.6 L1171.1,229.8 L1175.3,224.9 L1179.6,220.1 L1183.8,215.3 L1188.0,210.5" stroke="#000" stroke-width="6" stroke-dasharray="30 18"/>
<path d="M180.2,954.4 L184.4,955.6 L188.6,956.8 L192.9,958.0 L197.1,959.2 L201.3,960.4 L205.5,961.5 L209.7,962.7 L213.9,963.8 L218.2,964.9 L222.4,966.0 L226.6,967.1 L230.8,968.0 L235.0,969.0 L239.2,969.9 L243.5,970.7 L247.7,971.5 L251.9,972.2 L256.1,972.9 L260.3,973.6 L264.5,974.2 L268.8,974.8 L273.0,975.3 L277.2,975.8 L281.4,976.2 L285.6,976.7 L289.8,977.0 L294.1,977.4 L298.3,977.7 L302.5,978.0 L306.7,978.2 L310.9,978.4 L315.1,978.6 L319.4,978.7 L323.6,978.8 L327.8,978.9 L332.0,978.9 L336.2,978.9 L340.4,978.8 L344.7,978.7 L348.9,978.6 L353.1,978.5 L357.3,978.3 L361.5,978.1 L365.7,977.8 L370.0,977.5 L374.2,977.2 L378.4,976.9 L382.6,976.5 L386.8,976.1 L391.0,975.7 L395.3,975.3 L399.5,974.8 L403.7,974.2 L407.9,973.7 L412.1,973.1 L416.3,972.4 L420.6,971.7 L424.8,970.9 L429.0,970.1 L433.2,969.3 L437.4,968.4 L441.6,967.4 L445.9,966.4 L450.1,965.3 L454.3,964.2 L458.5,963.0 L462.7,961.7 L466.9,960.4 L471.2,959.1 L475.4,957.7 L479.6,956.2 L483.8,954.7 L488.0,953.2 L492.2,951.6 L496.5,950.0 L500.7,948.3 L504.9,946.5 L509.1,944.7 L513.3,942.9 L517.5,941.1 L521.8,939.2 L526.0,937.2 L530.2,935.2 L534.4,933.2 L538.6,931.2 L542.8,929.1 L547.1,927.0 L551.3,924.8 L555.5,922.6 L559.7,920.4 L563.9,918.2 L568.1,915.9 L572.4,913.6 L576.6,911.3 L580.8,909.0 L585.0,906.7 L589.2,904.3 L593.4,901.9 L597.7,899.5 L601.9,897.0 L606.1,894.5 L610.3,892.0 L614.5,889.5 L618.7,886.9 L623.0,884.3 L627.2,881.7 L631.4,879.0 L635.6,876.3 L639.8,873.5 L644.0,870.7 L648.3,867.9 L652.5,865.0 L656.7,862.0 L660.9,859.1 L665.1,856.1 L669.3,853.1 L673.6,850.0 L677.8,846.9 L682.0,843.8 L686.2,840.6 L690.4,837.4 L694.6,834.2 L698.9,831.0 L703.1,827.8 L707.3,824.5 L711.5,821.2 L715.7,817.8 L719.9,814.5 L724.2,811.0 L728.4,807.6 L732.6,804.1 L736.8,800.6 L741.0,797.1 L745.2,793.5 L749.5,789.9 L753.7,786.3 L757.9,782.7 L762.1,779.0 L766.3,775.3 L770.5,771.5 L774.8,767.8 L779.0,764.0 L783.2,760.2 L787.4,756.4 L791.6,752.5 L795.8,748.7 L800.1,744.8 L804.3,740.9 L808.5,737.0 L812.7,733.1 L816.9,729.2 L821.1,725.3 L825.4,721.3 L829.6,717.4 L833.8,713.4 L838.0,709.4 L842.2,705.5 L846.4,701.5 L850.7,697.5 L854.9,693.5 L859.1,689.5 L863.3,685.5 L867.5,681.4 L871.7,677.4 L876.0,673.4 L880.2,669.3 L884.4,665.2 L888.6,661.1 L892.8,657.0 L897.0,652.9 L901.3,648.8 L905.5,644.7 L909.7,640.5 L913.9,636.4 L918.1,632.2 L922.3,628.0 L926.6,623.8 L930.8,619.6 L935.0,615.4 L939.2,611.2 L943.4,606.9 L947.6,602.7 L951.9,598.4 L956.1,594.1 L960.3,589.8 L964.5,585.5 L968.7,581.2 L972.9,576.9 L977.2,572.6 L981.4,568.2 L985.6,563.9 L989.8,559.5 L994.0,555.1 L998.2,550.7 L1002.5,546.3 L1006.7,541.9 L1010.9,537.5 L1015.1,533.1 L1019.3,528.7 L1023.5,524.2 L1027.8,519.8 L1032.0,515.3 L1036.2,510.9 L1040.4,506.4 L1044.6,501.9 L1048.8,497.4 L1053.1,492.9 L1057.3,488.5 L1061.5,484.0 L1065.7,479.5 L1069.9,475.0 L1074.1,470.5 L1078.4,466.0 L1082.6,461.5 L1086.8,457.0 L1091.0,452.4 L1095.2,447.9 L1099.4,443.4 L1103.7,438.9 L1107.9,434.4 L1112.1,429.9 L1116.3,425.4 L1120.5,420.8 L1124.7,416.3 L1129.0,411.8 L1133.2,407.3 L1137.4,402.8 L1141.6,398.2 L1145.8,393.7 L1150.0,389.2 L1154.3,384.7 L1158.5,380.2 L1162.7,375.6 L1166.9,371.1 L1171.1,366.6 L1175.3,362.1 L1179.6,357.5 L1183.8,353.0 L1188.0,348.5" stroke="#000" stroke-width="6" stroke-dasharray="30 18"/>
</g>
<line x1="180.2" y1="954.3" x2="1188.0" y2="954.3" stroke="#000" stroke-width="6"/>
<g stroke="#000" stroke-width="6" fill="none">
<rect x="180.2" y="24.4" width="1007.8" height="1007.4"/>
<path d="M281.0,1031.8 v-20 M281.0,24.4 v20"/>
<path d="M381.8,1031.8 v-40 M381.8,24.4 v40"/>
<path d="M482.5,1031.8 v-20 M482.5,24.4 v20"/>
<path d="M583.3,1031.8 v-40 M583.3,24.4 v40"/>
<path d="M684.1,1031.8 v-20 M684.1,24.4 v20"/>
<path d="M784.9,1031.8 v-40 M784.9,24.4 v40"/>
<path d="M885.7,1031.8 v-20 M885.7,24.4 v20"/>
<path d="M986.4,1031.8 v-40 M986.4,24.4 v40"/>
<path d="M1087.2,1031.8 v-20 M1087.2,24.4 v20"/>
<path d="M180.2,954.3 h40 M1188.0,954.3 h-40"/>
<path d="M180.2,876.8 h20 M1188.0,876.8 h-20"/>
<path d="M180.2,799.3 h40 M1188.0,799.3 h-40"/>
<path d="M180.2,721.8 h20 M1188.0,721.8 h-20"/>
<path d="M180.2,644.3 h40 M1188.0,644.3 h-40"/>
<path d="M180.2,566.8 h20 M1188.0,566.8 h-20"/>
<path d="M180.2,489.4 h40 M1188.0,489.4 h-40"/>
<path d="M180.2,411.9 h20 M1188.0,411.9 h-20"/>
<path d="M180.2,334.4 h40 M1188.0,334.4 h-40"/>
<path d="M180.2,256.9 h20 M1188.0,256.9 h-20"/>
<path d="M180.2,179.4 h40 M1188.0,179.4 h-40"/>
<path d="M180.2,101.9 h20 M1188.0,101.9 h-20"/>
</g>
<rect x="241.1" y="609" width="316.1" height="194.5" fill="#fff" stroke="#000" stroke-width="2.8"/>
<line x1="263.8" y1="648.5" x2="344.5" y2="648.5" stroke="#0000ff" stroke-width="6"/>
<line x1="263.8" y1="706.7" x2="344.5" y2="706.7" stroke="#ff0000" stroke-width="6"/>
<line x1="263.8" y1="764.7" x2="344.5" y2="764.7" stroke="#000" stroke-width="6" stroke-dasharray="30.5 18"/>
<rect x="321.7" y="105.3" width="503.5" height="362.2" fill="#fff"/>
<g clip-path="url(#ci)" fill="none" stroke-linejoin="round">
<path d="M321.7,467.5 L322.1,463.9 L322.5,460.4 L322.8,457.0 L323.2,453.8 L323.6,450.9 L324.0,448.3 L324.4,446.2 L324.7,444.3 L325.1,442.5 L325.5,440.8 L325.9,439.2 L326.3,437.6 L326.6,436.1 L327.0,434.7 L327.4,433.4 L327.8,432.1 L328.2,430.9 L328.5,429.7 L328.9,428.5 L329.3,427.4 L329.7,426.3 L330.1,425.2 L330.4,424.1 L330.8,423.1 L331.2,422.0 L331.6,421.0 L332.0,419.9 L332.3,418.8 L332.7,417.8 L333.1,416.7 L333.5,415.6 L333.9,414.6 L334.2,413.5 L334.6,412.5 L335.0,411.5 L335.4,410.4 L335.8,409.4 L336.1,408.4 L336.5,407.4 L336.9,406.4 L337.3,405.5 L337.6,404.5 L338.0,403.6 L338.4,402.6 L338.8,401.7 L339.2,400.8 L339.5,400.0 L339.9,399.1 L340.3,398.3 L340.7,397.4 L341.1,396.6 L341.4,395.9 L341.8,395.1 L342.2,394.4 L342.6,393.7 L343.0,393.0 L343.3,392.3 L343.7,391.7 L344.1,391.1 L344.5,390.5 L344.9,390.0 L345.2,389.5 L345.6,389.0 L346.0,388.6 L346.4,388.1 L346.8,387.7 L347.1,387.2 L347.5,386.8 L347.9,386.4 L348.3,385.9 L348.7,385.5 L349.0,385.1 L349.4,384.7 L349.8,384.3 L350.2,383.9 L350.6,383.5 L350.9,383.2 L351.3,382.8 L351.7,382.4 L354.1,380.3 L356.5,378.3 L358.8,376.5 L361.2,374.9 L363.6,373.5 L366.0,372.2 L368.4,371.0 L370.7,369.9 L373.1,369.0 L375.5,368.1 L377.9,367.3 L380.3,366.6 L382.6,365.8 L385.0,365.1 L387.4,364.4 L389.8,363.6 L392.1,362.8 L394.5,361.9 L396.9,361.1 L399.3,360.1 L401.7,359.2 L404.0,358.3 L406.4,357.3 L408.8,356.4 L411.2,355.4 L413.6,354.4 L415.9,353.5 L418.3,352.6 L420.7,351.7 L423.1,350.8 L425.5,349.9 L427.8,349.1 L430.2,348.3 L432.6,347.5 L435.0,346.8 L437.4,346.1 L439.7,345.5 L442.1,344.9 L444.5,344.3 L446.9,343.7 L449.3,343.2 L451.6,342.6 L454.0,342.1 L456.4,341.6 L458.8,341.0 L461.2,340.6 L463.5,340.1 L465.9,339.6 L468.3,339.1 L470.7,338.7 L473.0,338.2 L475.4,337.8 L477.8,337.4 L480.2,337.0 L482.6,336.5 L484.9,336.1 L487.3,335.8 L489.7,335.4 L492.1,335.0 L494.5,334.7 L496.8,334.3 L499.2,334.0 L501.6,333.6 L504.0,333.3 L506.4,333.0 L508.7,332.7 L511.1,332.3 L513.5,332.0 L515.9,331.7 L518.3,331.4 L520.6,331.0 L523.0,330.7 L525.4,330.4 L527.8,330.0 L530.2,329.6 L532.5,329.3 L534.9,328.9 L537.3,328.6 L539.7,328.2 L542.1,327.9 L544.4,327.5 L546.8,327.2 L549.2,326.8 L551.6,326.4 L553.9,326.1 L556.3,325.7 L558.7,325.3 L561.1,324.9 L563.5,324.6 L565.8,324.2 L568.2,323.7 L570.6,323.3 L573.0,322.9 L575.4,322.4 L577.7,322.0 L580.1,321.5 L582.5,321.0 L584.9,320.5 L587.3,319.9 L589.6,319.4 L592.0,318.8 L594.4,318.2 L596.8,317.6 L599.2,316.9 L601.5,316.3 L603.9,315.6 L606.3,314.9 L608.7,314.2 L611.1,313.5 L613.4,312.8 L615.8,312.1 L618.2,311.4 L620.6,310.6 L623.0,309.9 L625.3,309.2 L627.7,308.4 L630.1,307.7 L632.5,306.9 L634.8,306.2 L637.2,305.5 L639.6,304.7 L642.0,304.0 L644.4,303.2 L646.7,302.4 L649.1,301.7 L651.5,300.9 L653.9,300.1 L656.3,299.3 L658.6,298.5 L661.0,297.7 L663.4,296.9 L665.8,296.1 L668.2,295.2 L670.5,294.4 L672.9,293.6 L675.3,292.7 L677.7,291.9 L680.1,291.0 L682.4,290.2 L684.8,289.3 L687.2,288.5 L689.6,287.6 L692.0,286.7 L694.3,285.8 L696.7,285.0 L699.1,284.1 L701.5,283.2 L703.9,282.3 L706.2,281.4 L708.6,280.5 L711.0,279.6 L713.4,278.6 L715.7,277.7 L718.1,276.8 L720.5,275.8 L722.9,274.9 L725.3,273.9 L727.6,273.0 L730.0,272.0 L732.4,271.0 L734.8,270.1 L737.2,269.1 L739.5,268.1 L741.9,267.1 L744.3,266.1 L746.7,265.2 L749.1,264.2 L751.4,263.2 L753.8,262.2 L756.2,261.2 L758.6,260.2 L761.0,259.2 L763.3,258.2 L765.7,257.2 L768.1,256.2 L770.5,255.2 L772.9,254.1 L775.2,253.1 L777.6,252.1 L780.0,251.1 L782.4,250.0 L784.8,249.0 L787.1,248.0 L789.5,246.9 L791.9,245.9 L794.3,244.8 L796.6,243.8 L799.0,242.7 L801.4,241.6 L803.8,240.6 L806.2,239.5 L808.5,238.4 L810.9,237.4 L813.3,236.3 L815.7,235.2 L818.1,234.1 L820.4,233.0 L822.8,232.0 L825.2,230.9 L825.2,249.5 L822.8,250.3 L820.4,251.2 L818.1,252.1 L815.7,253.0 L813.3,253.8 L810.9,254.7 L808.5,255.6 L806.2,256.5 L803.8,257.3 L801.4,258.2 L799.0,259.0 L796.6,259.9 L794.3,260.7 L791.9,261.6 L789.5,262.4 L787.1,263.3 L784.8,264.1 L782.4,265.0 L780.0,265.8 L777.6,266.6 L775.2,267.4 L772.9,268.3 L770.5,269.1 L768.1,269.9 L765.7,270.7 L763.3,271.5 L761.0,272.4 L758.6,273.2 L756.2,274.0 L753.8,274.8 L751.4,275.6 L749.1,276.4 L746.7,277.2 L744.3,278.0 L741.9,278.8 L739.5,279.6 L737.2,280.4 L734.8,281.2 L732.4,282.0 L730.0,282.8 L727.6,283.6 L725.3,284.4 L722.9,285.1 L720.5,285.9 L718.1,286.7 L715.7,287.4 L713.4,288.2 L711.0,288.9 L708.6,289.6 L706.2,290.4 L703.9,291.1 L701.5,291.8 L699.1,292.5 L696.7,293.2 L694.3,293.9 L692.0,294.6 L689.6,295.2 L687.2,295.9 L684.8,296.5 L682.4,297.2 L680.1,297.8 L677.7,298.4 L675.3,299.0 L672.9,299.7 L670.5,300.3 L668.2,300.9 L665.8,301.5 L663.4,302.1 L661.0,302.7 L658.6,303.3 L656.3,304.0 L653.9,304.6 L651.5,305.2 L649.1,305.8 L646.7,306.5 L644.4,307.1 L642.0,307.8 L639.6,308.4 L637.2,309.1 L634.8,309.8 L632.5,310.5 L630.1,311.1 L627.7,311.8 L625.3,312.5 L623.0,313.1 L620.6,313.8 L618.2,314.5 L615.8,315.2 L613.4,315.9 L611.1,316.6 L608.7,317.3 L606.3,318.0 L603.9,318.7 L601.5,319.4 L599.2,320.1 L596.8,320.9 L594.4,321.6 L592.0,322.4 L589.6,323.1 L587.3,323.9 L584.9,324.7 L582.5,325.5 L580.1,326.4 L577.7,327.2 L575.4,328.1 L573.0,329.1 L570.6,330.1 L568.2,331.1 L565.8,332.1 L563.5,333.1 L561.1,334.2 L558.7,335.2 L556.3,336.3 L553.9,337.4 L551.6,338.5 L549.2,339.5 L546.8,340.6 L544.4,341.7 L542.1,342.7 L539.7,343.7 L537.3,344.7 L534.9,345.6 L532.5,346.6 L530.2,347.4 L527.8,348.3 L525.4,349.1 L523.0,350.0 L520.6,350.8 L518.3,351.7 L515.9,352.5 L513.5,353.3 L511.1,354.1 L508.7,355.0 L506.4,355.7 L504.0,356.5 L501.6,357.2 L499.2,358.0 L496.8,358.6 L494.5,359.3 L492.1,359.9 L489.7,360.5 L487.3,361.0 L484.9,361.5 L482.6,361.9 L480.2,362.3 L477.8,362.7 L475.4,363.0 L473.0,363.4 L470.7,363.7 L468.3,364.0 L465.9,364.3 L463.5,364.6 L461.2,364.9 L458.8,365.1 L456.4,365.4 L454.0,365.7 L451.6,365.9 L449.3,366.1 L446.9,366.4 L444.5,366.6 L442.1,366.8 L439.7,367.1 L437.4,367.3 L435.0,367.5 L432.6,367.7 L430.2,367.9 L427.8,368.0 L425.5,368.2 L423.1,368.3 L420.7,368.4 L418.3,368.6 L415.9,368.7 L413.6,368.8 L411.2,369.0 L408.8,369.1 L406.4,369.3 L404.0,369.5 L401.7,369.7 L399.3,369.9 L396.9,370.2 L394.5,370.5 L392.1,370.8 L389.8,371.2 L387.4,371.9 L385.0,372.8 L382.6,373.9 L380.3,375.2 L377.9,376.6 L375.5,378.1 L373.1,379.7 L370.7,381.4 L368.4,383.1 L366.0,384.9 L363.6,387.0 L361.2,389.3 L358.8,391.8 L356.5,394.5 L354.1,397.3 L351.7,400.2 L351.3,400.7 L350.9,401.2 L350.6,401.7 L350.2,402.2 L349.8,402.7 L349.4,403.2 L349.0,403.7 L348.7,404.2 L348.3,404.7 L347.9,405.2 L347.5,405.7 L347.1,406.3 L346.8,406.8 L346.4,407.3 L346.0,407.8 L345.6,408.3 L345.2,408.9 L344.9,409.4 L344.5,409.9 L344.1,410.5 L343.7,411.0 L343.3,411.6 L343.0,412.2 L342.6,412.7 L342.2,413.3 L341.8,413.9 L341.4,414.5 L341.1,415.1 L340.7,415.7 L340.3,416.3 L339.9,417.0 L339.5,417.6 L339.2,418.2 L338.8,418.9 L338.4,419.5 L338.0,420.2 L337.6,420.9 L337.3,421.6 L336.9,422.3 L336.5,423.0 L336.1,423.7 L335.8,424.4 L335.4,425.1 L335.0,425.9 L334.6,426.6 L334.2,427.4 L333.9,428.1 L333.5,428.9 L333.1,429.7 L332.7,430.5 L332.3,431.3 L332.0,432.1 L331.6,432.9 L331.2,433.7 L330.8,434.6 L330.4,435.4 L330.1,436.2 L329.7,437.1 L329.3,437.9 L328.9,438.8 L328.5,439.7 L328.2,440.7 L327.8,441.7 L327.4,442.7 L327.0,443.7 L326.6,444.8 L326.3,445.9 L325.9,447.1 L325.5,448.4 L325.1,449.7 L324.7,451.0 L324.4,452.5 L324.0,454.0 L323.6,455.8 L323.2,457.9 L322.8,460.2 L322.5,462.6 L322.1,465.0 L321.7,467.5 Z" fill="url(#pt)"/>
<path d="M321.7,467.5 L322.1,463.9 L322.5,460.4 L322.8,457.0 L323.2,453.8 L323.6,450.9 L324.0,448.3 L324.4,446.2 L324.7,444.3 L325.1,442.5 L325.5,440.8 L325.9,439.2 L326.3,437.6 L326.6,436.1 L327.0,434.7 L327.4,433.4 L327.8,432.1 L328.2,430.9 L328.5,429.7 L328.9,428.5 L329.3,427.4 L329.7,426.3 L330.1,425.2 L330.4,424.1 L330.8,423.1 L331.2,422.0 L331.6,421.0 L332.0,419.9 L332.3,418.8 L332.7,417.8 L333.1,416.7 L333.5,415.6 L333.9,414.6 L334.2,413.5 L334.6,412.5 L335.0,411.5 L335.4,410.4 L335.8,409.4 L336.1,408.4 L336.5,407.4 L336.9,406.4 L337.3,405.5 L337.6,404.5 L338.0,403.6 L338.4,402.6 L338.8,401.7 L339.2,400.8 L339.5,400.0 L339.9,399.1 L340.3,398.3 L340.7,397.4 L341.1,396.6 L341.4,395.9 L341.8,395.1 L342.2,394.4 L342.6,393.7 L343.0,393.0 L343.3,392.3 L343.7,391.7 L344.1,391.1 L344.5,390.5 L344.9,390.0 L345.2,389.5 L345.6,389.0 L346.0,388.6 L346.4,388.1 L346.8,387.7 L347.1,387.2 L347.5,386.8 L347.9,386.4 L348.3,385.9 L348.7,385.5 L349.0,385.1 L349.4,384.7 L349.8,384.3 L350.2,383.9 L350.6,383.5 L350.9,383.2 L351.3,382.8 L351.7,382.4 L354.1,380.3 L356.5,378.3 L358.8,376.5 L361.2,374.9 L363.6,373.5 L366.0,372.2 L368.4,371.0 L370.7,369.9 L373.1,369.0 L375.5,368.1 L377.9,367.3 L380.3,366.6 L382.6,365.8 L385.0,365.1 L387.4,364.4 L389.8,363.6 L392.1,362.8 L394.5,361.9 L396.9,361.1 L399.3,360.1 L401.7,359.2 L404.0,358.3 L406.4,357.3 L408.8,356.4 L411.2,355.4 L413.6,354.4 L415.9,353.5 L418.3,352.6 L420.7,351.7 L423.1,350.8 L425.5,349.9 L427.8,349.1 L430.2,348.3 L432.6,347.5 L435.0,346.8 L437.4,346.1 L439.7,345.5 L442.1,344.9 L444.5,344.3 L446.9,343.7 L449.3,343.2 L451.6,342.6 L454.0,342.1 L456.4,341.6 L458.8,341.0 L461.2,340.6 L463.5,340.1 L465.9,339.6 L468.3,339.1 L470.7,338.7 L473.0,338.2 L475.4,337.8 L477.8,337.4 L480.2,337.0 L482.6,336.5 L484.9,336.1 L487.3,335.8 L489.7,335.4 L492.1,335.0 L494.5,334.7 L496.8,334.3 L499.2,334.0 L501.6,333.6 L504.0,333.3 L506.4,333.0 L508.7,332.7 L511.1,332.3 L513.5,332.0 L515.9,331.7 L518.3,331.4 L520.6,331.0 L523.0,330.7 L525.4,330.4 L527.8,330.0 L530.2,329.6 L532.5,329.3 L534.9,328.9 L537.3,328.6 L539.7,328.2 L542.1,327.9 L544.4,327.5 L546.8,327.2 L549.2,326.8 L551.6,326.4 L553.9,326.1 L556.3,325.7 L558.7,325.3 L561.1,324.9 L563.5,324.6 L565.8,324.2 L568.2,323.7 L570.6,323.3 L573.0,322.9 L575.4,322.4 L577.7,322.0 L580.1,321.5 L582.5,321.0 L584.9,320.5 L587.3,319.9 L589.6,319.4 L592.0,318.8 L594.4,318.2 L596.8,317.6 L599.2,316.9 L601.5,316.3 L603.9,315.6 L606.3,314.9 L608.7,314.2 L611.1,313.5 L613.4,312.8 L615.8,312.1 L618.2,311.4 L620.6,310.6 L623.0,309.9 L625.3,309.2 L627.7,308.4 L630.1,307.7 L632.5,306.9 L634.8,306.2 L637.2,305.5 L639.6,304.7 L642.0,304.0 L644.4,303.2 L646.7,302.4 L649.1,301.7 L651.5,300.9 L653.9,300.1 L656.3,299.3 L658.6,298.5 L661.0,297.7 L663.4,296.9 L665.8,296.1 L668.2,295.2 L670.5,294.4 L672.9,293.6 L675.3,292.7 L677.7,291.9 L680.1,291.0 L682.4,290.2 L684.8,289.3 L687.2,288.5 L689.6,287.6 L692.0,286.7 L694.3,285.8 L696.7,285.0 L699.1,284.1 L701.5,283.2 L703.9,282.3 L706.2,281.4 L708.6,280.5 L711.0,279.6 L713.4,278.6 L715.7,277.7 L718.1,276.8 L720.5,275.8 L722.9,274.9 L725.3,273.9 L727.6,273.0 L730.0,272.0 L732.4,271.0 L734.8,270.1 L737.2,269.1 L739.5,268.1 L741.9,267.1 L744.3,266.1 L746.7,265.2 L749.1,264.2 L751.4,263.2 L753.8,262.2 L756.2,261.2 L758.6,260.2 L761.0,259.2 L763.3,258.2 L765.7,257.2 L768.1,256.2 L770.5,255.2 L772.9,254.1 L775.2,253.1 L777.6,252.1 L780.0,251.1 L782.4,250.0 L784.8,249.0 L787.1,248.0 L789.5,246.9 L791.9,245.9 L794.3,244.8 L796.6,243.8 L799.0,242.7 L801.4,241.6 L803.8,240.6 L806.2,239.5 L808.5,238.4 L810.9,237.4 L813.3,236.3 L815.7,235.2 L818.1,234.1 L820.4,233.0 L822.8,232.0 L825.2,230.9" stroke="#40e0d0" stroke-width="2.7"/>
<path d="M321.7,467.5 L322.1,465.0 L322.5,462.6 L322.8,460.2 L323.2,457.9 L323.6,455.8 L324.0,454.0 L324.4,452.5 L324.7,451.0 L325.1,449.7 L325.5,448.4 L325.9,447.1 L326.3,445.9 L326.6,444.8 L327.0,443.7 L327.4,442.7 L327.8,441.7 L328.2,440.7 L328.5,439.7 L328.9,438.8 L329.3,437.9 L329.7,437.1 L330.1,436.2 L330.4,435.4 L330.8,434.6 L331.2,433.7 L331.6,432.9 L332.0,432.1 L332.3,431.3 L332.7,430.5 L333.1,429.7 L333.5,428.9 L333.9,428.1 L334.2,427.4 L334.6,426.6 L335.0,425.9 L335.4,425.1 L335.8,424.4 L336.1,423.7 L336.5,423.0 L336.9,422.3 L337.3,421.6 L337.6,420.9 L338.0,420.2 L338.4,419.5 L338.8,418.9 L339.2,418.2 L339.5,417.6 L339.9,417.0 L340.3,416.3 L340.7,415.7 L341.1,415.1 L341.4,414.5 L341.8,413.9 L342.2,413.3 L342.6,412.7 L343.0,412.2 L343.3,411.6 L343.7,411.0 L344.1,410.5 L344.5,409.9 L344.9,409.4 L345.2,408.9 L345.6,408.3 L346.0,407.8 L346.4,407.3 L346.8,406.8 L347.1,406.3 L347.5,405.7 L347.9,405.2 L348.3,404.7 L348.7,404.2 L349.0,403.7 L349.4,403.2 L349.8,402.7 L350.2,402.2 L350.6,401.7 L350.9,401.2 L351.3,400.7 L351.7,400.2 L354.1,397.3 L356.5,394.5 L358.8,391.8 L361.2,389.3 L363.6,387.0 L366.0,384.9 L368.4,383.1 L370.7,381.4 L373.1,379.7 L375.5,378.1 L377.9,376.6 L380.3,375.2 L382.6,373.9 L385.0,372.8 L387.4,371.9 L389.8,371.2 L392.1,370.8 L394.5,370.5 L396.9,370.2 L399.3,369.9 L401.7,369.7 L404.0,369.5 L406.4,369.3 L408.8,369.1 L411.2,369.0 L413.6,368.8 L415.9,368.7 L418.3,368.6 L420.7,368.4 L423.1,368.3 L425.5,368.2 L427.8,368.0 L430.2,367.9 L432.6,367.7 L435.0,367.5 L437.4,367.3 L439.7,367.1 L442.1,366.8 L444.5,366.6 L446.9,366.4 L449.3,366.1 L451.6,365.9 L454.0,365.7 L456.4,365.4 L458.8,365.1 L461.2,364.9 L463.5,364.6 L465.9,364.3 L468.3,364.0 L470.7,363.7 L473.0,363.4 L475.4,363.0 L477.8,362.7 L480.2,362.3 L482.6,361.9 L484.9,361.5 L487.3,361.0 L489.7,360.5 L492.1,359.9 L494.5,359.3 L496.8,358.6 L499.2,358.0 L501.6,357.2 L504.0,356.5 L506.4,355.7 L508.7,355.0 L511.1,354.1 L513.5,353.3 L515.9,352.5 L518.3,351.7 L520.6,350.8 L523.0,350.0 L525.4,349.1 L527.8,348.3 L530.2,347.4 L532.5,346.6 L534.9,345.6 L537.3,344.7 L539.7,343.7 L542.1,342.7 L544.4,341.7 L546.8,340.6 L549.2,339.5 L551.6,338.5 L553.9,337.4 L556.3,336.3 L558.7,335.2 L561.1,334.2 L563.5,333.1 L565.8,332.1 L568.2,331.1 L570.6,330.1 L573.0,329.1 L575.4,328.1 L577.7,327.2 L580.1,326.4 L582.5,325.5 L584.9,324.7 L587.3,323.9 L589.6,323.1 L592.0,322.4 L594.4,321.6 L596.8,320.9 L599.2,320.1 L601.5,319.4 L603.9,318.7 L606.3,318.0 L608.7,317.3 L611.1,316.6 L613.4,315.9 L615.8,315.2 L618.2,314.5 L620.6,313.8 L623.0,313.1 L625.3,312.5 L627.7,311.8 L630.1,311.1 L632.5,310.5 L634.8,309.8 L637.2,309.1 L639.6,308.4 L642.0,307.8 L644.4,307.1 L646.7,306.5 L649.1,305.8 L651.5,305.2 L653.9,304.6 L656.3,304.0 L658.6,303.3 L661.0,302.7 L663.4,302.1 L665.8,301.5 L668.2,300.9 L670.5,300.3 L672.9,299.7 L675.3,299.0 L677.7,298.4 L680.1,297.8 L682.4,297.2 L684.8,296.5 L687.2,295.9 L689.6,295.2 L692.0,294.6 L694.3,293.9 L696.7,293.2 L699.1,292.5 L701.5,291.8 L703.9,291.1 L706.2,290.4 L708.6,289.6 L711.0,288.9 L713.4,288.2 L715.7,287.4 L718.1,286.7 L720.5,285.9 L722.9,285.1 L725.3,284.4 L727.6,283.6 L730.0,282.8 L732.4,282.0 L734.8,281.2 L737.2,280.4 L739.5,279.6 L741.9,278.8 L744.3,278.0 L746.7,277.2 L749.1,276.4 L751.4,275.6 L753.8,274.8 L756.2,274.0 L758.6,273.2 L761.0,272.4 L763.3,271.5 L765.7,270.7 L768.1,269.9 L770.5,269.1 L772.9,268.3 L775.2,267.4 L777.6,266.6 L780.0,265.8 L782.4,265.0 L784.8,264.1 L787.1,263.3 L789.5,262.4 L791.9,261.6 L794.3,260.7 L796.6,259.9 L799.0,259.0 L801.4,258.2 L803.8,257.3 L806.2,256.5 L808.5,255.6 L810.9,254.7 L813.3,253.8 L815.7,253.0 L818.1,252.1 L820.4,251.2 L822.8,250.3 L825.2,249.5" stroke="#40e0d0" stroke-width="2.7"/>
<path d="M321.7,467.5 L322.1,451.4 L322.5,437.3 L322.8,427.2 L323.2,421.8 L323.6,417.3 L324.0,413.7 L324.4,410.9 L324.7,409.0 L325.1,408.0 L325.5,407.2 L325.9,406.5 L326.3,405.8 L326.6,405.2 L327.0,404.6 L327.4,404.1 L327.8,403.6 L328.2,403.2 L328.5,402.8 L328.9,402.5 L329.3,402.1 L329.7,401.9 L330.1,401.7 L330.4,401.5 L330.8,401.3 L331.2,401.2 L331.6,401.1 L332.0,401.1 L332.3,401.0 L332.7,401.0 L333.1,401.0 L333.5,400.9 L333.9,400.9 L334.2,400.9 L334.6,400.8 L335.0,400.8 L335.4,400.8 L335.8,400.8 L336.1,400.8 L336.5,400.8 L336.9,400.7 L337.3,400.7 L337.6,400.7 L338.0,400.7 L338.4,400.7 L338.8,400.7 L339.2,400.6 L339.5,400.6 L339.9,400.6 L340.3,400.6 L340.7,400.5 L341.1,400.5 L341.4,400.5 L341.8,400.4 L342.2,400.3 L342.6,400.3 L343.0,400.2 L343.3,400.1 L343.7,400.0 L344.1,400.0 L344.5,399.9 L344.9,399.8 L345.2,399.6 L345.6,399.5 L346.0,399.4 L346.4,399.3 L346.8,399.1 L347.1,399.0 L347.5,398.9 L347.9,398.7 L348.3,398.6 L348.7,398.4 L349.0,398.2 L349.4,398.1 L349.8,397.9 L350.2,397.7 L350.6,397.5 L350.9,397.4 L351.3,397.2 L351.7,397.0 L354.1,395.7 L356.5,394.4 L358.8,393.0 L361.2,391.6 L363.6,390.3 L366.0,389.0 L368.4,387.9 L370.7,386.8 L373.1,385.8 L375.5,384.8 L377.9,383.8 L380.3,382.8 L382.6,381.8 L385.0,380.8 L387.4,379.8 L389.8,378.8 L392.1,377.9 L394.5,376.9 L396.9,375.9 L399.3,374.9 L401.7,373.9 L404.0,372.9 L406.4,371.9 L408.8,371.0 L411.2,370.0 L413.6,369.0 L415.9,368.0 L418.3,367.0 L420.7,366.1 L423.1,365.1 L425.5,364.1 L427.8,363.2 L430.2,362.2 L432.6,361.3 L435.0,360.3 L437.4,359.4 L439.7,358.5 L442.1,357.5 L444.5,356.6 L446.9,355.6 L449.3,354.7 L451.6,353.7 L454.0,352.8 L456.4,351.9 L458.8,350.9 L461.2,350.0 L463.5,349.1 L465.9,348.2 L468.3,347.3 L470.7,346.4 L473.0,345.5 L475.4,344.7 L477.8,343.8 L480.2,343.0 L482.6,342.2 L484.9,341.4 L487.3,340.7 L489.7,339.9 L492.1,339.2 L494.5,338.4 L496.8,337.7 L499.2,337.0 L501.6,336.3 L504.0,335.6 L506.4,334.9 L508.7,334.2 L511.1,333.5 L513.5,332.9 L515.9,332.2 L518.3,331.5 L520.6,330.8 L523.0,330.1 L525.4,329.5 L527.8,328.8 L530.2,328.1 L532.5,327.4 L534.9,326.7 L537.3,326.1 L539.7,325.4 L542.1,324.7 L544.4,324.1 L546.8,323.4 L549.2,322.8 L551.6,322.1 L553.9,321.5 L556.3,320.8 L558.7,320.2 L561.1,319.5 L563.5,318.8 L565.8,318.2 L568.2,317.5 L570.6,316.8 L573.0,316.1 L575.4,315.4 L577.7,314.7 L580.1,313.9 L582.5,313.2 L584.9,312.4 L587.3,311.7 L589.6,310.9 L592.0,310.2 L594.4,309.4 L596.8,308.6 L599.2,307.8 L601.5,307.0 L603.9,306.2 L606.3,305.4 L608.7,304.6 L611.1,303.7 L613.4,302.9 L615.8,302.1 L618.2,301.2 L620.6,300.4 L623.0,299.5 L625.3,298.7 L627.7,297.8 L630.1,297.0 L632.5,296.1 L634.8,295.2 L637.2,294.3 L639.6,293.5 L642.0,292.6 L644.4,291.7 L646.7,290.8 L649.1,289.8 L651.5,288.9 L653.9,288.0 L656.3,287.1 L658.6,286.1 L661.0,285.2 L663.4,284.3 L665.8,283.3 L668.2,282.3 L670.5,281.4 L672.9,280.4 L675.3,279.4 L677.7,278.5 L680.1,277.5 L682.4,276.5 L684.8,275.5 L687.2,274.5 L689.6,273.5 L692.0,272.5 L694.3,271.5 L696.7,270.5 L699.1,269.5 L701.5,268.4 L703.9,267.4 L706.2,266.4 L708.6,265.3 L711.0,264.3 L713.4,263.2 L715.7,262.2 L718.1,261.1 L720.5,260.0 L722.9,258.9 L725.3,257.8 L727.6,256.7 L730.0,255.7 L732.4,254.5 L734.8,253.4 L737.2,252.3 L739.5,251.2 L741.9,250.1 L744.3,249.0 L746.7,247.9 L749.1,246.7 L751.4,245.6 L753.8,244.5 L756.2,243.3 L758.6,242.2 L761.0,241.1 L763.3,239.9 L765.7,238.8 L768.1,237.7 L770.5,236.5 L772.9,235.4 L775.2,234.2 L777.6,233.0 L780.0,231.9 L782.4,230.7 L784.8,229.5 L787.1,228.4 L789.5,227.2 L791.9,226.0 L794.3,224.8 L796.6,223.6 L799.0,222.5 L801.4,221.3 L803.8,220.1 L806.2,218.9 L808.5,217.7 L810.9,216.4 L813.3,215.2 L815.7,214.0 L818.1,212.8 L820.4,211.6 L822.8,210.4 L825.2,209.1 L825.2,224.8 L822.8,226.0 L820.4,227.1 L818.1,228.2 L815.7,229.4 L813.3,230.5 L810.9,231.6 L808.5,232.7 L806.2,233.8 L803.8,235.0 L801.4,236.1 L799.0,237.2 L796.6,238.3 L794.3,239.4 L791.9,240.5 L789.5,241.6 L787.1,242.6 L784.8,243.7 L782.4,244.8 L780.0,245.9 L777.6,247.0 L775.2,248.0 L772.9,249.1 L770.5,250.2 L768.1,251.2 L765.7,252.3 L763.3,253.3 L761.0,254.4 L758.6,255.4 L756.2,256.5 L753.8,257.5 L751.4,258.6 L749.1,259.6 L746.7,260.6 L744.3,261.7 L741.9,262.7 L739.5,263.7 L737.2,264.7 L734.8,265.8 L732.4,266.8 L730.0,267.8 L727.6,268.8 L725.3,269.8 L722.9,270.8 L720.5,271.8 L718.1,272.8 L715.7,273.8 L713.4,274.7 L711.0,275.7 L708.6,276.7 L706.2,277.6 L703.9,278.6 L701.5,279.5 L699.1,280.5 L696.7,281.4 L694.3,282.3 L692.0,283.2 L689.6,284.1 L687.2,285.0 L684.8,285.9 L682.4,286.8 L680.1,287.7 L677.7,288.6 L675.3,289.5 L672.9,290.3 L670.5,291.2 L668.2,292.1 L665.8,292.9 L663.4,293.8 L661.0,294.6 L658.6,295.5 L656.3,296.3 L653.9,297.2 L651.5,298.0 L649.1,298.9 L646.7,299.7 L644.4,300.5 L642.0,301.4 L639.6,302.2 L637.2,303.0 L634.8,303.8 L632.5,304.7 L630.1,305.5 L627.7,306.3 L625.3,307.1 L623.0,307.9 L620.6,308.7 L618.2,309.5 L615.8,310.2 L613.4,311.0 L611.1,311.8 L608.7,312.6 L606.3,313.4 L603.9,314.2 L601.5,314.9 L599.2,315.7 L596.8,316.5 L594.4,317.2 L592.0,318.0 L589.6,318.8 L587.3,319.6 L584.9,320.3 L582.5,321.1 L580.1,321.9 L577.7,322.7 L575.4,323.4 L573.0,324.2 L570.6,325.0 L568.2,325.7 L565.8,326.5 L563.5,327.2 L561.1,328.0 L558.7,328.8 L556.3,329.5 L553.9,330.3 L551.6,331.0 L549.2,331.8 L546.8,332.6 L544.4,333.3 L542.1,334.1 L539.7,334.9 L537.3,335.6 L534.9,336.4 L532.5,337.2 L530.2,338.0 L527.8,338.7 L525.4,339.5 L523.0,340.3 L520.6,341.1 L518.3,341.8 L515.9,342.6 L513.5,343.4 L511.1,344.2 L508.7,345.0 L506.4,345.7 L504.0,346.5 L501.6,347.3 L499.2,348.1 L496.8,348.9 L494.5,349.7 L492.1,350.6 L489.7,351.4 L487.3,352.2 L484.9,353.1 L482.6,353.9 L480.2,354.8 L477.8,355.6 L475.4,356.5 L473.0,357.4 L470.7,358.3 L468.3,359.2 L465.9,360.2 L463.5,361.1 L461.2,362.0 L458.8,362.9 L456.4,363.9 L454.0,364.8 L451.6,365.8 L449.3,366.7 L446.9,367.7 L444.5,368.6 L442.1,369.6 L439.7,370.5 L437.4,371.5 L435.0,372.4 L432.6,373.4 L430.2,374.3 L427.8,375.3 L425.5,376.3 L423.1,377.2 L420.7,378.2 L418.3,379.1 L415.9,380.1 L413.6,381.1 L411.2,382.1 L408.8,383.0 L406.4,384.0 L404.0,385.0 L401.7,386.0 L399.3,387.0 L396.9,388.0 L394.5,388.9 L392.1,389.9 L389.8,390.9 L387.4,391.9 L385.0,392.9 L382.6,393.9 L380.3,394.8 L377.9,395.8 L375.5,396.8 L373.1,397.9 L370.7,398.9 L368.4,400.0 L366.0,401.1 L363.6,402.3 L361.2,403.5 L358.8,404.8 L356.5,406.1 L354.1,407.4 L351.7,408.6 L351.3,408.8 L350.9,409.0 L350.6,409.2 L350.2,409.4 L349.8,409.5 L349.4,409.7 L349.0,409.9 L348.7,410.1 L348.3,410.3 L347.9,410.5 L347.5,410.6 L347.1,410.8 L346.8,411.0 L346.4,411.1 L346.0,411.3 L345.6,411.5 L345.2,411.6 L344.9,411.8 L344.5,411.9 L344.1,412.1 L343.7,412.2 L343.3,412.4 L343.0,412.5 L342.6,412.7 L342.2,412.8 L341.8,412.9 L341.4,413.1 L341.1,413.2 L340.7,413.3 L340.3,413.4 L339.9,413.5 L339.5,413.6 L339.2,413.7 L338.8,413.8 L338.4,413.9 L338.0,414.0 L337.6,414.0 L337.3,414.1 L336.9,414.2 L336.5,414.3 L336.1,414.4 L335.8,414.4 L335.4,414.5 L335.0,414.6 L334.6,414.7 L334.2,414.8 L333.9,414.9 L333.5,415.0 L333.1,415.1 L332.7,415.2 L332.3,415.4 L332.0,415.5 L331.6,415.7 L331.2,415.8 L330.8,415.9 L330.4,416.1 L330.1,416.2 L329.7,416.4 L329.3,416.5 L328.9,416.7 L328.5,416.9 L328.2,417.2 L327.8,417.4 L327.4,417.7 L327.0,418.0 L326.6,418.3 L326.3,418.7 L325.9,419.2 L325.5,419.7 L325.1,420.2 L324.7,421.0 L324.4,422.8 L324.0,425.7 L323.6,429.3 L323.2,433.5 L322.8,438.4 L322.5,446.0 L322.1,456.1 L321.7,467.5 Z" fill="#fff"/>
<path d="M321.7,467.5 L322.1,451.4 L322.5,437.3 L322.8,427.2 L323.2,421.8 L323.6,417.3 L324.0,413.7 L324.4,410.9 L324.7,409.0 L325.1,408.0 L325.5,407.2 L325.9,406.5 L326.3,405.8 L326.6,405.2 L327.0,404.6 L327.4,404.1 L327.8,403.6 L328.2,403.2 L328.5,402.8 L328.9,402.5 L329.3,402.1 L329.7,401.9 L330.1,401.7 L330.4,401.5 L330.8,401.3 L331.2,401.2 L331.6,401.1 L332.0,401.1 L332.3,401.0 L332.7,401.0 L333.1,401.0 L333.5,400.9 L333.9,400.9 L334.2,400.9 L334.6,400.8 L335.0,400.8 L335.4,400.8 L335.8,400.8 L336.1,400.8 L336.5,400.8 L336.9,400.7 L337.3,400.7 L337.6,400.7 L338.0,400.7 L338.4,400.7 L338.8,400.7 L339.2,400.6 L339.5,400.6 L339.9,400.6 L340.3,400.6 L340.7,400.5 L341.1,400.5 L341.4,400.5 L341.8,400.4 L342.2,400.3 L342.6,400.3 L343.0,400.2 L343.3,400.1 L343.7,400.0 L344.1,400.0 L344.5,399.9 L344.9,399.8 L345.2,399.6 L345.6,399.5 L346.0,399.4 L346.4,399.3 L346.8,399.1 L347.1,399.0 L347.5,398.9 L347.9,398.7 L348.3,398.6 L348.7,398.4 L349.0,398.2 L349.4,398.1 L349.8,397.9 L350.2,397.7 L350.6,397.5 L350.9,397.4 L351.3,397.2 L351.7,397.0 L354.1,395.7 L356.5,394.4 L358.8,393.0 L361.2,391.6 L363.6,390.3 L366.0,389.0 L368.4,387.9 L370.7,386.8 L373.1,385.8 L375.5,384.8 L377.9,383.8 L380.3,382.8 L382.6,381.8 L385.0,380.8 L387.4,379.8 L389.8,378.8 L392.1,377.9 L394.5,376.9 L396.9,375.9 L399.3,374.9 L401.7,373.9 L404.0,372.9 L406.4,371.9 L408.8,371.0 L411.2,370.0 L413.6,369.0 L415.9,368.0 L418.3,367.0 L420.7,366.1 L423.1,365.1 L425.5,364.1 L427.8,363.2 L430.2,362.2 L432.6,361.3 L435.0,360.3 L437.4,359.4 L439.7,358.5 L442.1,357.5 L444.5,356.6 L446.9,355.6 L449.3,354.7 L451.6,353.7 L454.0,352.8 L456.4,351.9 L458.8,350.9 L461.2,350.0 L463.5,349.1 L465.9,348.2 L468.3,347.3 L470.7,346.4 L473.0,345.5 L475.4,344.7 L477.8,343.8 L480.2,343.0 L482.6,342.2 L484.9,341.4 L487.3,340.7 L489.7,339.9 L492.1,339.2 L494.5,338.4 L496.8,337.7 L499.2,337.0 L501.6,336.3 L504.0,335.6 L506.4,334.9 L508.7,334.2 L511.1,333.5 L513.5,332.9 L515.9,332.2 L518.3,331.5 L520.6,330.8 L523.0,330.1 L525.4,329.5 L527.8,328.8 L530.2,328.1 L532.5,327.4 L534.9,326.7 L537.3,326.1 L539.7,325.4 L542.1,324.7 L544.4,324.1 L546.8,323.4 L549.2,322.8 L551.6,322.1 L553.9,321.5 L556.3,320.8 L558.7,320.2 L561.1,319.5 L563.5,318.8 L565.8,318.2 L568.2,317.5 L570.6,316.8 L573.0,316.1 L575.4,315.4 L577.7,314.7 L580.1,313.9 L582.5,313.2 L584.9,312.4 L587.3,311.7 L589.6,310.9 L592.0,310.2 L594.4,309.4 L596.8,308.6 L599.2,307.8 L601.5,307.0 L603.9,306.2 L606.3,305.4 L608.7,304.6 L611.1,303.7 L613.4,302.9 L615.8,302.1 L618.2,301.2 L620.6,300.4 L623.0,299.5 L625.3,298.7 L627.7,297.8 L630.1,297.0 L632.5,296.1 L634.8,295.2 L637.2,294.3 L639.6,293.5 L642.0,292.6 L644.4,291.7 L646.7,290.8 L649.1,289.8 L651.5,288.9 L653.9,288.0 L656.3,287.1 L658.6,286.1 L661.0,285.2 L663.4,284.3 L665.8,283.3 L668.2,282.3 L670.5,281.4 L672.9,280.4 L675.3,279.4 L677.7,278.5 L680.1,277.5 L682.4,276.5 L684.8,275.5 L687.2,274.5 L689.6,273.5 L692.0,272.5 L694.3,271.5 L696.7,270.5 L699.1,269.5 L701.5,268.4 L703.9,267.4 L706.2,266.4 L708.6,265.3 L711.0,264.3 L713.4,263.2 L715.7,262.2 L718.1,261.1 L720.5,260.0 L722.9,258.9 L725.3,257.8 L727.6,256.7 L730.0,255.7 L732.4,254.5 L734.8,253.4 L737.2,252.3 L739.5,251.2 L741.9,250.1 L744.3,249.0 L746.7,247.9 L749.1,246.7 L751.4,245.6 L753.8,244.5 L756.2,243.3 L758.6,242.2 L761.0,241.1 L763.3,239.9 L765.7,238.8 L768.1,237.7 L770.5,236.5 L772.9,235.4 L775.2,234.2 L777.6,233.0 L780.0,231.9 L782.4,230.7 L784.8,229.5 L787.1,228.4 L789.5,227.2 L791.9,226.0 L794.3,224.8 L796.6,223.6 L799.0,222.5 L801.4,221.3 L803.8,220.1 L806.2,218.9 L808.5,217.7 L810.9,216.4 L813.3,215.2 L815.7,214.0 L818.1,212.8 L820.4,211.6 L822.8,210.4 L825.2,209.1 L825.2,224.8 L822.8,226.0 L820.4,227.1 L818.1,228.2 L815.7,229.4 L813.3,230.5 L810.9,231.6 L808.5,232.7 L806.2,233.8 L803.8,235.0 L801.4,236.1 L799.0,237.2 L796.6,238.3 L794.3,239.4 L791.9,240.5 L789.5,241.6 L787.1,242.6 L784.8,243.7 L782.4,244.8 L780.0,245.9 L777.6,247.0 L775.2,248.0 L772.9,249.1 L770.5,250.2 L768.1,251.2 L765.7,252.3 L763.3,253.3 L761.0,254.4 L758.6,255.4 L756.2,256.5 L753.8,257.5 L751.4,258.6 L749.1,259.6 L746.7,260.6 L744.3,261.7 L741.9,262.7 L739.5,263.7 L737.2,264.7 L734.8,265.8 L732.4,266.8 L730.0,267.8 L727.6,268.8 L725.3,269.8 L722.9,270.8 L720.5,271.8 L718.1,272.8 L715.7,273.8 L713.4,274.7 L711.0,275.7 L708.6,276.7 L706.2,277.6 L703.9,278.6 L701.5,279.5 L699.1,280.5 L696.7,281.4 L694.3,282.3 L692.0,283.2 L689.6,284.1 L687.2,285.0 L684.8,285.9 L682.4,286.8 L680.1,287.7 L677.7,288.6 L675.3,289.5 L672.9,290.3 L670.5,291.2 L668.2,292.1 L665.8,292.9 L663.4,293.8 L661.0,294.6 L658.6,295.5 L656.3,296.3 L653.9,297.2 L651.5,298.0 L649.1,298.9 L646.7,299.7 L644.4,300.5 L642.0,301.4 L639.6,302.2 L637.2,303.0 L634.8,303.8 L632.5,304.7 L630.1,305.5 L627.7,306.3 L625.3,307.1 L623.0,307.9 L620.6,308.7 L618.2,309.5 L615.8,310.2 L613.4,311.0 L611.1,311.8 L608.7,312.6 L606.3,313.4 L603.9,314.2 L601.5,314.9 L599.2,315.7 L596.8,316.5 L594.4,317.2 L592.0,318.0 L589.6,318.8 L587.3,319.6 L584.9,320.3 L582.5,321.1 L580.1,321.9 L577.7,322.7 L575.4,323.4 L573.0,324.2 L570.6,325.0 L568.2,325.7 L565.8,326.5 L563.5,327.2 L561.1,328.0 L558.7,328.8 L556.3,329.5 L553.9,330.3 L551.6,331.0 L549.2,331.8 L546.8,332.6 L544.4,333.3 L542.1,334.1 L539.7,334.9 L537.3,335.6 L534.9,336.4 L532.5,337.2 L530.2,338.0 L527.8,338.7 L525.4,339.5 L523.0,340.3 L520.6,341.1 L518.3,341.8 L515.9,342.6 L513.5,343.4 L511.1,344.2 L508.7,345.0 L506.4,345.7 L504.0,346.5 L501.6,347.3 L499.2,348.1 L496.8,348.9 L494.5,349.7 L492.1,350.6 L489.7,351.4 L487.3,352.2 L484.9,353.1 L482.6,353.9 L480.2,354.8 L477.8,355.6 L475.4,356.5 L473.0,357.4 L470.7,358.3 L468.3,359.2 L465.9,360.2 L463.5,361.1 L461.2,362.0 L458.8,362.9 L456.4,363.9 L454.0,364.8 L451.6,365.8 L449.3,366.7 L446.9,367.7 L444.5,368.6 L442.1,369.6 L439.7,370.5 L437.4,371.5 L435.0,372.4 L432.6,373.4 L430.2,374.3 L427.8,375.3 L425.5,376.3 L423.1,377.2 L420.7,378.2 L418.3,379.1 L415.9,380.1 L413.6,381.1 L411.2,382.1 L408.8,383.0 L406.4,384.0 L404.0,385.0 L401.7,386.0 L399.3,387.0 L396.9,388.0 L394.5,388.9 L392.1,389.9 L389.8,390.9 L387.4,391.9 L385.0,392.9 L382.6,393.9 L380.3,394.8 L377.9,395.8 L375.5,396.8 L373.1,397.9 L370.7,398.9 L368.4,400.0 L366.0,401.1 L363.6,402.3 L361.2,403.5 L358.8,404.8 L356.5,406.1 L354.1,407.4 L351.7,408.6 L351.3,408.8 L350.9,409.0 L350.6,409.2 L350.2,409.4 L349.8,409.5 L349.4,409.7 L349.0,409.9 L348.7,410.1 L348.3,410.3 L347.9,410.5 L347.5,410.6 L347.1,410.8 L346.8,411.0 L346.4,411.1 L346.0,411.3 L345.6,411.5 L345.2,411.6 L344.9,411.8 L344.5,411.9 L344.1,412.1 L343.7,412.2 L343.3,412.4 L343.0,412.5 L342.6,412.7 L342.2,412.8 L341.8,412.9 L341.4,413.1 L341.1,413.2 L340.7,413.3 L340.3,413.4 L339.9,413.5 L339.5,413.6 L339.2,413.7 L338.8,413.8 L338.4,413.9 L338.0,414.0 L337.6,414.0 L337.3,414.1 L336.9,414.2 L336.5,414.3 L336.1,414.4 L335.8,414.4 L335.4,414.5 L335.0,414.6 L334.6,414.7 L334.2,414.8 L333.9,414.9 L333.5,415.0 L333.1,415.1 L332.7,415.2 L332.3,415.4 L332.0,415.5 L331.6,415.7 L331.2,415.8 L330.8,415.9 L330.4,416.1 L330.1,416.2 L329.7,416.4 L329.3,416.5 L328.9,416.7 L328.5,416.9 L328.2,417.2 L327.8,417.4 L327.4,417.7 L327.0,418.0 L326.6,418.3 L326.3,418.7 L325.9,419.2 L325.5,419.7 L325.1,420.2 L324.7,421.0 L324.4,422.8 L324.0,425.7 L323.6,429.3 L323.2,433.5 L322.8,438.4 L322.5,446.0 L322.1,456.1 L321.7,467.5 Z" fill="url(#pr)"/>
<path d="M321.7,467.5 L322.1,451.4 L322.5,437.3 L322.8,427.2 L323.2,421.8 L323.6,417.3 L324.0,413.7 L324.4,410.9 L324.7,409.0 L325.1,408.0 L325.5,407.2 L325.9,406.5 L326.3,405.8 L326.6,405.2 L327.0,404.6 L327.4,404.1 L327.8,403.6 L328.2,403.2 L328.5,402.8 L328.9,402.5 L329.3,402.1 L329.7,401.9 L330.1,401.7 L330.4,401.5 L330.8,401.3 L331.2,401.2 L331.6,401.1 L332.0,401.1 L332.3,401.0 L332.7,401.0 L333.1,401.0 L333.5,400.9 L333.9,400.9 L334.2,400.9 L334.6,400.8 L335.0,400.8 L335.4,400.8 L335.8,400.8 L336.1,400.8 L336.5,400.8 L336.9,400.7 L337.3,400.7 L337.6,400.7 L338.0,400.7 L338.4,400.7 L338.8,400.7 L339.2,400.6 L339.5,400.6 L339.9,400.6 L340.3,400.6 L340.7,400.5 L341.1,400.5 L341.4,400.5 L341.8,400.4 L342.2,400.3 L342.6,400.3 L343.0,400.2 L343.3,400.1 L343.7,400.0 L344.1,400.0 L344.5,399.9 L344.9,399.8 L345.2,399.6 L345.6,399.5 L346.0,399.4 L346.4,399.3 L346.8,399.1 L347.1,399.0 L347.5,398.9 L347.9,398.7 L348.3,398.6 L348.7,398.4 L349.0,398.2 L349.4,398.1 L349.8,397.9 L350.2,397.7 L350.6,397.5 L350.9,397.4 L351.3,397.2 L351.7,397.0 L354.1,395.7 L356.5,394.4 L358.8,393.0 L361.2,391.6 L363.6,390.3 L366.0,389.0 L368.4,387.9 L370.7,386.8 L373.1,385.8 L375.5,384.8 L377.9,383.8 L380.3,382.8 L382.6,381.8 L385.0,380.8 L387.4,379.8 L389.8,378.8 L392.1,377.9 L394.5,376.9 L396.9,375.9 L399.3,374.9 L401.7,373.9 L404.0,372.9 L406.4,371.9 L408.8,371.0 L411.2,370.0 L413.6,369.0 L415.9,368.0 L418.3,367.0 L420.7,366.1 L423.1,365.1 L425.5,364.1 L427.8,363.2 L430.2,362.2 L432.6,361.3 L435.0,360.3 L437.4,359.4 L439.7,358.5 L442.1,357.5 L444.5,356.6 L446.9,355.6 L449.3,354.7 L451.6,353.7 L454.0,352.8 L456.4,351.9 L458.8,350.9 L461.2,350.0 L463.5,349.1 L465.9,348.2 L468.3,347.3 L470.7,346.4 L473.0,345.5 L475.4,344.7 L477.8,343.8 L480.2,343.0 L482.6,342.2 L484.9,341.4 L487.3,340.7 L489.7,339.9 L492.1,339.2 L494.5,338.4 L496.8,337.7 L499.2,337.0 L501.6,336.3 L504.0,335.6 L506.4,334.9 L508.7,334.2 L511.1,333.5 L513.5,332.9 L515.9,332.2 L518.3,331.5 L520.6,330.8 L523.0,330.1 L525.4,329.5 L527.8,328.8 L530.2,328.1 L532.5,327.4 L534.9,326.7 L537.3,326.1 L539.7,325.4 L542.1,324.7 L544.4,324.1 L546.8,323.4 L549.2,322.8 L551.6,322.1 L553.9,321.5 L556.3,320.8 L558.7,320.2 L561.1,319.5 L563.5,318.8 L565.8,318.2 L568.2,317.5 L570.6,316.8 L573.0,316.1 L575.4,315.4 L577.7,314.7 L580.1,313.9 L582.5,313.2 L584.9,312.4 L587.3,311.7 L589.6,310.9 L592.0,310.2 L594.4,309.4 L596.8,308.6 L599.2,307.8 L601.5,307.0 L603.9,306.2 L606.3,305.4 L608.7,304.6 L611.1,303.7 L613.4,302.9 L615.8,302.1 L618.2,301.2 L620.6,300.4 L623.0,299.5 L625.3,298.7 L627.7,297.8 L630.1,297.0 L632.5,296.1 L634.8,295.2 L637.2,294.3 L639.6,293.5 L642.0,292.6 L644.4,291.7 L646.7,290.8 L649.1,289.8 L651.5,288.9 L653.9,288.0 L656.3,287.1 L658.6,286.1 L661.0,285.2 L663.4,284.3 L665.8,283.3 L668.2,282.3 L670.5,281.4 L672.9,280.4 L675.3,279.4 L677.7,278.5 L680.1,277.5 L682.4,276.5 L684.8,275.5 L687.2,274.5 L689.6,273.5 L692.0,272.5 L694.3,271.5 L696.7,270.5 L699.1,269.5 L701.5,268.4 L703.9,267.4 L706.2,266.4 L708.6,265.3 L711.0,264.3 L713.4,263.2 L715.7,262.2 L718.1,261.1 L720.5,260.0 L722.9,258.9 L725.3,257.8 L727.6,256.7 L730.0,255.7 L732.4,254.5 L734.8,253.4 L737.2,252.3 L739.5,251.2 L741.9,250.1 L744.3,249.0 L746.7,247.9 L749.1,246.7 L751.4,245.6 L753.8,244.5 L756.2,243.3 L758.6,242.2 L761.0,241.1 L763.3,239.9 L765.7,238.8 L768.1,237.7 L770.5,236.5 L772.9,235.4 L775.2,234.2 L777.6,233.0 L780.0,231.9 L782.4,230.7 L784.8,229.5 L787.1,228.4 L789.5,227.2 L791.9,226.0 L794.3,224.8 L796.6,223.6 L799.0,222.5 L801.4,221.3 L803.8,220.1 L806.2,218.9 L808.5,217.7 L810.9,216.4 L813.3,215.2 L815.7,214.0 L818.1,212.8 L820.4,211.6 L822.8,210.4 L825.2,209.1" stroke="#ff0000" stroke-width="2.7"/>
<path d="M321.7,467.5 L322.1,456.1 L322.5,446.0 L322.8,438.4 L323.2,433.5 L323.6,429.3 L324.0,425.7 L324.4,422.8 L324.7,421.0 L325.1,420.2 L325.5,419.7 L325.9,419.2 L326.3,418.7 L326.6,418.3 L327.0,418.0 L327.4,417.7 L327.8,417.4 L328.2,417.2 L328.5,416.9 L328.9,416.7 L329.3,416.5 L329.7,416.4 L330.1,416.2 L330.4,416.1 L330.8,415.9 L331.2,415.8 L331.6,415.7 L332.0,415.5 L332.3,415.4 L332.7,415.2 L333.1,415.1 L333.5,415.0 L333.9,414.9 L334.2,414.8 L334.6,414.7 L335.0,414.6 L335.4,414.5 L335.8,414.4 L336.1,414.4 L336.5,414.3 L336.9,414.2 L337.3,414.1 L337.6,414.0 L338.0,414.0 L338.4,413.9 L338.8,413.8 L339.2,413.7 L339.5,413.6 L339.9,413.5 L340.3,413.4 L340.7,413.3 L341.1,413.2 L341.4,413.1 L341.8,412.9 L342.2,412.8 L342.6,412.7 L343.0,412.5 L343.3,412.4 L343.7,412.2 L344.1,412.1 L344.5,411.9 L344.9,411.8 L345.2,411.6 L345.6,411.5 L346.0,411.3 L346.4,411.1 L346.8,411.0 L347.1,410.8 L347.5,410.6 L347.9,410.5 L348.3,410.3 L348.7,410.1 L349.0,409.9 L349.4,409.7 L349.8,409.5 L350.2,409.4 L350.6,409.2 L350.9,409.0 L351.3,408.8 L351.7,408.6 L354.1,407.4 L356.5,406.1 L358.8,404.8 L361.2,403.5 L363.6,402.3 L366.0,401.1 L368.4,400.0 L370.7,398.9 L373.1,397.9 L375.5,396.8 L377.9,395.8 L380.3,394.8 L382.6,393.9 L385.0,392.9 L387.4,391.9 L389.8,390.9 L392.1,389.9 L394.5,388.9 L396.9,388.0 L399.3,387.0 L401.7,386.0 L404.0,385.0 L406.4,384.0 L408.8,383.0 L411.2,382.1 L413.6,381.1 L415.9,380.1 L418.3,379.1 L420.7,378.2 L423.1,377.2 L425.5,376.3 L427.8,375.3 L430.2,374.3 L432.6,373.4 L435.0,372.4 L437.4,371.5 L439.7,370.5 L442.1,369.6 L444.5,368.6 L446.9,367.7 L449.3,366.7 L451.6,365.8 L454.0,364.8 L456.4,363.9 L458.8,362.9 L461.2,362.0 L463.5,361.1 L465.9,360.2 L468.3,359.2 L470.7,358.3 L473.0,357.4 L475.4,356.5 L477.8,355.6 L480.2,354.8 L482.6,353.9 L484.9,353.1 L487.3,352.2 L489.7,351.4 L492.1,350.6 L494.5,349.7 L496.8,348.9 L499.2,348.1 L501.6,347.3 L504.0,346.5 L506.4,345.7 L508.7,345.0 L511.1,344.2 L513.5,343.4 L515.9,342.6 L518.3,341.8 L520.6,341.1 L523.0,340.3 L525.4,339.5 L527.8,338.7 L530.2,338.0 L532.5,337.2 L534.9,336.4 L537.3,335.6 L539.7,334.9 L542.1,334.1 L544.4,333.3 L546.8,332.6 L549.2,331.8 L551.6,331.0 L553.9,330.3 L556.3,329.5 L558.7,328.8 L561.1,328.0 L563.5,327.2 L565.8,326.5 L568.2,325.7 L570.6,325.0 L573.0,324.2 L575.4,323.4 L577.7,322.7 L580.1,321.9 L582.5,321.1 L584.9,320.3 L587.3,319.6 L589.6,318.8 L592.0,318.0 L594.4,317.2 L596.8,316.5 L599.2,315.7 L601.5,314.9 L603.9,314.2 L606.3,313.4 L608.7,312.6 L611.1,311.8 L613.4,311.0 L615.8,310.2 L618.2,309.5 L620.6,308.7 L623.0,307.9 L625.3,307.1 L627.7,306.3 L630.1,305.5 L632.5,304.7 L634.8,303.8 L637.2,303.0 L639.6,302.2 L642.0,301.4 L644.4,300.5 L646.7,299.7 L649.1,298.9 L651.5,298.0 L653.9,297.2 L656.3,296.3 L658.6,295.5 L661.0,294.6 L663.4,293.8 L665.8,292.9 L668.2,292.1 L670.5,291.2 L672.9,290.3 L675.3,289.5 L677.7,288.6 L680.1,287.7 L682.4,286.8 L684.8,285.9 L687.2,285.0 L689.6,284.1 L692.0,283.2 L694.3,282.3 L696.7,281.4 L699.1,280.5 L701.5,279.5 L703.9,278.6 L706.2,277.6 L708.6,276.7 L711.0,275.7 L713.4,274.7 L715.7,273.8 L718.1,272.8 L720.5,271.8 L722.9,270.8 L725.3,269.8 L727.6,268.8 L730.0,267.8 L732.4,266.8 L734.8,265.8 L737.2,264.7 L739.5,263.7 L741.9,262.7 L744.3,261.7 L746.7,260.6 L749.1,259.6 L751.4,258.6 L753.8,257.5 L756.2,256.5 L758.6,255.4 L761.0,254.4 L763.3,253.3 L765.7,252.3 L768.1,251.2 L770.5,250.2 L772.9,249.1 L775.2,248.0 L777.6,247.0 L780.0,245.9 L782.4,244.8 L784.8,243.7 L787.1,242.6 L789.5,241.6 L791.9,240.5 L794.3,239.4 L796.6,238.3 L799.0,237.2 L801.4,236.1 L803.8,235.0 L806.2,233.8 L808.5,232.7 L810.9,231.6 L813.3,230.5 L815.7,229.4 L818.1,228.2 L820.4,227.1 L822.8,226.0 L825.2,224.8" stroke="#ff0000" stroke-width="2.7"/>
<path d="M321.7,467.5 L322.1,464.4 L322.5,461.2 L322.8,458.2 L323.2,455.4 L323.6,452.8 L324.0,450.6 L324.4,448.8 L324.7,447.1 L325.1,445.5 L325.5,444.0 L325.9,442.6 L326.3,441.3 L326.6,440.0 L327.0,438.8 L327.4,437.6 L327.8,436.5 L328.2,435.4 L328.5,434.4 L328.9,433.4 L329.3,432.4 L329.7,431.5 L330.1,430.5 L330.4,429.6 L330.8,428.7 L331.2,427.8 L331.6,426.9 L332.0,426.0 L332.3,425.1 L332.7,424.2 L333.1,423.3 L333.5,422.4 L333.9,421.6 L334.2,420.7 L334.6,419.8 L335.0,419.0 L335.4,418.1 L335.8,417.3 L336.1,416.5 L336.5,415.7 L336.9,414.9 L337.3,414.1 L337.6,413.3 L338.0,412.5 L338.4,411.8 L338.8,411.0 L339.2,410.3 L339.5,409.6 L339.9,408.9 L340.3,408.2 L340.7,407.5 L341.1,406.8 L341.4,406.2 L341.8,405.5 L342.2,404.9 L342.6,404.3 L343.0,403.7 L343.3,403.1 L343.7,402.5 L344.1,402.0 L344.5,401.4 L344.9,400.9 L345.2,400.4 L345.6,399.9 L346.0,399.4 L346.4,398.9 L346.8,398.4 L347.1,398.0 L347.5,397.5 L347.9,397.0 L348.3,396.6 L348.7,396.1 L349.0,395.7 L349.4,395.2 L349.8,394.8 L350.2,394.4 L350.6,393.9 L350.9,393.5 L351.3,393.1 L351.7,392.7 L354.1,390.2 L356.5,387.9 L358.8,385.7 L361.2,383.8 L363.6,382.0 L366.0,380.3 L368.4,378.9 L370.7,377.5 L373.1,376.3 L375.5,375.1 L377.9,374.0 L380.3,373.0 L382.6,372.1 L385.0,371.2 L387.4,370.4 L389.8,369.6 L392.1,368.9 L394.5,368.2 L396.9,367.5 L399.3,366.9 L401.7,366.3 L404.0,365.7 L406.4,365.2 L408.8,364.6 L411.2,364.1 L413.6,363.6 L415.9,363.1 L418.3,362.6 L420.7,362.2 L423.1,361.7 L425.5,361.2 L427.8,360.7 L430.2,360.3 L432.6,359.8 L435.0,359.3 L437.4,358.8 L439.7,358.3 L442.1,357.8 L444.5,357.4 L446.9,356.9 L449.3,356.4 L451.6,356.0 L454.0,355.5 L456.4,355.1 L458.8,354.6 L461.2,354.2 L463.5,353.7 L465.9,353.3 L468.3,352.8 L470.7,352.3 L473.0,351.8 L475.4,351.4 L477.8,350.9 L480.2,350.4 L482.6,349.8 L484.9,349.3 L487.3,348.8 L489.7,348.2 L492.1,347.7 L494.5,347.1 L496.8,346.5 L499.2,345.9 L501.6,345.4 L504.0,344.8 L506.4,344.2 L508.7,343.6 L511.1,342.9 L513.5,342.3 L515.9,341.7 L518.3,341.1 L520.6,340.5 L523.0,339.8 L525.4,339.2 L527.8,338.5 L530.2,337.9 L532.5,337.3 L534.9,336.6 L537.3,335.9 L539.7,335.3 L542.1,334.6 L544.4,333.9 L546.8,333.2 L549.2,332.5 L551.6,331.8 L553.9,331.1 L556.3,330.4 L558.7,329.7 L561.1,329.0 L563.5,328.3 L565.8,327.5 L568.2,326.8 L570.6,326.1 L573.0,325.4 L575.4,324.7 L577.7,323.9 L580.1,323.2 L582.5,322.5 L584.9,321.8 L587.3,321.1 L589.6,320.3 L592.0,319.6 L594.4,318.9 L596.8,318.2 L599.2,317.4 L601.5,316.7 L603.9,316.0 L606.3,315.2 L608.7,314.5 L611.1,313.8 L613.4,313.0 L615.8,312.3 L618.2,311.5 L620.6,310.8 L623.0,310.0 L625.3,309.3 L627.7,308.5 L630.1,307.8 L632.5,307.0 L634.8,306.2 L637.2,305.4 L639.6,304.7 L642.0,303.9 L644.4,303.1 L646.7,302.3 L649.1,301.5 L651.5,300.7 L653.9,299.9 L656.3,299.1 L658.6,298.3 L661.0,297.5 L663.4,296.7 L665.8,295.9 L668.2,295.1 L670.5,294.3 L672.9,293.5 L675.3,292.6 L677.7,291.8 L680.1,291.0 L682.4,290.1 L684.8,289.3 L687.2,288.4 L689.6,287.6 L692.0,286.7 L694.3,285.8 L696.7,285.0 L699.1,284.1 L701.5,283.2 L703.9,282.3 L706.2,281.4 L708.6,280.5 L711.0,279.6 L713.4,278.6 L715.7,277.7 L718.1,276.8 L720.5,275.8 L722.9,274.9 L725.3,273.9 L727.6,273.0 L730.0,272.0 L732.4,271.0 L734.8,270.1 L737.2,269.1 L739.5,268.1 L741.9,267.1 L744.3,266.1 L746.7,265.2 L749.1,264.2 L751.4,263.2 L753.8,262.2 L756.2,261.2 L758.6,260.2 L761.0,259.2 L763.3,258.2 L765.7,257.2 L768.1,256.2 L770.5,255.2 L772.9,254.1 L775.2,253.1 L777.6,252.1 L780.0,251.1 L782.4,250.0 L784.8,249.0 L787.1,248.0 L789.5,246.9 L791.9,245.9 L794.3,244.8 L796.6,243.8 L799.0,242.7 L801.4,241.6 L803.8,240.6 L806.2,239.5 L808.5,238.4 L810.9,237.4 L813.3,236.3 L815.7,235.2 L818.1,234.1 L820.4,233.0 L822.8,232.0 L825.2,230.9" stroke="#0000ff" stroke-width="6"/>
<path d="M321.7,467.5 L322.1,453.9 L322.5,441.9 L322.8,433.1 L323.2,427.9 L323.6,423.4 L324.0,419.7 L324.4,416.8 L324.7,415.0 L325.1,414.2 L325.5,413.6 L325.9,413.1 L326.3,412.7 L326.6,412.3 L327.0,412.0 L327.4,411.6 L327.8,411.4 L328.2,411.1 L328.5,410.9 L328.9,410.7 L329.3,410.5 L329.7,410.3 L330.1,410.2 L330.4,410.0 L330.8,409.9 L331.2,409.8 L331.6,409.6 L332.0,409.5 L332.3,409.3 L332.7,409.2 L333.1,409.1 L333.5,409.0 L333.9,408.9 L334.2,408.8 L334.6,408.7 L335.0,408.6 L335.4,408.5 L335.8,408.4 L336.1,408.3 L336.5,408.2 L336.9,408.2 L337.3,408.1 L337.6,408.0 L338.0,407.9 L338.4,407.8 L338.8,407.8 L339.2,407.7 L339.5,407.6 L339.9,407.5 L340.3,407.4 L340.7,407.3 L341.1,407.1 L341.4,407.0 L341.8,406.9 L342.2,406.8 L342.6,406.6 L343.0,406.5 L343.3,406.3 L343.7,406.2 L344.1,406.0 L344.5,405.9 L344.9,405.7 L345.2,405.6 L345.6,405.4 L346.0,405.3 L346.4,405.1 L346.8,404.9 L347.1,404.8 L347.5,404.6 L347.9,404.4 L348.3,404.2 L348.7,404.1 L349.0,403.9 L349.4,403.7 L349.8,403.5 L350.2,403.3 L350.6,403.1 L350.9,402.9 L351.3,402.8 L351.7,402.6 L354.1,401.3 L356.5,400.0 L358.8,398.8 L361.2,397.5 L363.6,396.2 L366.0,395.0 L368.4,393.9 L370.7,392.9 L373.1,391.8 L375.5,390.8 L377.9,389.8 L380.3,388.8 L382.6,387.8 L385.0,386.8 L387.4,385.9 L389.8,384.9 L392.1,383.9 L394.5,382.9 L396.9,381.9 L399.3,380.9 L401.7,379.9 L404.0,379.0 L406.4,378.0 L408.8,377.0 L411.2,376.0 L413.6,375.0 L415.9,374.1 L418.3,373.1 L420.7,372.1 L423.1,371.2 L425.5,370.2 L427.8,369.2 L430.2,368.3 L432.6,367.3 L435.0,366.4 L437.4,365.4 L439.7,364.5 L442.1,363.5 L444.5,362.6 L446.9,361.7 L449.3,360.7 L451.6,359.8 L454.0,358.8 L456.4,357.9 L458.8,356.9 L461.2,356.0 L463.5,355.1 L465.9,354.2 L468.3,353.3 L470.7,352.4 L473.0,351.5 L475.4,350.6 L477.8,349.7 L480.2,348.9 L482.6,348.1 L484.9,347.2 L487.3,346.4 L489.7,345.6 L492.1,344.9 L494.5,344.1 L496.8,343.3 L499.2,342.6 L501.6,341.8 L504.0,341.1 L506.4,340.3 L508.7,339.6 L511.1,338.9 L513.5,338.1 L515.9,337.4 L518.3,336.7 L520.6,335.9 L523.0,335.2 L525.4,334.5 L527.8,333.8 L530.2,333.0 L532.5,332.3 L534.9,331.6 L537.3,330.8 L539.7,330.1 L542.1,329.4 L544.4,328.7 L546.8,328.0 L549.2,327.3 L551.6,326.6 L553.9,325.8 L556.3,325.1 L558.7,324.4 L561.1,323.7 L563.5,323.0 L565.8,322.3 L568.2,321.6 L570.6,320.8 L573.0,320.1 L575.4,319.4 L577.7,318.6 L580.1,317.9 L582.5,317.2 L584.9,316.4 L587.3,315.7 L589.6,314.9 L592.0,314.2 L594.4,313.4 L596.8,312.7 L599.2,311.9 L601.5,311.2 L603.9,310.4 L606.3,309.6 L608.7,308.9 L611.1,308.1 L613.4,307.3 L615.8,306.6 L618.2,305.8 L620.6,305.0 L623.0,304.2 L625.3,303.4 L627.7,302.6 L630.1,301.8 L632.5,301.0 L634.8,300.2 L637.2,299.4 L639.6,298.6 L642.0,297.8 L644.4,296.9 L646.7,296.1 L649.1,295.3 L651.5,294.4 L653.9,293.6 L656.3,292.8 L658.6,291.9 L661.0,291.1 L663.4,290.2 L665.8,289.3 L668.2,288.5 L670.5,287.6 L672.9,286.7 L675.3,285.9 L677.7,285.0 L680.1,284.1 L682.4,283.2 L684.8,282.3 L687.2,281.4 L689.6,280.5 L692.0,279.6 L694.3,278.7 L696.7,277.8 L699.1,276.8 L701.5,275.9 L703.9,275.0 L706.2,274.0 L708.6,273.1 L711.0,272.1 L713.4,271.1 L715.7,270.1 L718.1,269.2 L720.5,268.2 L722.9,267.2 L725.3,266.2 L727.6,265.2 L730.0,264.2 L732.4,263.2 L734.8,262.1 L737.2,261.1 L739.5,260.1 L741.9,259.1 L744.3,258.0 L746.7,257.0 L749.1,256.0 L751.4,254.9 L753.8,253.9 L756.2,252.8 L758.6,251.8 L761.0,250.8 L763.3,249.7 L765.7,248.7 L768.1,247.6 L770.5,246.5 L772.9,245.5 L775.2,244.4 L777.6,243.3 L780.0,242.3 L782.4,241.2 L784.8,240.1 L787.1,239.0 L789.5,237.9 L791.9,236.8 L794.3,235.8 L796.6,234.7 L799.0,233.6 L801.4,232.4 L803.8,231.3 L806.2,230.2 L808.5,229.1 L810.9,228.0 L813.3,226.9 L815.7,225.7 L818.1,224.6 L820.4,223.5 L822.8,222.3 L825.2,221.2" stroke="#ff0000" stroke-width="6"/>
<path d="M321.7,467.5 L322.1,465.7 L322.5,464.1 L322.8,462.5 L323.2,461.0 L323.6,459.6 L324.0,458.5 L324.4,457.5 L324.7,456.6 L325.1,455.8 L325.5,455.1 L325.9,454.5 L326.3,453.8 L326.6,453.2 L327.0,452.7 L327.4,452.1 L327.8,451.5 L328.2,451.0 L328.5,450.4 L328.9,449.8 L329.3,449.2 L329.7,448.7 L330.1,448.1 L330.4,447.6 L330.8,447.0 L331.2,446.5 L331.6,446.0 L332.0,445.5 L332.3,445.0 L332.7,444.6 L333.1,444.1 L333.5,443.7 L333.9,443.2 L334.2,442.8 L334.6,442.4 L335.0,442.0 L335.4,441.6 L335.8,441.2 L336.1,440.9 L336.5,440.5 L336.9,440.1 L337.3,439.7 L337.6,439.4 L338.0,439.0 L338.4,438.7 L338.8,438.3 L339.2,438.0 L339.5,437.7 L339.9,437.3 L340.3,437.0 L340.7,436.7 L341.1,436.3 L341.4,436.0 L341.8,435.7 L342.2,435.4 L342.6,435.1 L343.0,434.8 L343.3,434.5 L343.7,434.2 L344.1,433.9 L344.5,433.6 L344.9,433.3 L345.2,433.0 L345.6,432.8 L346.0,432.5 L346.4,432.2 L346.8,431.9 L347.1,431.7 L347.5,431.4 L347.9,431.1 L348.3,430.9 L348.7,430.6 L349.0,430.4 L349.4,430.1 L349.8,429.9 L350.2,429.6 L350.6,429.4 L350.9,429.1 L351.3,428.9 L351.7,428.6 L354.1,427.2 L356.5,425.7 L358.8,424.4 L361.2,423.0 L363.6,421.8 L366.0,420.5 L368.4,419.4 L370.7,418.2 L373.1,417.1 L375.5,416.0 L377.9,414.9 L380.3,413.9 L382.6,412.8 L385.0,411.8 L387.4,410.8 L389.8,409.8 L392.1,408.9 L394.5,408.0 L396.9,407.1 L399.3,406.2 L401.7,405.3 L404.0,404.5 L406.4,403.7 L408.8,402.9 L411.2,402.0 L413.6,401.2 L415.9,400.4 L418.3,399.6 L420.7,398.8 L423.1,398.0 L425.5,397.2 L427.8,396.3 L430.2,395.5 L432.6,394.6 L435.0,393.7 L437.4,392.8 L439.7,391.9 L442.1,391.0 L444.5,390.1 L446.9,389.2 L449.3,388.3 L451.6,387.3 L454.0,386.4 L456.4,385.5 L458.8,384.6 L461.2,383.6 L463.5,382.7 L465.9,381.8 L468.3,380.8 L470.7,379.9 L473.0,378.9 L475.4,378.0 L477.8,377.0 L480.2,376.1 L482.6,375.1 L484.9,374.1 L487.3,373.1 L489.7,372.2 L492.1,371.2 L494.5,370.2 L496.8,369.2 L499.2,368.2 L501.6,367.2 L504.0,366.2 L506.4,365.1 L508.7,364.1 L511.1,363.1 L513.5,362.0 L515.9,361.0 L518.3,359.9 L520.6,358.9 L523.0,357.8 L525.4,356.7 L527.8,355.6 L530.2,354.5 L532.5,353.4 L534.9,352.2 L537.3,351.1 L539.7,349.9 L542.1,348.7 L544.4,347.5 L546.8,346.3 L549.2,345.1 L551.6,343.8 L553.9,342.6 L556.3,341.3 L558.7,340.1 L561.1,338.8 L563.5,337.6 L565.8,336.3 L568.2,335.1 L570.6,333.8 L573.0,332.5 L575.4,331.3 L577.7,330.1 L580.1,328.8 L582.5,327.6 L584.9,326.4 L587.3,325.2 L589.6,324.0 L592.0,322.8 L594.4,321.6 L596.8,320.4 L599.2,319.2 L601.5,318.0 L603.9,316.8 L606.3,315.6 L608.7,314.3 L611.1,313.0 L613.4,311.8 L615.8,310.5 L618.2,309.2 L620.6,307.9 L623.0,306.6 L625.3,305.2 L627.7,303.9 L630.1,302.6 L632.5,301.3 L634.8,299.9 L637.2,298.6 L639.6,297.2 L642.0,295.8 L644.4,294.5 L646.7,293.1 L649.1,291.7 L651.5,290.3 L653.9,288.9 L656.3,287.5 L658.6,286.1 L661.0,284.7 L663.4,283.3 L665.8,281.8 L668.2,280.4 L670.5,278.9 L672.9,277.5 L675.3,276.0 L677.7,274.6 L680.1,273.1 L682.4,271.6 L684.8,270.1 L687.2,268.7 L689.6,267.2 L692.0,265.6 L694.3,264.1 L696.7,262.6 L699.1,261.1 L701.5,259.6 L703.9,258.0 L706.2,256.5 L708.6,254.9 L711.0,253.4 L713.4,251.8 L715.7,250.2 L718.1,248.7 L720.5,247.1 L722.9,245.5 L725.3,243.9 L727.6,242.3 L730.0,240.7 L732.4,239.1 L734.8,237.5 L737.2,235.8 L739.5,234.2 L741.9,232.6 L744.3,231.0 L746.7,229.3 L749.1,227.7 L751.4,226.0 L753.8,224.4 L756.2,222.7 L758.6,221.0 L761.0,219.3 L763.3,217.7 L765.7,216.0 L768.1,214.3 L770.5,212.6 L772.9,210.9 L775.2,209.1 L777.6,207.4 L780.0,205.7 L782.4,204.0 L784.8,202.2 L787.1,200.5 L789.5,198.7 L791.9,197.0 L794.3,195.2 L796.6,193.4 L799.0,191.6 L801.4,189.9 L803.8,188.1 L806.2,186.3 L808.5,184.5 L810.9,182.7 L813.3,180.9 L815.7,179.0 L818.1,177.2 L820.4,175.4 L822.8,173.5 L825.2,171.7" stroke="#000" stroke-width="6" stroke-dasharray="30 18" stroke-dashoffset="-2"/>
</g>
<g stroke="#000" fill="none">
<rect x="321.7" y="105.3" width="503.5" height="362.2" stroke-width="3.4"/>
<g stroke-width="2.8">
<path d="M372.1,467.5 v-20 M372.1,105.3 v20"/>
<path d="M422.4,467.5 v-20 M422.4,105.3 v20"/>
<path d="M472.8,467.5 v-20 M472.8,105.3 v20"/>
<path d="M523.1,467.5 v-20 M523.1,105.3 v20"/>
<path d="M573.5,467.5 v-40 M573.5,105.3 v40"/>
<path d="M623.8,467.5 v-20 M623.8,105.3 v20"/>
<path d="M674.2,467.5 v-20 M674.2,105.3 v20"/>
<path d="M724.5,467.5 v-20 M724.5,105.3 v20"/>
<path d="M774.9,467.5 v-20 M774.9,105.3 v20"/>
<path d="M321.7,407.1 h20 M825.2,407.1 h-20"/>
<path d="M321.7,346.8 h40 M825.2,346.8 h-40"/>
<path d="M321.7,286.4 h20 M825.2,286.4 h-20"/>
<path d="M321.7,226.0 h40 M825.2,226.0 h-40"/>
<path d="M321.7,165.7 h20 M825.2,165.7 h-20"/>
</g></g>
<g font-family='"Liberation Serif", serif' fill="#000" font-size="56.3" opacity="0.999">
<text x="162.6" y="972.4" text-anchor="end" font-size="57.4">0</text>
<text x="162.6" y="817.4" text-anchor="end" font-size="57.4">100</text>
<text x="162.6" y="662.4" text-anchor="end" font-size="57.4">200</text>
<text x="162.6" y="507.5" text-anchor="end" font-size="57.4">300</text>
<text x="162.6" y="352.5" text-anchor="end" font-size="57.4">400</text>
<text x="162.6" y="197.5" text-anchor="end" font-size="57.4">500</text>
<text x="162.6" y="42.5" text-anchor="end" font-size="57.4">600</text>
<text x="180.8" y="1089.6" text-anchor="middle" font-size="57.4">0.0</text>
<text x="382.4" y="1089.6" text-anchor="middle" font-size="57.4">0.2</text>
<text x="583.9" y="1089.6" text-anchor="middle" font-size="57.4">0.4</text>
<text x="785.5" y="1089.6" text-anchor="middle" font-size="57.4">0.6</text>
<text x="987.0" y="1089.6" text-anchor="middle" font-size="57.4">0.8</text>
<text x="1188.6" y="1089.6" text-anchor="middle" font-size="57.4">1.0</text>
<text x="384.3" y="667.5" font-size="56.8">DDTC</text>
<text x="384.3" y="726.2" font-size="56.8">DDT</text>
<text x="384.3" y="784.5" font-size="56.8">DD2</text>
<text x="362.3" y="578.7">pure neutron matter</text>
<text x="844.7" y="862.3">symmetric</text>
<text x="846.1" y="917.2" font-size="55.9">nuclear matter</text>
<text x="387.5" y="1172.2" xml:space="preserve">baryon density   n<tspan font-size="40.0" dy="21.4">b</tspan><tspan dy="-21.4">   [fm</tspan><tspan font-size="40.0" dy="-34">-3</tspan><tspan dy="34">]</tspan></text>
<text transform="translate(45,905.2) rotate(-90)" font-size="56.65" xml:space="preserve">energy per nucleon   E/A   [MeV]</text>
</g>
<g font-family='"Liberation Serif", serif' fill="#000" font-size="45.0" opacity="0.999">
<text x="302.3" y="482.9" text-anchor="end">0</text>
<text x="302.3" y="362.2" text-anchor="end">10</text>
<text x="302.3" y="241.4" text-anchor="end">20</text>
<text x="302.3" y="120.7" text-anchor="end">30</text>
<text x="322.0" y="518.8" text-anchor="middle">0.0</text>
<text x="573.8" y="518.8" text-anchor="middle">0.1</text>
<text x="825.5" y="518.8" text-anchor="middle">0.2</text>
</g>
</svg>
</body></html>
